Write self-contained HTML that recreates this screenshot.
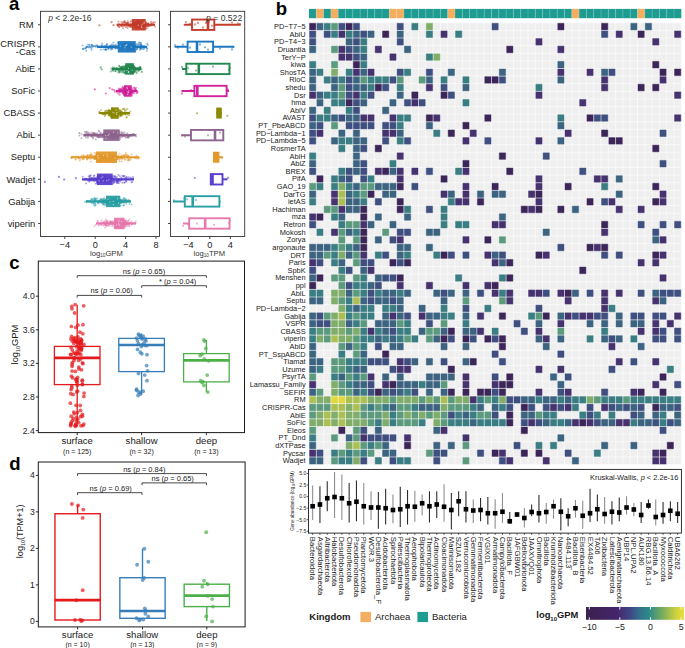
<!DOCTYPE html>
<html><head><meta charset="utf-8"><style>
html,body{margin:0;padding:0;background:#fff;}
svg{display:block;font-family:"Liberation Sans", sans-serif;}
</style></head><body>
<svg width="685" height="648" viewBox="0 0 685 648">
<rect width="685" height="648" fill="#fff"/>
<text x="8.90" y="10.40" font-size="18.6" text-anchor="start" font-weight="bold" fill="#000" >a</text>
<text x="275.80" y="15.30" font-size="18.6" text-anchor="start" font-weight="bold" fill="#000" >b</text>
<text x="9.20" y="268.50" font-size="18.6" text-anchor="start" font-weight="bold" fill="#000" >c</text>
<text x="9.20" y="470.30" font-size="18.6" text-anchor="start" font-weight="bold" fill="#000" >d</text>
<rect x="40.50" y="11.30" width="119.00" height="225.20" fill="none" stroke="#333333" stroke-width="0.9" />
<rect x="170.50" y="11.30" width="74.20" height="225.20" fill="none" stroke="#333333" stroke-width="0.9" />
<line x1="38.00" y1="24.75" x2="40.50" y2="24.75" stroke="#333333" stroke-width="0.9" />
<line x1="116.60" y1="24.75" x2="155.00" y2="24.75" stroke="#c43e2c" stroke-width="2.2" />
<rect x="131.80" y="19.00" width="13.90" height="11.50" fill="#c43e2c" stroke="none" stroke-width="1" fill-opacity="0.95"/>
<g fill="#c43e2c" fill-opacity="0.5"><circle cx="140.7" cy="24.2" r="0.95"/><circle cx="134.9" cy="22.9" r="0.95"/><circle cx="147.3" cy="23.8" r="0.95"/><circle cx="141.9" cy="25.4" r="0.95"/><circle cx="130.8" cy="24.7" r="0.95"/><circle cx="127.3" cy="23.9" r="0.95"/><circle cx="127.8" cy="21.3" r="0.95"/><circle cx="128.0" cy="25.3" r="0.95"/><circle cx="137.2" cy="20.4" r="0.95"/><circle cx="141.0" cy="25.0" r="0.95"/><circle cx="134.7" cy="22.9" r="0.95"/><circle cx="145.5" cy="23.2" r="0.95"/><circle cx="144.4" cy="23.6" r="0.95"/><circle cx="139.5" cy="24.9" r="0.95"/><circle cx="139.2" cy="27.3" r="0.95"/><circle cx="144.3" cy="25.0" r="0.95"/><circle cx="130.6" cy="26.2" r="0.95"/><circle cx="139.2" cy="25.8" r="0.95"/><circle cx="143.1" cy="24.6" r="0.95"/><circle cx="139.5" cy="23.5" r="0.95"/><circle cx="134.8" cy="25.0" r="0.95"/><circle cx="133.8" cy="24.4" r="0.95"/><circle cx="146.1" cy="22.2" r="0.95"/><circle cx="142.9" cy="21.0" r="0.95"/><circle cx="137.9" cy="27.1" r="0.95"/><circle cx="151.7" cy="24.0" r="0.95"/><circle cx="148.5" cy="23.9" r="0.95"/><circle cx="141.0" cy="24.5" r="0.95"/><circle cx="129.3" cy="24.7" r="0.95"/><circle cx="146.2" cy="26.0" r="0.95"/><circle cx="134.7" cy="24.1" r="0.95"/><circle cx="138.7" cy="25.9" r="0.95"/><circle cx="141.0" cy="21.5" r="0.95"/><circle cx="142.1" cy="23.0" r="0.95"/><circle cx="153.1" cy="23.2" r="0.95"/><circle cx="140.1" cy="25.7" r="0.95"/><circle cx="137.0" cy="26.1" r="0.95"/><circle cx="129.9" cy="24.6" r="0.95"/><circle cx="129.8" cy="25.2" r="0.95"/><circle cx="145.0" cy="25.1" r="0.95"/><circle cx="133.7" cy="24.5" r="0.95"/><circle cx="129.1" cy="25.4" r="0.95"/><circle cx="144.2" cy="21.4" r="0.95"/><circle cx="138.8" cy="26.2" r="0.95"/><circle cx="125.7" cy="27.1" r="0.95"/><circle cx="136.6" cy="24.2" r="0.95"/><circle cx="145.4" cy="26.8" r="0.95"/><circle cx="138.3" cy="23.2" r="0.95"/><circle cx="119.3" cy="27.1" r="0.95"/><circle cx="144.9" cy="24.8" r="0.95"/><circle cx="136.0" cy="23.7" r="0.95"/><circle cx="148.1" cy="24.0" r="0.95"/><circle cx="127.0" cy="23.2" r="0.95"/><circle cx="133.0" cy="22.7" r="0.95"/><circle cx="132.3" cy="27.4" r="0.95"/><circle cx="137.0" cy="23.5" r="0.95"/><circle cx="134.7" cy="24.7" r="0.95"/><circle cx="132.3" cy="25.6" r="0.95"/><circle cx="137.5" cy="22.6" r="0.95"/><circle cx="147.3" cy="23.8" r="0.95"/><circle cx="138.5" cy="23.9" r="0.95"/><circle cx="118.4" cy="24.2" r="0.95"/><circle cx="138.9" cy="27.0" r="0.95"/><circle cx="141.2" cy="23.7" r="0.95"/><circle cx="144.8" cy="26.6" r="0.95"/><circle cx="142.2" cy="26.2" r="0.95"/><circle cx="144.7" cy="23.9" r="0.95"/><circle cx="128.1" cy="26.4" r="0.95"/><circle cx="144.3" cy="28.3" r="0.95"/><circle cx="118.6" cy="21.5" r="0.95"/><circle cx="130.1" cy="24.7" r="0.95"/><circle cx="124.7" cy="20.7" r="0.95"/><circle cx="139.0" cy="24.3" r="0.95"/><circle cx="124.3" cy="21.9" r="0.95"/><circle cx="130.5" cy="21.6" r="0.95"/><circle cx="138.2" cy="25.5" r="0.95"/><circle cx="133.1" cy="22.9" r="0.95"/><circle cx="151.2" cy="23.3" r="0.95"/><circle cx="140.9" cy="28.6" r="0.95"/><circle cx="144.4" cy="24.6" r="0.95"/><circle cx="126.4" cy="23.9" r="0.95"/><circle cx="138.0" cy="24.9" r="0.95"/><circle cx="146.1" cy="24.7" r="0.95"/><circle cx="132.9" cy="21.0" r="0.95"/><circle cx="132.9" cy="23.7" r="0.95"/><circle cx="139.1" cy="22.5" r="0.95"/><circle cx="146.0" cy="25.0" r="0.95"/><circle cx="138.3" cy="24.8" r="0.95"/><circle cx="142.3" cy="25.2" r="0.95"/><circle cx="142.0" cy="23.4" r="0.95"/><circle cx="127.9" cy="24.5" r="0.95"/><circle cx="127.5" cy="28.0" r="0.95"/><circle cx="134.8" cy="26.2" r="0.95"/><circle cx="138.2" cy="24.9" r="0.95"/><circle cx="136.5" cy="24.4" r="0.95"/><circle cx="140.9" cy="24.7" r="0.95"/><circle cx="134.0" cy="24.0" r="0.95"/><circle cx="148.8" cy="26.6" r="0.95"/><circle cx="143.0" cy="25.0" r="0.95"/><circle cx="136.6" cy="24.4" r="0.95"/><circle cx="148.4" cy="25.8" r="0.95"/><circle cx="133.8" cy="23.5" r="0.95"/><circle cx="142.0" cy="24.9" r="0.95"/><circle cx="129.3" cy="24.6" r="0.95"/><circle cx="135.4" cy="24.3" r="0.95"/><circle cx="139.5" cy="21.7" r="0.95"/><circle cx="131.5" cy="26.4" r="0.95"/><circle cx="121.4" cy="22.1" r="0.95"/><circle cx="121.1" cy="25.9" r="0.95"/><circle cx="140.0" cy="24.7" r="0.95"/><circle cx="141.7" cy="28.6" r="0.95"/><circle cx="137.0" cy="22.8" r="0.95"/><circle cx="128.1" cy="22.6" r="0.95"/><circle cx="131.0" cy="26.8" r="0.95"/><circle cx="151.1" cy="25.8" r="0.95"/><circle cx="137.1" cy="23.6" r="0.95"/><circle cx="133.2" cy="24.8" r="0.95"/><circle cx="144.9" cy="23.0" r="0.95"/><circle cx="134.5" cy="25.3" r="0.95"/><circle cx="140.1" cy="25.3" r="0.95"/><circle cx="138.4" cy="25.1" r="0.95"/><circle cx="142.0" cy="28.3" r="0.95"/><circle cx="139.1" cy="21.5" r="0.95"/><circle cx="153.1" cy="22.1" r="0.95"/><circle cx="124.7" cy="24.5" r="0.95"/><circle cx="135.6" cy="23.5" r="0.95"/><circle cx="153.2" cy="25.2" r="0.95"/><circle cx="128.8" cy="24.6" r="0.95"/><circle cx="128.9" cy="25.0" r="0.95"/><circle cx="145.9" cy="26.8" r="0.95"/><circle cx="134.7" cy="25.7" r="0.95"/><circle cx="135.4" cy="24.1" r="0.95"/><circle cx="126.4" cy="26.3" r="0.95"/><circle cx="140.1" cy="26.7" r="0.95"/><circle cx="138.9" cy="25.1" r="0.95"/><circle cx="135.5" cy="26.7" r="0.95"/><circle cx="128.4" cy="23.0" r="0.95"/><circle cx="141.7" cy="21.1" r="0.95"/><circle cx="142.6" cy="27.3" r="0.95"/><circle cx="136.2" cy="22.6" r="0.95"/><circle cx="137.3" cy="27.8" r="0.95"/><circle cx="139.8" cy="21.6" r="0.95"/><circle cx="145.0" cy="22.4" r="0.95"/><circle cx="140.9" cy="22.8" r="0.95"/><circle cx="134.8" cy="24.7" r="0.95"/><circle cx="131.7" cy="24.2" r="0.95"/><circle cx="127.8" cy="24.7" r="0.95"/><circle cx="125.7" cy="24.8" r="0.95"/><circle cx="130.4" cy="26.4" r="0.95"/><circle cx="148.3" cy="23.3" r="0.95"/><circle cx="136.8" cy="23.3" r="0.95"/><circle cx="137.4" cy="25.9" r="0.95"/><circle cx="129.5" cy="24.6" r="0.95"/><circle cx="144.9" cy="23.0" r="0.95"/><circle cx="124.1" cy="26.0" r="0.95"/><circle cx="123.4" cy="24.6" r="0.95"/><circle cx="139.1" cy="22.7" r="0.95"/><circle cx="129.1" cy="25.5" r="0.95"/><circle cx="132.6" cy="25.9" r="0.95"/><circle cx="141.5" cy="22.9" r="0.95"/><circle cx="123.1" cy="28.3" r="0.95"/><circle cx="151.1" cy="24.7" r="0.95"/><circle cx="139.1" cy="28.4" r="0.95"/><circle cx="125.5" cy="22.8" r="0.95"/><circle cx="143.5" cy="26.3" r="0.95"/><circle cx="126.9" cy="24.1" r="0.95"/><circle cx="129.6" cy="26.7" r="0.95"/><circle cx="136.3" cy="21.9" r="0.95"/><circle cx="147.6" cy="26.3" r="0.95"/><circle cx="131.3" cy="21.2" r="0.95"/><circle cx="138.5" cy="24.6" r="0.95"/><circle cx="129.2" cy="24.6" r="0.95"/><circle cx="147.0" cy="28.3" r="0.95"/><circle cx="132.2" cy="24.6" r="0.95"/><circle cx="132.4" cy="24.6" r="0.95"/><circle cx="142.6" cy="24.6" r="0.95"/><circle cx="137.2" cy="23.4" r="0.95"/><circle cx="142.1" cy="23.7" r="0.95"/><circle cx="138.7" cy="22.2" r="0.95"/><circle cx="127.3" cy="23.6" r="0.95"/><circle cx="121.1" cy="24.9" r="0.95"/><circle cx="137.4" cy="23.9" r="0.95"/><circle cx="130.4" cy="24.2" r="0.95"/><circle cx="139.3" cy="22.5" r="0.95"/><circle cx="139.7" cy="24.5" r="0.95"/><circle cx="142.3" cy="21.6" r="0.95"/><circle cx="140.3" cy="25.3" r="0.95"/><circle cx="133.2" cy="24.3" r="0.95"/><circle cx="141.5" cy="25.1" r="0.95"/><circle cx="142.2" cy="27.0" r="0.95"/><circle cx="151.0" cy="21.8" r="0.95"/><circle cx="137.5" cy="20.4" r="0.95"/><circle cx="155.0" cy="22.3" r="0.95"/><circle cx="146.9" cy="24.0" r="0.95"/><circle cx="140.2" cy="27.8" r="0.95"/><circle cx="136.7" cy="22.4" r="0.95"/><circle cx="141.5" cy="25.5" r="0.95"/><circle cx="145.1" cy="23.3" r="0.95"/><circle cx="143.4" cy="25.9" r="0.95"/><circle cx="141.3" cy="24.2" r="0.95"/><circle cx="143.0" cy="21.6" r="0.95"/><circle cx="138.3" cy="25.3" r="0.95"/><circle cx="135.6" cy="23.6" r="0.95"/><circle cx="119.5" cy="24.1" r="0.95"/><circle cx="127.0" cy="23.6" r="0.95"/><circle cx="143.6" cy="20.4" r="0.95"/><circle cx="142.2" cy="26.0" r="0.95"/><circle cx="146.0" cy="25.3" r="0.95"/><circle cx="143.8" cy="23.7" r="0.95"/><circle cx="144.6" cy="28.5" r="0.95"/><circle cx="138.3" cy="25.1" r="0.95"/><circle cx="138.5" cy="27.5" r="0.95"/><circle cx="137.2" cy="24.4" r="0.95"/><circle cx="144.3" cy="21.9" r="0.95"/><circle cx="140.9" cy="23.5" r="0.95"/><circle cx="134.0" cy="25.7" r="0.95"/><circle cx="134.7" cy="26.7" r="0.95"/><circle cx="145.8" cy="23.0" r="0.95"/><circle cx="140.1" cy="23.4" r="0.95"/><circle cx="127.2" cy="23.0" r="0.95"/><circle cx="135.8" cy="26.5" r="0.95"/><circle cx="135.0" cy="27.1" r="0.95"/><circle cx="150.2" cy="24.9" r="0.95"/><circle cx="148.6" cy="24.5" r="0.95"/><circle cx="139.5" cy="25.6" r="0.95"/><circle cx="124.7" cy="22.0" r="0.95"/><circle cx="132.3" cy="24.5" r="0.95"/><circle cx="142.7" cy="24.1" r="0.95"/><circle cx="139.1" cy="24.1" r="0.95"/><circle cx="146.0" cy="24.7" r="0.95"/><circle cx="135.7" cy="24.3" r="0.95"/><circle cx="125.2" cy="22.8" r="0.95"/><circle cx="155.0" cy="26.6" r="0.95"/><circle cx="143.3" cy="28.7" r="0.95"/><circle cx="135.6" cy="27.1" r="0.95"/><circle cx="143.0" cy="23.8" r="0.95"/><circle cx="149.7" cy="25.8" r="0.95"/><circle cx="121.5" cy="26.0" r="0.95"/><circle cx="118.3" cy="26.0" r="0.95"/><circle cx="124.3" cy="25.4" r="0.95"/><circle cx="135.9" cy="23.6" r="0.95"/><circle cx="119.1" cy="27.1" r="0.95"/><circle cx="145.9" cy="28.5" r="0.95"/><circle cx="123.4" cy="23.1" r="0.95"/><circle cx="134.5" cy="24.9" r="0.95"/><circle cx="122.9" cy="21.9" r="0.95"/><circle cx="137.8" cy="24.2" r="0.95"/><circle cx="134.2" cy="23.6" r="0.95"/><circle cx="138.5" cy="28.3" r="0.95"/><circle cx="147.2" cy="26.1" r="0.95"/><circle cx="148.0" cy="24.6" r="0.95"/><circle cx="136.3" cy="24.9" r="0.95"/><circle cx="138.0" cy="22.7" r="0.95"/><circle cx="153.4" cy="24.6" r="0.95"/><circle cx="142.2" cy="26.1" r="0.95"/><circle cx="122.3" cy="26.5" r="0.95"/><circle cx="139.5" cy="27.7" r="0.95"/><circle cx="139.3" cy="23.8" r="0.95"/><circle cx="122.1" cy="23.5" r="0.95"/><circle cx="117.9" cy="25.9" r="0.95"/></g>
<g fill="#c43e2c" fill-opacity="0.6"><circle cx="99.4" cy="25.4" r="1.1"/><circle cx="111.6" cy="22.2" r="1.1"/><circle cx="113.5" cy="25.2" r="1.1"/></g>
<rect x="137.80" y="24.70" width="1" height="1.2" fill="#fff" fill-opacity="0.6"/>
<rect x="140.84" y="25.50" width="1" height="1.2" fill="#fff" fill-opacity="0.6"/>
<rect x="143.67" y="21.85" width="1" height="1.2" fill="#fff" fill-opacity="0.6"/>
<rect x="141.66" y="23.63" width="1" height="1.2" fill="#fff" fill-opacity="0.6"/>
<rect x="141.34" y="26.99" width="1" height="1.2" fill="#fff" fill-opacity="0.6"/>
<rect x="143.61" y="22.61" width="1" height="1.2" fill="#fff" fill-opacity="0.6"/>
<line x1="38.00" y1="46.83" x2="40.50" y2="46.83" stroke="#333333" stroke-width="0.9" />
<line x1="97.10" y1="46.83" x2="147.00" y2="46.83" stroke="#1f78bf" stroke-width="2.2" />
<rect x="117.80" y="41.08" width="18.00" height="11.50" fill="#1f78bf" stroke="none" stroke-width="1" fill-opacity="0.95"/>
<g fill="#1f78bf" fill-opacity="0.5"><circle cx="113.9" cy="45.1" r="0.95"/><circle cx="130.4" cy="45.6" r="0.95"/><circle cx="125.9" cy="43.1" r="0.95"/><circle cx="124.9" cy="47.5" r="0.95"/><circle cx="132.0" cy="46.9" r="0.95"/><circle cx="130.3" cy="47.6" r="0.95"/><circle cx="101.9" cy="46.5" r="0.95"/><circle cx="128.5" cy="44.2" r="0.95"/><circle cx="127.7" cy="44.5" r="0.95"/><circle cx="122.0" cy="46.7" r="0.95"/><circle cx="127.6" cy="45.6" r="0.95"/><circle cx="114.4" cy="46.8" r="0.95"/><circle cx="148.0" cy="44.9" r="0.95"/><circle cx="112.5" cy="48.3" r="0.95"/><circle cx="95.7" cy="46.8" r="0.95"/><circle cx="110.5" cy="45.9" r="0.95"/><circle cx="102.1" cy="46.0" r="0.95"/><circle cx="123.6" cy="43.5" r="0.95"/><circle cx="133.4" cy="47.9" r="0.95"/><circle cx="111.6" cy="48.0" r="0.95"/><circle cx="106.8" cy="45.3" r="0.95"/><circle cx="128.6" cy="49.0" r="0.95"/><circle cx="134.5" cy="45.7" r="0.95"/><circle cx="147.3" cy="48.3" r="0.95"/><circle cx="124.2" cy="47.4" r="0.95"/><circle cx="118.4" cy="43.5" r="0.95"/><circle cx="126.9" cy="47.0" r="0.95"/><circle cx="129.4" cy="48.4" r="0.95"/><circle cx="133.9" cy="50.8" r="0.95"/><circle cx="128.9" cy="47.1" r="0.95"/><circle cx="111.0" cy="46.6" r="0.95"/><circle cx="132.9" cy="46.0" r="0.95"/><circle cx="122.1" cy="47.1" r="0.95"/><circle cx="86.8" cy="46.8" r="0.95"/><circle cx="110.3" cy="46.4" r="0.95"/><circle cx="108.5" cy="47.2" r="0.95"/><circle cx="146.7" cy="51.1" r="0.95"/><circle cx="108.9" cy="48.2" r="0.95"/><circle cx="127.6" cy="49.8" r="0.95"/><circle cx="135.5" cy="46.7" r="0.95"/><circle cx="141.4" cy="45.6" r="0.95"/><circle cx="132.9" cy="46.9" r="0.95"/><circle cx="117.9" cy="42.8" r="0.95"/><circle cx="132.6" cy="47.1" r="0.95"/><circle cx="135.3" cy="46.0" r="0.95"/><circle cx="90.6" cy="47.4" r="0.95"/><circle cx="136.6" cy="44.2" r="0.95"/><circle cx="115.9" cy="44.7" r="0.95"/><circle cx="125.1" cy="44.4" r="0.95"/><circle cx="134.5" cy="49.1" r="0.95"/><circle cx="130.1" cy="48.2" r="0.95"/><circle cx="129.7" cy="46.8" r="0.95"/><circle cx="118.4" cy="47.0" r="0.95"/><circle cx="117.1" cy="46.0" r="0.95"/><circle cx="128.6" cy="48.5" r="0.95"/><circle cx="131.6" cy="51.1" r="0.95"/><circle cx="133.5" cy="46.2" r="0.95"/><circle cx="140.8" cy="43.1" r="0.95"/><circle cx="86.0" cy="48.3" r="0.95"/><circle cx="125.6" cy="47.7" r="0.95"/><circle cx="125.5" cy="48.8" r="0.95"/><circle cx="132.0" cy="44.9" r="0.95"/><circle cx="140.9" cy="45.1" r="0.95"/><circle cx="111.2" cy="45.1" r="0.95"/><circle cx="140.2" cy="47.8" r="0.95"/><circle cx="124.4" cy="48.8" r="0.95"/><circle cx="125.2" cy="47.9" r="0.95"/><circle cx="91.7" cy="46.4" r="0.95"/><circle cx="127.5" cy="45.1" r="0.95"/><circle cx="120.0" cy="47.7" r="0.95"/><circle cx="129.8" cy="47.6" r="0.95"/><circle cx="143.4" cy="47.5" r="0.95"/><circle cx="134.7" cy="45.6" r="0.95"/><circle cx="108.3" cy="46.9" r="0.95"/><circle cx="126.7" cy="43.4" r="0.95"/><circle cx="88.9" cy="47.5" r="0.95"/><circle cx="114.6" cy="46.4" r="0.95"/><circle cx="102.3" cy="43.5" r="0.95"/><circle cx="91.9" cy="45.0" r="0.95"/><circle cx="108.8" cy="48.1" r="0.95"/><circle cx="129.3" cy="46.2" r="0.95"/><circle cx="131.5" cy="50.2" r="0.95"/><circle cx="127.8" cy="45.0" r="0.95"/><circle cx="122.6" cy="48.4" r="0.95"/><circle cx="141.1" cy="43.1" r="0.95"/><circle cx="134.1" cy="46.2" r="0.95"/><circle cx="122.3" cy="44.2" r="0.95"/><circle cx="146.9" cy="49.0" r="0.95"/><circle cx="111.9" cy="46.1" r="0.95"/><circle cx="112.8" cy="45.5" r="0.95"/><circle cx="144.8" cy="46.1" r="0.95"/><circle cx="122.2" cy="45.5" r="0.95"/><circle cx="133.0" cy="45.6" r="0.95"/><circle cx="142.2" cy="49.1" r="0.95"/><circle cx="134.0" cy="49.0" r="0.95"/><circle cx="110.5" cy="46.6" r="0.95"/><circle cx="138.9" cy="42.5" r="0.95"/><circle cx="125.3" cy="46.4" r="0.95"/><circle cx="129.0" cy="46.4" r="0.95"/><circle cx="90.3" cy="46.8" r="0.95"/><circle cx="127.9" cy="47.2" r="0.95"/><circle cx="115.9" cy="48.3" r="0.95"/><circle cx="86.3" cy="50.7" r="0.95"/><circle cx="112.7" cy="47.4" r="0.95"/><circle cx="133.3" cy="47.3" r="0.95"/><circle cx="117.6" cy="46.4" r="0.95"/><circle cx="132.9" cy="46.1" r="0.95"/><circle cx="106.3" cy="46.7" r="0.95"/><circle cx="83.2" cy="48.8" r="0.95"/><circle cx="131.0" cy="47.5" r="0.95"/><circle cx="124.6" cy="46.2" r="0.95"/><circle cx="108.3" cy="49.4" r="0.95"/><circle cx="121.8" cy="45.9" r="0.95"/><circle cx="128.1" cy="45.5" r="0.95"/><circle cx="113.5" cy="42.5" r="0.95"/><circle cx="92.5" cy="46.8" r="0.95"/><circle cx="132.1" cy="44.3" r="0.95"/><circle cx="141.4" cy="47.4" r="0.95"/><circle cx="118.1" cy="48.8" r="0.95"/><circle cx="137.5" cy="47.1" r="0.95"/><circle cx="131.9" cy="45.7" r="0.95"/><circle cx="140.1" cy="45.0" r="0.95"/><circle cx="127.6" cy="51.1" r="0.95"/><circle cx="101.6" cy="45.2" r="0.95"/><circle cx="124.0" cy="47.7" r="0.95"/><circle cx="118.4" cy="45.3" r="0.95"/><circle cx="111.0" cy="47.8" r="0.95"/><circle cx="109.5" cy="46.1" r="0.95"/><circle cx="130.9" cy="45.7" r="0.95"/><circle cx="88.0" cy="44.6" r="0.95"/><circle cx="89.4" cy="46.2" r="0.95"/><circle cx="141.2" cy="45.3" r="0.95"/><circle cx="126.7" cy="46.7" r="0.95"/><circle cx="132.7" cy="45.2" r="0.95"/><circle cx="128.7" cy="48.0" r="0.95"/><circle cx="118.3" cy="48.6" r="0.95"/><circle cx="136.2" cy="49.5" r="0.95"/><circle cx="123.8" cy="48.4" r="0.95"/><circle cx="128.5" cy="45.8" r="0.95"/><circle cx="97.1" cy="45.1" r="0.95"/><circle cx="134.1" cy="48.7" r="0.95"/><circle cx="123.6" cy="45.3" r="0.95"/><circle cx="122.6" cy="48.0" r="0.95"/><circle cx="123.3" cy="46.8" r="0.95"/><circle cx="112.1" cy="44.1" r="0.95"/><circle cx="137.5" cy="47.3" r="0.95"/><circle cx="132.2" cy="49.2" r="0.95"/><circle cx="93.7" cy="46.2" r="0.95"/><circle cx="132.1" cy="49.1" r="0.95"/><circle cx="136.6" cy="49.4" r="0.95"/><circle cx="100.7" cy="46.6" r="0.95"/><circle cx="120.3" cy="48.6" r="0.95"/><circle cx="111.0" cy="49.6" r="0.95"/><circle cx="128.6" cy="48.6" r="0.95"/><circle cx="129.6" cy="42.5" r="0.95"/><circle cx="119.0" cy="45.0" r="0.95"/><circle cx="136.6" cy="45.9" r="0.95"/><circle cx="143.5" cy="46.0" r="0.95"/><circle cx="128.8" cy="47.6" r="0.95"/><circle cx="133.3" cy="45.9" r="0.95"/><circle cx="91.5" cy="48.3" r="0.95"/><circle cx="129.5" cy="46.7" r="0.95"/><circle cx="103.9" cy="49.5" r="0.95"/><circle cx="124.6" cy="48.2" r="0.95"/><circle cx="137.2" cy="47.5" r="0.95"/><circle cx="117.6" cy="47.8" r="0.95"/><circle cx="138.3" cy="47.6" r="0.95"/><circle cx="139.3" cy="47.1" r="0.95"/><circle cx="106.7" cy="44.1" r="0.95"/><circle cx="112.3" cy="49.2" r="0.95"/><circle cx="140.9" cy="48.7" r="0.95"/><circle cx="86.2" cy="47.0" r="0.95"/><circle cx="117.7" cy="46.8" r="0.95"/><circle cx="97.7" cy="47.3" r="0.95"/><circle cx="128.3" cy="48.4" r="0.95"/><circle cx="133.2" cy="43.8" r="0.95"/><circle cx="116.5" cy="48.0" r="0.95"/><circle cx="82.6" cy="45.4" r="0.95"/><circle cx="139.6" cy="47.4" r="0.95"/><circle cx="105.7" cy="49.5" r="0.95"/><circle cx="127.0" cy="46.4" r="0.95"/><circle cx="134.1" cy="51.1" r="0.95"/><circle cx="137.2" cy="47.9" r="0.95"/><circle cx="137.8" cy="44.5" r="0.95"/><circle cx="129.1" cy="48.5" r="0.95"/><circle cx="130.0" cy="45.4" r="0.95"/><circle cx="127.3" cy="45.5" r="0.95"/><circle cx="105.2" cy="45.9" r="0.95"/><circle cx="147.2" cy="43.7" r="0.95"/><circle cx="130.2" cy="50.6" r="0.95"/><circle cx="115.2" cy="48.6" r="0.95"/><circle cx="121.2" cy="50.1" r="0.95"/><circle cx="107.1" cy="44.3" r="0.95"/><circle cx="129.3" cy="44.2" r="0.95"/><circle cx="131.2" cy="47.9" r="0.95"/><circle cx="131.9" cy="47.9" r="0.95"/><circle cx="121.5" cy="47.6" r="0.95"/><circle cx="137.7" cy="46.3" r="0.95"/><circle cx="139.8" cy="42.7" r="0.95"/><circle cx="107.6" cy="48.6" r="0.95"/><circle cx="134.9" cy="47.1" r="0.95"/><circle cx="132.0" cy="45.5" r="0.95"/><circle cx="141.8" cy="45.1" r="0.95"/><circle cx="139.9" cy="49.8" r="0.95"/><circle cx="106.3" cy="46.5" r="0.95"/><circle cx="88.1" cy="47.0" r="0.95"/><circle cx="115.9" cy="46.6" r="0.95"/><circle cx="137.5" cy="46.7" r="0.95"/><circle cx="113.5" cy="46.2" r="0.95"/><circle cx="104.5" cy="46.3" r="0.95"/><circle cx="91.5" cy="49.9" r="0.95"/><circle cx="125.0" cy="45.1" r="0.95"/><circle cx="105.7" cy="49.6" r="0.95"/><circle cx="130.8" cy="45.5" r="0.95"/><circle cx="140.2" cy="48.2" r="0.95"/><circle cx="133.4" cy="47.4" r="0.95"/><circle cx="131.8" cy="45.7" r="0.95"/><circle cx="97.4" cy="46.0" r="0.95"/><circle cx="124.3" cy="45.0" r="0.95"/><circle cx="130.5" cy="44.1" r="0.95"/><circle cx="110.7" cy="48.2" r="0.95"/><circle cx="134.9" cy="46.2" r="0.95"/><circle cx="100.9" cy="49.7" r="0.95"/><circle cx="131.4" cy="44.9" r="0.95"/><circle cx="123.1" cy="47.0" r="0.95"/><circle cx="115.2" cy="47.7" r="0.95"/><circle cx="136.7" cy="47.0" r="0.95"/><circle cx="114.6" cy="47.3" r="0.95"/><circle cx="105.4" cy="49.4" r="0.95"/><circle cx="131.2" cy="46.7" r="0.95"/><circle cx="127.3" cy="45.9" r="0.95"/><circle cx="133.0" cy="48.1" r="0.95"/><circle cx="111.3" cy="47.4" r="0.95"/><circle cx="135.3" cy="51.1" r="0.95"/><circle cx="126.2" cy="46.5" r="0.95"/><circle cx="123.5" cy="49.7" r="0.95"/><circle cx="109.7" cy="46.1" r="0.95"/><circle cx="132.9" cy="46.1" r="0.95"/><circle cx="106.0" cy="50.0" r="0.95"/><circle cx="141.5" cy="48.3" r="0.95"/><circle cx="122.6" cy="48.2" r="0.95"/><circle cx="105.9" cy="49.1" r="0.95"/><circle cx="130.3" cy="48.3" r="0.95"/><circle cx="115.4" cy="47.6" r="0.95"/><circle cx="115.0" cy="45.6" r="0.95"/><circle cx="128.0" cy="47.7" r="0.95"/><circle cx="143.5" cy="49.1" r="0.95"/><circle cx="120.5" cy="46.7" r="0.95"/><circle cx="130.3" cy="43.6" r="0.95"/><circle cx="135.2" cy="47.5" r="0.95"/><circle cx="138.4" cy="44.5" r="0.95"/><circle cx="139.2" cy="46.4" r="0.95"/><circle cx="127.8" cy="46.0" r="0.95"/><circle cx="144.4" cy="48.5" r="0.95"/><circle cx="132.5" cy="46.6" r="0.95"/><circle cx="126.7" cy="44.7" r="0.95"/><circle cx="139.8" cy="44.6" r="0.95"/><circle cx="139.0" cy="47.1" r="0.95"/><circle cx="129.5" cy="45.1" r="0.95"/><circle cx="137.2" cy="48.7" r="0.95"/></g>
<g fill="#1f78bf" fill-opacity="0.6"><circle cx="83.0" cy="49.1" r="1.1"/><circle cx="85.0" cy="48.4" r="1.1"/><circle cx="87.0" cy="46.9" r="1.1"/><circle cx="89.5" cy="44.8" r="1.1"/><circle cx="92.0" cy="45.1" r="1.1"/><circle cx="94.0" cy="46.1" r="1.1"/><circle cx="96.0" cy="45.8" r="1.1"/></g>
<rect x="119.72" y="45.67" width="1" height="1.2" fill="#fff" fill-opacity="0.6"/>
<rect x="125.53" y="44.84" width="1" height="1.2" fill="#fff" fill-opacity="0.6"/>
<rect x="124.56" y="45.16" width="1" height="1.2" fill="#fff" fill-opacity="0.6"/>
<rect x="124.45" y="47.16" width="1" height="1.2" fill="#fff" fill-opacity="0.6"/>
<rect x="126.26" y="44.21" width="1" height="1.2" fill="#fff" fill-opacity="0.6"/>
<rect x="130.73" y="46.42" width="1" height="1.2" fill="#fff" fill-opacity="0.6"/>
<line x1="38.00" y1="68.91" x2="40.50" y2="68.91" stroke="#333333" stroke-width="0.9" />
<line x1="112.00" y1="68.91" x2="141.00" y2="68.91" stroke="#23884f" stroke-width="2.2" />
<rect x="125.20" y="63.16" width="8.70" height="11.50" fill="#23884f" stroke="none" stroke-width="1" fill-opacity="0.95"/>
<g fill="#23884f" fill-opacity="0.5"><circle cx="132.7" cy="69.0" r="0.95"/><circle cx="132.8" cy="68.2" r="0.95"/><circle cx="131.6" cy="67.2" r="0.95"/><circle cx="128.3" cy="65.1" r="0.95"/><circle cx="127.4" cy="68.1" r="0.95"/><circle cx="126.9" cy="68.8" r="0.95"/><circle cx="121.0" cy="70.1" r="0.95"/><circle cx="127.9" cy="71.5" r="0.95"/><circle cx="125.7" cy="71.0" r="0.95"/><circle cx="127.3" cy="69.3" r="0.95"/><circle cx="112.9" cy="67.3" r="0.95"/><circle cx="121.3" cy="67.2" r="0.95"/><circle cx="131.0" cy="67.2" r="0.95"/><circle cx="131.5" cy="67.5" r="0.95"/><circle cx="137.6" cy="69.5" r="0.95"/><circle cx="129.1" cy="67.1" r="0.95"/><circle cx="133.8" cy="67.3" r="0.95"/><circle cx="135.0" cy="67.9" r="0.95"/><circle cx="140.0" cy="67.3" r="0.95"/><circle cx="140.0" cy="68.1" r="0.95"/><circle cx="125.4" cy="68.6" r="0.95"/><circle cx="130.5" cy="72.8" r="0.95"/><circle cx="136.5" cy="69.4" r="0.95"/><circle cx="118.9" cy="68.7" r="0.95"/><circle cx="127.8" cy="64.8" r="0.95"/><circle cx="126.7" cy="68.1" r="0.95"/><circle cx="127.9" cy="69.7" r="0.95"/><circle cx="122.7" cy="69.5" r="0.95"/><circle cx="116.8" cy="67.8" r="0.95"/><circle cx="129.1" cy="71.2" r="0.95"/><circle cx="136.8" cy="70.5" r="0.95"/><circle cx="133.3" cy="66.1" r="0.95"/><circle cx="120.1" cy="68.1" r="0.95"/><circle cx="125.8" cy="69.1" r="0.95"/><circle cx="131.9" cy="66.2" r="0.95"/><circle cx="126.5" cy="66.7" r="0.95"/><circle cx="122.1" cy="68.9" r="0.95"/><circle cx="132.3" cy="67.0" r="0.95"/><circle cx="122.8" cy="69.8" r="0.95"/><circle cx="135.5" cy="68.0" r="0.95"/><circle cx="131.2" cy="70.9" r="0.95"/><circle cx="134.6" cy="69.2" r="0.95"/><circle cx="135.5" cy="68.7" r="0.95"/><circle cx="130.3" cy="69.1" r="0.95"/><circle cx="139.0" cy="70.4" r="0.95"/><circle cx="132.7" cy="69.6" r="0.95"/><circle cx="113.3" cy="68.7" r="0.95"/><circle cx="123.9" cy="69.1" r="0.95"/><circle cx="132.8" cy="67.7" r="0.95"/><circle cx="116.0" cy="70.2" r="0.95"/><circle cx="133.4" cy="67.2" r="0.95"/><circle cx="130.0" cy="67.3" r="0.95"/><circle cx="140.2" cy="67.0" r="0.95"/><circle cx="137.8" cy="67.6" r="0.95"/><circle cx="135.2" cy="71.0" r="0.95"/><circle cx="121.2" cy="67.3" r="0.95"/><circle cx="119.4" cy="66.2" r="0.95"/><circle cx="124.6" cy="73.2" r="0.95"/><circle cx="124.8" cy="70.4" r="0.95"/><circle cx="131.9" cy="66.6" r="0.95"/><circle cx="136.1" cy="68.0" r="0.95"/><circle cx="134.4" cy="69.2" r="0.95"/><circle cx="126.8" cy="67.5" r="0.95"/><circle cx="138.4" cy="71.1" r="0.95"/><circle cx="118.0" cy="69.7" r="0.95"/><circle cx="131.7" cy="70.9" r="0.95"/><circle cx="122.5" cy="70.7" r="0.95"/><circle cx="113.6" cy="70.9" r="0.95"/><circle cx="127.3" cy="66.3" r="0.95"/><circle cx="121.0" cy="68.2" r="0.95"/><circle cx="112.6" cy="70.3" r="0.95"/><circle cx="121.7" cy="70.2" r="0.95"/><circle cx="118.2" cy="72.4" r="0.95"/><circle cx="130.7" cy="69.3" r="0.95"/><circle cx="126.2" cy="70.8" r="0.95"/><circle cx="134.9" cy="67.5" r="0.95"/><circle cx="138.6" cy="69.5" r="0.95"/><circle cx="140.3" cy="69.6" r="0.95"/><circle cx="133.1" cy="66.7" r="0.95"/><circle cx="140.9" cy="67.8" r="0.95"/><circle cx="127.2" cy="68.9" r="0.95"/><circle cx="132.3" cy="65.0" r="0.95"/><circle cx="126.6" cy="68.4" r="0.95"/><circle cx="120.5" cy="70.0" r="0.95"/><circle cx="124.8" cy="66.3" r="0.95"/><circle cx="131.3" cy="67.1" r="0.95"/><circle cx="134.6" cy="70.9" r="0.95"/><circle cx="127.4" cy="66.8" r="0.95"/><circle cx="131.0" cy="71.0" r="0.95"/><circle cx="135.3" cy="70.5" r="0.95"/><circle cx="132.0" cy="69.7" r="0.95"/><circle cx="130.6" cy="70.8" r="0.95"/><circle cx="137.9" cy="68.7" r="0.95"/><circle cx="128.9" cy="68.4" r="0.95"/><circle cx="127.3" cy="66.5" r="0.95"/><circle cx="130.7" cy="73.0" r="0.95"/><circle cx="134.0" cy="67.0" r="0.95"/><circle cx="136.5" cy="72.3" r="0.95"/><circle cx="112.5" cy="69.5" r="0.95"/><circle cx="129.4" cy="68.4" r="0.95"/><circle cx="132.4" cy="69.9" r="0.95"/><circle cx="119.7" cy="71.7" r="0.95"/><circle cx="134.4" cy="71.6" r="0.95"/><circle cx="133.4" cy="68.5" r="0.95"/><circle cx="138.2" cy="68.9" r="0.95"/><circle cx="130.1" cy="68.6" r="0.95"/><circle cx="131.2" cy="67.2" r="0.95"/><circle cx="114.4" cy="67.8" r="0.95"/><circle cx="125.1" cy="72.7" r="0.95"/><circle cx="131.7" cy="68.8" r="0.95"/><circle cx="131.1" cy="68.7" r="0.95"/><circle cx="131.0" cy="71.6" r="0.95"/><circle cx="139.6" cy="67.2" r="0.95"/><circle cx="122.2" cy="72.4" r="0.95"/><circle cx="129.1" cy="70.7" r="0.95"/><circle cx="121.4" cy="68.3" r="0.95"/><circle cx="138.4" cy="68.7" r="0.95"/><circle cx="124.4" cy="68.2" r="0.95"/><circle cx="132.1" cy="71.8" r="0.95"/><circle cx="128.7" cy="68.1" r="0.95"/><circle cx="122.5" cy="68.6" r="0.95"/><circle cx="132.9" cy="69.1" r="0.95"/><circle cx="111.2" cy="68.4" r="0.95"/><circle cx="132.4" cy="69.5" r="0.95"/><circle cx="134.3" cy="71.2" r="0.95"/><circle cx="123.8" cy="71.8" r="0.95"/><circle cx="124.1" cy="66.7" r="0.95"/><circle cx="125.9" cy="65.9" r="0.95"/><circle cx="120.1" cy="66.6" r="0.95"/><circle cx="124.5" cy="68.8" r="0.95"/><circle cx="133.4" cy="68.3" r="0.95"/><circle cx="123.5" cy="72.2" r="0.95"/><circle cx="121.4" cy="68.9" r="0.95"/><circle cx="131.8" cy="72.4" r="0.95"/><circle cx="125.6" cy="68.7" r="0.95"/><circle cx="130.7" cy="69.2" r="0.95"/><circle cx="130.0" cy="64.9" r="0.95"/><circle cx="130.1" cy="66.5" r="0.95"/><circle cx="126.9" cy="69.6" r="0.95"/><circle cx="123.0" cy="70.4" r="0.95"/><circle cx="125.9" cy="66.3" r="0.95"/><circle cx="132.7" cy="65.8" r="0.95"/><circle cx="133.0" cy="68.2" r="0.95"/><circle cx="121.3" cy="71.4" r="0.95"/><circle cx="130.7" cy="65.6" r="0.95"/><circle cx="134.2" cy="72.2" r="0.95"/><circle cx="135.5" cy="67.8" r="0.95"/><circle cx="129.6" cy="69.7" r="0.95"/><circle cx="134.1" cy="71.4" r="0.95"/><circle cx="119.6" cy="69.6" r="0.95"/><circle cx="112.1" cy="70.4" r="0.95"/><circle cx="126.0" cy="72.9" r="0.95"/><circle cx="124.0" cy="69.1" r="0.95"/><circle cx="123.9" cy="69.6" r="0.95"/><circle cx="141.7" cy="72.1" r="0.95"/><circle cx="133.4" cy="69.9" r="0.95"/><circle cx="136.5" cy="68.9" r="0.95"/><circle cx="122.5" cy="68.4" r="0.95"/><circle cx="127.0" cy="69.9" r="0.95"/><circle cx="124.7" cy="68.9" r="0.95"/><circle cx="124.1" cy="66.7" r="0.95"/><circle cx="116.8" cy="69.1" r="0.95"/><circle cx="124.7" cy="67.0" r="0.95"/><circle cx="133.9" cy="66.4" r="0.95"/><circle cx="132.4" cy="68.2" r="0.95"/><circle cx="134.5" cy="72.2" r="0.95"/><circle cx="127.3" cy="70.9" r="0.95"/><circle cx="139.1" cy="67.8" r="0.95"/><circle cx="133.1" cy="72.9" r="0.95"/><circle cx="113.3" cy="68.7" r="0.95"/><circle cx="138.7" cy="68.3" r="0.95"/><circle cx="132.4" cy="71.9" r="0.95"/><circle cx="134.5" cy="69.9" r="0.95"/><circle cx="129.9" cy="69.0" r="0.95"/><circle cx="121.8" cy="67.2" r="0.95"/><circle cx="119.3" cy="71.1" r="0.95"/><circle cx="128.9" cy="67.5" r="0.95"/><circle cx="131.2" cy="70.3" r="0.95"/><circle cx="134.3" cy="67.9" r="0.95"/><circle cx="118.0" cy="70.4" r="0.95"/><circle cx="126.5" cy="71.1" r="0.95"/><circle cx="118.8" cy="70.9" r="0.95"/><circle cx="125.7" cy="69.1" r="0.95"/><circle cx="131.2" cy="70.1" r="0.95"/><circle cx="119.8" cy="71.9" r="0.95"/><circle cx="115.3" cy="71.1" r="0.95"/><circle cx="122.6" cy="67.6" r="0.95"/><circle cx="129.2" cy="71.1" r="0.95"/><circle cx="138.9" cy="70.1" r="0.95"/><circle cx="131.8" cy="71.8" r="0.95"/><circle cx="133.7" cy="70.0" r="0.95"/><circle cx="115.6" cy="71.3" r="0.95"/><circle cx="127.5" cy="67.1" r="0.95"/><circle cx="126.7" cy="67.6" r="0.95"/><circle cx="141.8" cy="71.6" r="0.95"/><circle cx="127.7" cy="67.6" r="0.95"/><circle cx="121.2" cy="67.9" r="0.95"/><circle cx="122.8" cy="66.2" r="0.95"/><circle cx="141.6" cy="69.2" r="0.95"/><circle cx="132.5" cy="68.3" r="0.95"/><circle cx="119.1" cy="65.7" r="0.95"/><circle cx="123.9" cy="69.0" r="0.95"/><circle cx="110.7" cy="71.6" r="0.95"/><circle cx="127.0" cy="67.4" r="0.95"/><circle cx="122.0" cy="66.8" r="0.95"/><circle cx="119.2" cy="69.8" r="0.95"/><circle cx="128.5" cy="70.7" r="0.95"/><circle cx="121.4" cy="68.4" r="0.95"/><circle cx="119.5" cy="72.6" r="0.95"/><circle cx="131.4" cy="69.5" r="0.95"/><circle cx="130.3" cy="70.6" r="0.95"/><circle cx="131.5" cy="70.2" r="0.95"/><circle cx="136.6" cy="73.2" r="0.95"/><circle cx="134.4" cy="66.2" r="0.95"/><circle cx="123.6" cy="67.8" r="0.95"/><circle cx="123.6" cy="68.7" r="0.95"/><circle cx="128.4" cy="69.1" r="0.95"/><circle cx="124.2" cy="72.5" r="0.95"/><circle cx="121.8" cy="67.4" r="0.95"/><circle cx="139.6" cy="69.5" r="0.95"/></g>
<g fill="#23884f" fill-opacity="0.6"><circle cx="101.7" cy="69.3" r="1.1"/><circle cx="100.7" cy="67.3" r="1.1"/></g>
<rect x="131.69" y="69.68" width="1" height="1.2" fill="#fff" fill-opacity="0.6"/>
<rect x="128.12" y="70.90" width="1" height="1.2" fill="#fff" fill-opacity="0.6"/>
<rect x="128.37" y="71.51" width="1" height="1.2" fill="#fff" fill-opacity="0.6"/>
<rect x="127.89" y="71.80" width="1" height="1.2" fill="#fff" fill-opacity="0.6"/>
<rect x="126.56" y="70.05" width="1" height="1.2" fill="#fff" fill-opacity="0.6"/>
<rect x="127.86" y="67.88" width="1" height="1.2" fill="#fff" fill-opacity="0.6"/>
<line x1="38.00" y1="90.99" x2="40.50" y2="90.99" stroke="#333333" stroke-width="0.9" />
<line x1="116.00" y1="90.99" x2="137.00" y2="90.99" stroke="#d2249a" stroke-width="2.2" />
<rect x="124.00" y="85.24" width="7.80" height="11.50" fill="#d2249a" stroke="none" stroke-width="1" fill-opacity="0.95"/>
<g fill="#d2249a" fill-opacity="0.5"><circle cx="126.9" cy="89.1" r="0.95"/><circle cx="123.6" cy="93.7" r="0.95"/><circle cx="130.4" cy="93.2" r="0.95"/><circle cx="127.0" cy="91.5" r="0.95"/><circle cx="123.4" cy="91.2" r="0.95"/><circle cx="123.0" cy="91.7" r="0.95"/><circle cx="131.7" cy="91.0" r="0.95"/><circle cx="128.4" cy="90.7" r="0.95"/><circle cx="126.1" cy="92.4" r="0.95"/><circle cx="136.1" cy="87.8" r="0.95"/><circle cx="126.0" cy="91.3" r="0.95"/><circle cx="125.6" cy="92.5" r="0.95"/><circle cx="122.6" cy="93.5" r="0.95"/><circle cx="125.3" cy="92.6" r="0.95"/><circle cx="132.1" cy="90.6" r="0.95"/><circle cx="135.5" cy="89.5" r="0.95"/><circle cx="128.6" cy="91.1" r="0.95"/><circle cx="119.2" cy="91.5" r="0.95"/><circle cx="132.5" cy="90.3" r="0.95"/><circle cx="127.3" cy="89.9" r="0.95"/><circle cx="123.7" cy="93.2" r="0.95"/><circle cx="131.5" cy="90.5" r="0.95"/><circle cx="127.1" cy="91.9" r="0.95"/><circle cx="135.3" cy="89.7" r="0.95"/><circle cx="134.2" cy="90.5" r="0.95"/><circle cx="137.4" cy="93.1" r="0.95"/><circle cx="126.1" cy="95.3" r="0.95"/><circle cx="130.0" cy="90.7" r="0.95"/><circle cx="121.8" cy="91.8" r="0.95"/><circle cx="126.8" cy="88.8" r="0.95"/><circle cx="126.4" cy="88.2" r="0.95"/><circle cx="132.2" cy="95.3" r="0.95"/><circle cx="125.2" cy="89.3" r="0.95"/><circle cx="135.5" cy="89.9" r="0.95"/><circle cx="131.5" cy="92.2" r="0.95"/><circle cx="124.5" cy="92.2" r="0.95"/><circle cx="123.0" cy="90.1" r="0.95"/><circle cx="134.0" cy="93.5" r="0.95"/><circle cx="122.4" cy="91.3" r="0.95"/><circle cx="128.2" cy="90.6" r="0.95"/><circle cx="126.1" cy="92.6" r="0.95"/><circle cx="126.6" cy="90.8" r="0.95"/><circle cx="131.0" cy="90.5" r="0.95"/><circle cx="133.0" cy="88.2" r="0.95"/><circle cx="123.1" cy="92.3" r="0.95"/><circle cx="120.3" cy="89.2" r="0.95"/><circle cx="124.1" cy="88.7" r="0.95"/><circle cx="126.8" cy="91.7" r="0.95"/><circle cx="124.8" cy="89.6" r="0.95"/><circle cx="133.5" cy="91.1" r="0.95"/><circle cx="122.9" cy="91.3" r="0.95"/><circle cx="119.5" cy="89.5" r="0.95"/><circle cx="126.4" cy="90.4" r="0.95"/><circle cx="129.3" cy="86.7" r="0.95"/><circle cx="124.7" cy="93.6" r="0.95"/><circle cx="124.3" cy="90.6" r="0.95"/><circle cx="127.9" cy="89.9" r="0.95"/><circle cx="136.3" cy="90.6" r="0.95"/><circle cx="131.3" cy="92.3" r="0.95"/><circle cx="132.4" cy="92.9" r="0.95"/><circle cx="132.0" cy="90.8" r="0.95"/><circle cx="128.6" cy="91.6" r="0.95"/><circle cx="124.3" cy="87.0" r="0.95"/><circle cx="118.6" cy="91.1" r="0.95"/><circle cx="120.2" cy="92.3" r="0.95"/><circle cx="128.3" cy="94.2" r="0.95"/><circle cx="129.2" cy="93.0" r="0.95"/><circle cx="129.5" cy="92.8" r="0.95"/><circle cx="125.2" cy="89.4" r="0.95"/><circle cx="127.4" cy="88.2" r="0.95"/><circle cx="130.1" cy="90.9" r="0.95"/><circle cx="119.3" cy="89.5" r="0.95"/><circle cx="129.6" cy="89.9" r="0.95"/><circle cx="127.6" cy="91.0" r="0.95"/><circle cx="130.6" cy="90.1" r="0.95"/><circle cx="129.6" cy="93.1" r="0.95"/><circle cx="128.5" cy="91.1" r="0.95"/><circle cx="131.7" cy="92.8" r="0.95"/><circle cx="131.2" cy="91.2" r="0.95"/><circle cx="127.8" cy="87.0" r="0.95"/><circle cx="135.2" cy="88.8" r="0.95"/><circle cx="123.9" cy="95.0" r="0.95"/><circle cx="128.5" cy="88.0" r="0.95"/><circle cx="126.1" cy="94.6" r="0.95"/><circle cx="129.4" cy="91.1" r="0.95"/><circle cx="126.0" cy="86.9" r="0.95"/><circle cx="134.2" cy="87.4" r="0.95"/><circle cx="125.3" cy="95.3" r="0.95"/><circle cx="127.0" cy="93.1" r="0.95"/><circle cx="125.2" cy="92.3" r="0.95"/><circle cx="119.7" cy="94.9" r="0.95"/><circle cx="125.1" cy="91.6" r="0.95"/><circle cx="121.7" cy="90.0" r="0.95"/><circle cx="128.2" cy="93.1" r="0.95"/><circle cx="129.8" cy="92.1" r="0.95"/><circle cx="128.8" cy="89.2" r="0.95"/><circle cx="129.6" cy="91.0" r="0.95"/><circle cx="128.3" cy="89.5" r="0.95"/><circle cx="127.4" cy="89.4" r="0.95"/><circle cx="130.6" cy="89.9" r="0.95"/><circle cx="126.5" cy="90.4" r="0.95"/><circle cx="124.5" cy="90.2" r="0.95"/><circle cx="124.6" cy="93.9" r="0.95"/><circle cx="126.7" cy="94.0" r="0.95"/><circle cx="117.1" cy="92.7" r="0.95"/><circle cx="137.0" cy="91.5" r="0.95"/><circle cx="132.8" cy="90.2" r="0.95"/><circle cx="123.2" cy="92.5" r="0.95"/><circle cx="134.3" cy="90.9" r="0.95"/><circle cx="124.5" cy="90.3" r="0.95"/><circle cx="129.4" cy="88.5" r="0.95"/><circle cx="127.1" cy="89.4" r="0.95"/><circle cx="126.0" cy="88.0" r="0.95"/><circle cx="134.6" cy="88.1" r="0.95"/><circle cx="130.2" cy="92.2" r="0.95"/><circle cx="126.4" cy="91.3" r="0.95"/><circle cx="124.9" cy="88.8" r="0.95"/><circle cx="132.1" cy="91.7" r="0.95"/><circle cx="129.4" cy="91.2" r="0.95"/><circle cx="126.0" cy="91.2" r="0.95"/><circle cx="137.4" cy="91.4" r="0.95"/><circle cx="126.0" cy="91.7" r="0.95"/><circle cx="127.7" cy="91.8" r="0.95"/><circle cx="123.4" cy="88.7" r="0.95"/><circle cx="128.8" cy="91.9" r="0.95"/><circle cx="130.2" cy="89.3" r="0.95"/><circle cx="124.0" cy="88.2" r="0.95"/><circle cx="129.1" cy="92.3" r="0.95"/><circle cx="134.7" cy="91.5" r="0.95"/><circle cx="123.2" cy="88.3" r="0.95"/><circle cx="133.5" cy="92.0" r="0.95"/><circle cx="128.5" cy="89.7" r="0.95"/><circle cx="130.4" cy="92.0" r="0.95"/><circle cx="131.8" cy="91.9" r="0.95"/><circle cx="122.5" cy="92.0" r="0.95"/><circle cx="130.4" cy="90.7" r="0.95"/><circle cx="131.5" cy="92.2" r="0.95"/><circle cx="129.8" cy="88.7" r="0.95"/><circle cx="130.0" cy="90.4" r="0.95"/><circle cx="124.1" cy="89.8" r="0.95"/><circle cx="124.9" cy="89.3" r="0.95"/><circle cx="123.0" cy="90.0" r="0.95"/><circle cx="124.9" cy="90.6" r="0.95"/><circle cx="121.4" cy="88.4" r="0.95"/><circle cx="128.1" cy="92.9" r="0.95"/><circle cx="126.3" cy="92.3" r="0.95"/><circle cx="136.5" cy="93.3" r="0.95"/><circle cx="122.6" cy="91.7" r="0.95"/><circle cx="124.3" cy="92.4" r="0.95"/><circle cx="125.7" cy="92.8" r="0.95"/><circle cx="129.0" cy="90.0" r="0.95"/><circle cx="129.6" cy="89.1" r="0.95"/><circle cx="125.2" cy="94.8" r="0.95"/><circle cx="130.2" cy="88.7" r="0.95"/><circle cx="124.6" cy="92.3" r="0.95"/><circle cx="128.6" cy="89.5" r="0.95"/><circle cx="129.3" cy="92.1" r="0.95"/><circle cx="126.5" cy="92.1" r="0.95"/><circle cx="123.2" cy="87.8" r="0.95"/><circle cx="130.0" cy="90.3" r="0.95"/><circle cx="125.5" cy="94.0" r="0.95"/><circle cx="125.2" cy="93.6" r="0.95"/><circle cx="128.1" cy="89.8" r="0.95"/><circle cx="122.5" cy="90.1" r="0.95"/><circle cx="129.2" cy="92.0" r="0.95"/><circle cx="128.7" cy="89.1" r="0.95"/><circle cx="125.5" cy="89.2" r="0.95"/><circle cx="126.6" cy="88.6" r="0.95"/><circle cx="127.4" cy="91.2" r="0.95"/><circle cx="129.8" cy="90.6" r="0.95"/><circle cx="128.1" cy="94.6" r="0.95"/><circle cx="132.3" cy="93.6" r="0.95"/><circle cx="124.1" cy="94.8" r="0.95"/><circle cx="126.7" cy="90.6" r="0.95"/><circle cx="128.1" cy="90.7" r="0.95"/><circle cx="124.6" cy="89.0" r="0.95"/><circle cx="130.6" cy="93.1" r="0.95"/><circle cx="137.3" cy="91.9" r="0.95"/><circle cx="122.2" cy="91.4" r="0.95"/><circle cx="120.6" cy="89.6" r="0.95"/><circle cx="125.8" cy="89.6" r="0.95"/><circle cx="131.6" cy="92.9" r="0.95"/><circle cx="127.6" cy="92.9" r="0.95"/><circle cx="124.5" cy="92.6" r="0.95"/><circle cx="122.6" cy="86.7" r="0.95"/><circle cx="123.3" cy="90.7" r="0.95"/><circle cx="127.2" cy="89.7" r="0.95"/><circle cx="123.5" cy="90.9" r="0.95"/><circle cx="124.1" cy="89.1" r="0.95"/><circle cx="120.4" cy="89.6" r="0.95"/><circle cx="131.2" cy="90.2" r="0.95"/><circle cx="121.8" cy="88.8" r="0.95"/><circle cx="126.9" cy="93.1" r="0.95"/><circle cx="131.9" cy="91.5" r="0.95"/><circle cx="118.7" cy="88.5" r="0.95"/><circle cx="133.2" cy="91.4" r="0.95"/><circle cx="126.0" cy="90.3" r="0.95"/><circle cx="131.6" cy="91.6" r="0.95"/><circle cx="126.4" cy="92.0" r="0.95"/><circle cx="124.1" cy="94.3" r="0.95"/><circle cx="127.9" cy="93.8" r="0.95"/><circle cx="127.5" cy="92.0" r="0.95"/><circle cx="125.0" cy="86.7" r="0.95"/><circle cx="119.2" cy="92.3" r="0.95"/><circle cx="123.4" cy="90.6" r="0.95"/><circle cx="130.2" cy="94.4" r="0.95"/><circle cx="131.2" cy="89.9" r="0.95"/><circle cx="128.5" cy="90.1" r="0.95"/><circle cx="127.6" cy="91.4" r="0.95"/><circle cx="125.6" cy="89.6" r="0.95"/><circle cx="120.1" cy="89.8" r="0.95"/><circle cx="130.5" cy="87.9" r="0.95"/><circle cx="118.6" cy="93.7" r="0.95"/><circle cx="131.4" cy="90.6" r="0.95"/><circle cx="123.8" cy="92.5" r="0.95"/><circle cx="126.6" cy="92.9" r="0.95"/><circle cx="135.4" cy="91.3" r="0.95"/><circle cx="132.3" cy="91.6" r="0.95"/><circle cx="127.7" cy="89.5" r="0.95"/><circle cx="128.2" cy="89.6" r="0.95"/></g>
<g fill="#d2249a" fill-opacity="0.6"><circle cx="94.9" cy="89.3" r="1.1"/><circle cx="105.8" cy="93.5" r="1.1"/><circle cx="109.7" cy="88.2" r="1.1"/><circle cx="112.2" cy="89.5" r="1.1"/><circle cx="114.0" cy="90.0" r="1.1"/><circle cx="115.0" cy="91.5" r="1.1"/></g>
<rect x="126.77" y="87.77" width="1" height="1.2" fill="#fff" fill-opacity="0.6"/>
<rect x="127.74" y="92.06" width="1" height="1.2" fill="#fff" fill-opacity="0.6"/>
<rect x="128.38" y="90.42" width="1" height="1.2" fill="#fff" fill-opacity="0.6"/>
<rect x="126.47" y="87.06" width="1" height="1.2" fill="#fff" fill-opacity="0.6"/>
<rect x="127.56" y="91.39" width="1" height="1.2" fill="#fff" fill-opacity="0.6"/>
<rect x="127.12" y="93.70" width="1" height="1.2" fill="#fff" fill-opacity="0.6"/>
<line x1="38.00" y1="113.07" x2="40.50" y2="113.07" stroke="#333333" stroke-width="0.9" />
<line x1="100.00" y1="113.07" x2="130.00" y2="113.07" stroke="#8b8a00" stroke-width="2.2" />
<rect x="111.00" y="107.32" width="7.70" height="11.50" fill="#8b8a00" stroke="none" stroke-width="1" fill-opacity="0.95"/>
<g fill="#8b8a00" fill-opacity="0.5"><circle cx="110.7" cy="115.7" r="0.95"/><circle cx="129.1" cy="115.3" r="0.95"/><circle cx="112.2" cy="112.2" r="0.95"/><circle cx="118.4" cy="110.8" r="0.95"/><circle cx="110.4" cy="114.5" r="0.95"/><circle cx="114.9" cy="109.9" r="0.95"/><circle cx="106.0" cy="113.7" r="0.95"/><circle cx="114.7" cy="117.0" r="0.95"/><circle cx="113.0" cy="113.3" r="0.95"/><circle cx="121.0" cy="115.2" r="0.95"/><circle cx="121.6" cy="114.0" r="0.95"/><circle cx="117.8" cy="110.7" r="0.95"/><circle cx="126.5" cy="113.5" r="0.95"/><circle cx="117.1" cy="112.4" r="0.95"/><circle cx="101.1" cy="110.0" r="0.95"/><circle cx="114.6" cy="112.6" r="0.95"/><circle cx="118.7" cy="109.1" r="0.95"/><circle cx="109.9" cy="110.7" r="0.95"/><circle cx="114.1" cy="112.6" r="0.95"/><circle cx="111.9" cy="116.9" r="0.95"/><circle cx="104.7" cy="113.6" r="0.95"/><circle cx="117.8" cy="110.9" r="0.95"/><circle cx="110.1" cy="110.9" r="0.95"/><circle cx="103.6" cy="114.4" r="0.95"/><circle cx="114.7" cy="114.8" r="0.95"/><circle cx="120.6" cy="110.4" r="0.95"/><circle cx="119.8" cy="110.4" r="0.95"/><circle cx="114.3" cy="112.1" r="0.95"/><circle cx="123.8" cy="108.8" r="0.95"/><circle cx="129.5" cy="113.1" r="0.95"/><circle cx="119.5" cy="116.5" r="0.95"/><circle cx="115.4" cy="112.7" r="0.95"/><circle cx="115.9" cy="114.3" r="0.95"/><circle cx="99.4" cy="111.8" r="0.95"/><circle cx="114.0" cy="112.8" r="0.95"/><circle cx="124.9" cy="112.8" r="0.95"/><circle cx="121.9" cy="111.6" r="0.95"/><circle cx="114.7" cy="113.5" r="0.95"/><circle cx="111.4" cy="113.1" r="0.95"/><circle cx="101.4" cy="113.2" r="0.95"/><circle cx="108.5" cy="110.5" r="0.95"/><circle cx="112.6" cy="117.0" r="0.95"/><circle cx="115.3" cy="114.0" r="0.95"/><circle cx="122.4" cy="113.9" r="0.95"/><circle cx="116.0" cy="115.6" r="0.95"/><circle cx="108.8" cy="111.9" r="0.95"/><circle cx="111.1" cy="112.4" r="0.95"/><circle cx="113.3" cy="113.9" r="0.95"/><circle cx="114.9" cy="117.0" r="0.95"/><circle cx="118.9" cy="115.0" r="0.95"/><circle cx="111.8" cy="108.8" r="0.95"/><circle cx="116.0" cy="116.7" r="0.95"/><circle cx="127.1" cy="112.6" r="0.95"/><circle cx="99.6" cy="113.3" r="0.95"/><circle cx="119.2" cy="113.2" r="0.95"/><circle cx="120.9" cy="114.4" r="0.95"/><circle cx="121.3" cy="115.2" r="0.95"/><circle cx="106.7" cy="110.4" r="0.95"/><circle cx="119.4" cy="113.3" r="0.95"/><circle cx="115.1" cy="113.1" r="0.95"/><circle cx="110.6" cy="117.2" r="0.95"/><circle cx="111.2" cy="110.6" r="0.95"/><circle cx="113.2" cy="111.7" r="0.95"/><circle cx="124.9" cy="112.7" r="0.95"/><circle cx="113.0" cy="111.0" r="0.95"/><circle cx="117.2" cy="117.4" r="0.95"/><circle cx="120.3" cy="114.7" r="0.95"/><circle cx="106.5" cy="111.3" r="0.95"/><circle cx="125.0" cy="112.9" r="0.95"/><circle cx="121.2" cy="113.7" r="0.95"/><circle cx="112.3" cy="112.6" r="0.95"/><circle cx="120.7" cy="113.2" r="0.95"/><circle cx="112.9" cy="110.4" r="0.95"/><circle cx="119.8" cy="113.9" r="0.95"/><circle cx="115.2" cy="114.7" r="0.95"/><circle cx="121.2" cy="111.9" r="0.95"/><circle cx="115.7" cy="111.2" r="0.95"/><circle cx="121.4" cy="112.2" r="0.95"/><circle cx="114.0" cy="112.7" r="0.95"/><circle cx="110.6" cy="113.9" r="0.95"/><circle cx="125.5" cy="114.2" r="0.95"/><circle cx="113.5" cy="110.4" r="0.95"/><circle cx="109.7" cy="114.9" r="0.95"/><circle cx="125.5" cy="114.5" r="0.95"/><circle cx="116.3" cy="113.5" r="0.95"/><circle cx="120.8" cy="111.7" r="0.95"/><circle cx="113.3" cy="111.8" r="0.95"/><circle cx="127.0" cy="113.2" r="0.95"/><circle cx="126.7" cy="117.4" r="0.95"/><circle cx="121.6" cy="114.3" r="0.95"/><circle cx="100.2" cy="113.0" r="0.95"/><circle cx="118.8" cy="113.7" r="0.95"/><circle cx="120.6" cy="113.9" r="0.95"/><circle cx="110.4" cy="114.0" r="0.95"/><circle cx="109.7" cy="112.4" r="0.95"/><circle cx="115.6" cy="113.6" r="0.95"/><circle cx="115.0" cy="114.3" r="0.95"/><circle cx="109.1" cy="115.5" r="0.95"/><circle cx="107.5" cy="111.0" r="0.95"/><circle cx="116.6" cy="114.9" r="0.95"/><circle cx="109.6" cy="110.8" r="0.95"/><circle cx="113.0" cy="112.7" r="0.95"/><circle cx="115.6" cy="114.3" r="0.95"/><circle cx="117.0" cy="111.3" r="0.95"/><circle cx="111.0" cy="115.3" r="0.95"/><circle cx="112.1" cy="115.4" r="0.95"/><circle cx="124.5" cy="114.0" r="0.95"/><circle cx="119.9" cy="111.6" r="0.95"/><circle cx="106.1" cy="113.6" r="0.95"/><circle cx="114.4" cy="112.3" r="0.95"/><circle cx="112.3" cy="111.7" r="0.95"/><circle cx="124.0" cy="113.7" r="0.95"/><circle cx="111.2" cy="114.2" r="0.95"/><circle cx="124.8" cy="110.5" r="0.95"/><circle cx="111.1" cy="115.6" r="0.95"/><circle cx="121.5" cy="111.8" r="0.95"/><circle cx="108.2" cy="111.9" r="0.95"/><circle cx="122.5" cy="115.6" r="0.95"/><circle cx="108.6" cy="112.8" r="0.95"/><circle cx="113.3" cy="113.7" r="0.95"/><circle cx="112.4" cy="109.2" r="0.95"/><circle cx="123.3" cy="113.8" r="0.95"/><circle cx="110.0" cy="112.3" r="0.95"/><circle cx="109.1" cy="111.3" r="0.95"/><circle cx="125.0" cy="112.3" r="0.95"/><circle cx="125.9" cy="109.7" r="0.95"/><circle cx="115.1" cy="112.9" r="0.95"/><circle cx="112.8" cy="115.0" r="0.95"/><circle cx="114.1" cy="113.1" r="0.95"/><circle cx="113.8" cy="115.0" r="0.95"/><circle cx="116.0" cy="113.0" r="0.95"/><circle cx="105.1" cy="111.1" r="0.95"/><circle cx="110.6" cy="111.1" r="0.95"/><circle cx="118.2" cy="109.7" r="0.95"/><circle cx="99.3" cy="112.9" r="0.95"/><circle cx="115.3" cy="111.9" r="0.95"/><circle cx="108.4" cy="112.9" r="0.95"/><circle cx="108.4" cy="112.9" r="0.95"/><circle cx="130.2" cy="111.4" r="0.95"/><circle cx="119.1" cy="113.2" r="0.95"/><circle cx="124.0" cy="113.3" r="0.95"/><circle cx="116.6" cy="113.9" r="0.95"/><circle cx="121.3" cy="113.8" r="0.95"/><circle cx="108.2" cy="112.8" r="0.95"/><circle cx="112.4" cy="113.3" r="0.95"/><circle cx="126.5" cy="117.2" r="0.95"/><circle cx="117.4" cy="112.6" r="0.95"/><circle cx="108.0" cy="113.2" r="0.95"/><circle cx="115.7" cy="111.2" r="0.95"/><circle cx="110.6" cy="114.1" r="0.95"/><circle cx="121.9" cy="113.0" r="0.95"/><circle cx="109.3" cy="114.2" r="0.95"/><circle cx="123.9" cy="113.2" r="0.95"/><circle cx="102.7" cy="113.7" r="0.95"/><circle cx="122.6" cy="109.3" r="0.95"/><circle cx="104.8" cy="116.2" r="0.95"/><circle cx="115.6" cy="112.1" r="0.95"/><circle cx="112.8" cy="114.3" r="0.95"/><circle cx="120.9" cy="112.4" r="0.95"/><circle cx="112.5" cy="113.7" r="0.95"/><circle cx="117.2" cy="113.4" r="0.95"/><circle cx="110.3" cy="115.9" r="0.95"/><circle cx="109.4" cy="112.9" r="0.95"/><circle cx="127.4" cy="108.8" r="0.95"/><circle cx="119.4" cy="110.9" r="0.95"/><circle cx="112.5" cy="116.2" r="0.95"/><circle cx="105.3" cy="114.9" r="0.95"/><circle cx="112.8" cy="108.9" r="0.95"/><circle cx="113.7" cy="115.2" r="0.95"/><circle cx="112.6" cy="112.2" r="0.95"/><circle cx="124.0" cy="109.0" r="0.95"/><circle cx="126.2" cy="112.4" r="0.95"/><circle cx="123.4" cy="112.9" r="0.95"/><circle cx="112.0" cy="112.5" r="0.95"/><circle cx="117.0" cy="111.5" r="0.95"/><circle cx="114.0" cy="115.6" r="0.95"/><circle cx="110.0" cy="113.8" r="0.95"/><circle cx="118.3" cy="113.8" r="0.95"/><circle cx="118.1" cy="116.5" r="0.95"/><circle cx="114.6" cy="112.3" r="0.95"/><circle cx="118.2" cy="112.9" r="0.95"/><circle cx="103.8" cy="113.7" r="0.95"/><circle cx="120.0" cy="110.6" r="0.95"/><circle cx="111.6" cy="113.8" r="0.95"/><circle cx="110.0" cy="111.9" r="0.95"/><circle cx="109.3" cy="109.6" r="0.95"/><circle cx="127.7" cy="114.8" r="0.95"/><circle cx="111.0" cy="113.7" r="0.95"/><circle cx="121.4" cy="113.7" r="0.95"/><circle cx="114.9" cy="113.2" r="0.95"/><circle cx="120.6" cy="116.3" r="0.95"/><circle cx="112.7" cy="108.8" r="0.95"/><circle cx="112.2" cy="109.0" r="0.95"/><circle cx="118.6" cy="111.7" r="0.95"/><circle cx="109.0" cy="114.5" r="0.95"/><circle cx="113.0" cy="116.8" r="0.95"/><circle cx="117.8" cy="112.8" r="0.95"/><circle cx="114.7" cy="113.8" r="0.95"/><circle cx="117.0" cy="115.4" r="0.95"/><circle cx="105.3" cy="111.2" r="0.95"/><circle cx="105.1" cy="114.2" r="0.95"/><circle cx="109.6" cy="110.9" r="0.95"/><circle cx="115.5" cy="111.4" r="0.95"/><circle cx="119.0" cy="113.5" r="0.95"/><circle cx="102.1" cy="112.6" r="0.95"/><circle cx="113.3" cy="112.3" r="0.95"/><circle cx="119.4" cy="113.0" r="0.95"/><circle cx="109.0" cy="111.9" r="0.95"/><circle cx="108.8" cy="110.7" r="0.95"/><circle cx="122.5" cy="113.4" r="0.95"/><circle cx="114.1" cy="112.5" r="0.95"/><circle cx="110.9" cy="115.8" r="0.95"/><circle cx="119.5" cy="114.4" r="0.95"/><circle cx="108.0" cy="112.7" r="0.95"/><circle cx="119.1" cy="113.9" r="0.95"/><circle cx="115.8" cy="111.6" r="0.95"/><circle cx="109.2" cy="115.0" r="0.95"/><circle cx="113.5" cy="117.4" r="0.95"/><circle cx="108.0" cy="113.0" r="0.95"/><circle cx="113.9" cy="114.2" r="0.95"/><circle cx="112.6" cy="117.4" r="0.95"/><circle cx="111.6" cy="112.1" r="0.95"/><circle cx="117.5" cy="114.5" r="0.95"/><circle cx="102.6" cy="114.1" r="0.95"/><circle cx="113.1" cy="110.3" r="0.95"/><circle cx="110.5" cy="113.0" r="0.95"/><circle cx="115.2" cy="113.3" r="0.95"/><circle cx="111.1" cy="111.4" r="0.95"/><circle cx="99.6" cy="112.4" r="0.95"/><circle cx="112.3" cy="114.7" r="0.95"/><circle cx="115.7" cy="111.5" r="0.95"/><circle cx="120.7" cy="115.2" r="0.95"/><circle cx="108.2" cy="115.1" r="0.95"/><circle cx="113.3" cy="113.7" r="0.95"/><circle cx="119.8" cy="113.1" r="0.95"/><circle cx="110.8" cy="114.0" r="0.95"/><circle cx="121.0" cy="115.2" r="0.95"/><circle cx="118.2" cy="114.3" r="0.95"/><circle cx="113.1" cy="112.5" r="0.95"/><circle cx="113.1" cy="110.4" r="0.95"/></g>
<g fill="#8b8a00" fill-opacity="0.6"></g>
<rect x="116.29" y="111.95" width="1" height="1.2" fill="#fff" fill-opacity="0.6"/>
<rect x="115.98" y="113.93" width="1" height="1.2" fill="#fff" fill-opacity="0.6"/>
<rect x="112.41" y="111.60" width="1" height="1.2" fill="#fff" fill-opacity="0.6"/>
<rect x="113.56" y="112.24" width="1" height="1.2" fill="#fff" fill-opacity="0.6"/>
<rect x="115.54" y="109.66" width="1" height="1.2" fill="#fff" fill-opacity="0.6"/>
<rect x="116.35" y="112.41" width="1" height="1.2" fill="#fff" fill-opacity="0.6"/>
<line x1="38.00" y1="135.15" x2="40.50" y2="135.15" stroke="#333333" stroke-width="0.9" />
<line x1="83.70" y1="135.15" x2="135.80" y2="135.15" stroke="#8f6590" stroke-width="2.2" />
<rect x="103.30" y="129.40" width="16.40" height="11.50" fill="#8f6590" stroke="none" stroke-width="1" fill-opacity="0.95"/>
<g fill="#8f6590" fill-opacity="0.5"><circle cx="126.4" cy="134.6" r="0.95"/><circle cx="106.7" cy="132.2" r="0.95"/><circle cx="120.4" cy="139.1" r="0.95"/><circle cx="118.2" cy="134.7" r="0.95"/><circle cx="87.9" cy="133.6" r="0.95"/><circle cx="79.4" cy="135.5" r="0.95"/><circle cx="136.1" cy="136.6" r="0.95"/><circle cx="116.9" cy="132.8" r="0.95"/><circle cx="87.9" cy="137.9" r="0.95"/><circle cx="96.7" cy="135.0" r="0.95"/><circle cx="116.2" cy="135.9" r="0.95"/><circle cx="103.5" cy="135.3" r="0.95"/><circle cx="101.0" cy="133.0" r="0.95"/><circle cx="99.8" cy="137.2" r="0.95"/><circle cx="117.2" cy="138.5" r="0.95"/><circle cx="118.9" cy="133.4" r="0.95"/><circle cx="117.7" cy="138.1" r="0.95"/><circle cx="133.7" cy="135.7" r="0.95"/><circle cx="121.1" cy="135.2" r="0.95"/><circle cx="98.3" cy="137.0" r="0.95"/><circle cx="116.4" cy="132.5" r="0.95"/><circle cx="98.5" cy="136.8" r="0.95"/><circle cx="106.0" cy="137.4" r="0.95"/><circle cx="112.1" cy="134.2" r="0.95"/><circle cx="114.5" cy="136.0" r="0.95"/><circle cx="117.0" cy="133.6" r="0.95"/><circle cx="111.6" cy="133.9" r="0.95"/><circle cx="91.9" cy="136.6" r="0.95"/><circle cx="86.5" cy="131.9" r="0.95"/><circle cx="105.4" cy="135.9" r="0.95"/><circle cx="106.8" cy="133.1" r="0.95"/><circle cx="113.5" cy="133.4" r="0.95"/><circle cx="113.7" cy="132.5" r="0.95"/><circle cx="121.9" cy="136.8" r="0.95"/><circle cx="87.2" cy="134.1" r="0.95"/><circle cx="97.3" cy="136.0" r="0.95"/><circle cx="115.0" cy="134.2" r="0.95"/><circle cx="113.3" cy="130.8" r="0.95"/><circle cx="110.8" cy="137.0" r="0.95"/><circle cx="108.3" cy="133.9" r="0.95"/><circle cx="105.9" cy="134.0" r="0.95"/><circle cx="116.8" cy="134.1" r="0.95"/><circle cx="112.4" cy="133.8" r="0.95"/><circle cx="115.1" cy="137.4" r="0.95"/><circle cx="104.2" cy="134.8" r="0.95"/><circle cx="84.1" cy="136.0" r="0.95"/><circle cx="107.5" cy="131.3" r="0.95"/><circle cx="112.4" cy="135.4" r="0.95"/><circle cx="117.7" cy="136.2" r="0.95"/><circle cx="121.9" cy="134.1" r="0.95"/><circle cx="128.0" cy="136.9" r="0.95"/><circle cx="88.1" cy="135.5" r="0.95"/><circle cx="110.5" cy="132.8" r="0.95"/><circle cx="95.7" cy="135.6" r="0.95"/><circle cx="121.3" cy="133.8" r="0.95"/><circle cx="81.6" cy="134.2" r="0.95"/><circle cx="131.8" cy="135.5" r="0.95"/><circle cx="106.0" cy="135.2" r="0.95"/><circle cx="93.3" cy="137.4" r="0.95"/><circle cx="123.0" cy="136.5" r="0.95"/><circle cx="103.9" cy="134.8" r="0.95"/><circle cx="101.6" cy="136.9" r="0.95"/><circle cx="89.1" cy="133.2" r="0.95"/><circle cx="114.2" cy="137.3" r="0.95"/><circle cx="113.6" cy="137.4" r="0.95"/><circle cx="105.1" cy="137.7" r="0.95"/><circle cx="107.6" cy="136.0" r="0.95"/><circle cx="101.6" cy="134.9" r="0.95"/><circle cx="83.6" cy="134.9" r="0.95"/><circle cx="125.0" cy="136.6" r="0.95"/><circle cx="94.7" cy="134.6" r="0.95"/><circle cx="94.3" cy="134.2" r="0.95"/><circle cx="109.0" cy="133.3" r="0.95"/><circle cx="129.1" cy="135.3" r="0.95"/><circle cx="106.0" cy="134.2" r="0.95"/><circle cx="109.7" cy="138.6" r="0.95"/><circle cx="127.2" cy="133.2" r="0.95"/><circle cx="100.1" cy="136.3" r="0.95"/><circle cx="90.7" cy="135.8" r="0.95"/><circle cx="136.1" cy="134.7" r="0.95"/><circle cx="133.8" cy="134.2" r="0.95"/><circle cx="120.9" cy="134.7" r="0.95"/><circle cx="102.9" cy="134.2" r="0.95"/><circle cx="99.2" cy="131.7" r="0.95"/><circle cx="97.1" cy="134.3" r="0.95"/><circle cx="97.9" cy="136.8" r="0.95"/><circle cx="125.8" cy="137.7" r="0.95"/><circle cx="108.8" cy="133.6" r="0.95"/><circle cx="122.5" cy="132.4" r="0.95"/><circle cx="94.8" cy="133.5" r="0.95"/><circle cx="131.7" cy="135.3" r="0.95"/><circle cx="103.0" cy="137.2" r="0.95"/><circle cx="111.8" cy="139.3" r="0.95"/><circle cx="111.7" cy="136.4" r="0.95"/><circle cx="111.7" cy="137.0" r="0.95"/><circle cx="115.1" cy="134.5" r="0.95"/><circle cx="112.0" cy="137.9" r="0.95"/><circle cx="108.4" cy="130.8" r="0.95"/><circle cx="112.4" cy="133.4" r="0.95"/><circle cx="97.1" cy="136.9" r="0.95"/><circle cx="105.7" cy="135.6" r="0.95"/><circle cx="111.3" cy="135.0" r="0.95"/><circle cx="127.1" cy="137.2" r="0.95"/><circle cx="93.9" cy="133.6" r="0.95"/><circle cx="102.4" cy="136.8" r="0.95"/><circle cx="114.3" cy="136.4" r="0.95"/><circle cx="132.6" cy="134.5" r="0.95"/><circle cx="92.3" cy="134.2" r="0.95"/><circle cx="109.5" cy="133.6" r="0.95"/><circle cx="116.6" cy="137.1" r="0.95"/><circle cx="112.0" cy="137.1" r="0.95"/><circle cx="113.1" cy="133.9" r="0.95"/><circle cx="109.9" cy="136.6" r="0.95"/><circle cx="99.0" cy="137.6" r="0.95"/><circle cx="98.6" cy="134.8" r="0.95"/><circle cx="104.0" cy="135.2" r="0.95"/><circle cx="109.0" cy="136.2" r="0.95"/><circle cx="111.5" cy="132.4" r="0.95"/><circle cx="100.8" cy="134.3" r="0.95"/><circle cx="113.3" cy="132.0" r="0.95"/><circle cx="107.7" cy="136.1" r="0.95"/><circle cx="120.1" cy="137.6" r="0.95"/><circle cx="111.2" cy="133.2" r="0.95"/><circle cx="88.8" cy="135.7" r="0.95"/><circle cx="111.5" cy="134.9" r="0.95"/><circle cx="113.5" cy="135.7" r="0.95"/><circle cx="104.6" cy="133.2" r="0.95"/><circle cx="115.5" cy="134.7" r="0.95"/><circle cx="133.3" cy="133.7" r="0.95"/><circle cx="114.0" cy="133.0" r="0.95"/><circle cx="128.7" cy="136.9" r="0.95"/><circle cx="117.2" cy="135.4" r="0.95"/><circle cx="109.5" cy="134.3" r="0.95"/><circle cx="120.2" cy="135.8" r="0.95"/><circle cx="86.0" cy="137.4" r="0.95"/><circle cx="124.3" cy="134.5" r="0.95"/><circle cx="114.2" cy="133.3" r="0.95"/><circle cx="104.9" cy="137.0" r="0.95"/><circle cx="85.9" cy="135.7" r="0.95"/><circle cx="93.7" cy="134.0" r="0.95"/><circle cx="121.4" cy="132.3" r="0.95"/><circle cx="130.8" cy="136.3" r="0.95"/><circle cx="111.3" cy="132.9" r="0.95"/><circle cx="115.2" cy="136.5" r="0.95"/><circle cx="118.5" cy="136.0" r="0.95"/><circle cx="94.5" cy="133.0" r="0.95"/><circle cx="103.2" cy="136.5" r="0.95"/><circle cx="128.2" cy="138.0" r="0.95"/><circle cx="106.6" cy="136.3" r="0.95"/><circle cx="98.0" cy="135.8" r="0.95"/><circle cx="113.6" cy="138.1" r="0.95"/><circle cx="101.1" cy="135.4" r="0.95"/><circle cx="117.1" cy="133.5" r="0.95"/><circle cx="115.2" cy="137.0" r="0.95"/><circle cx="93.1" cy="138.5" r="0.95"/><circle cx="124.7" cy="136.0" r="0.95"/><circle cx="129.0" cy="135.8" r="0.95"/><circle cx="127.2" cy="136.8" r="0.95"/><circle cx="109.8" cy="135.2" r="0.95"/><circle cx="84.9" cy="131.6" r="0.95"/><circle cx="102.5" cy="137.4" r="0.95"/><circle cx="129.2" cy="136.6" r="0.95"/><circle cx="95.3" cy="134.4" r="0.95"/><circle cx="121.2" cy="134.4" r="0.95"/><circle cx="93.6" cy="135.7" r="0.95"/><circle cx="104.5" cy="137.3" r="0.95"/><circle cx="88.1" cy="132.5" r="0.95"/><circle cx="111.7" cy="135.0" r="0.95"/><circle cx="118.4" cy="134.3" r="0.95"/><circle cx="95.8" cy="139.2" r="0.95"/><circle cx="109.3" cy="137.9" r="0.95"/><circle cx="101.0" cy="135.2" r="0.95"/><circle cx="123.1" cy="133.4" r="0.95"/><circle cx="113.9" cy="137.2" r="0.95"/><circle cx="107.2" cy="132.4" r="0.95"/><circle cx="128.5" cy="136.5" r="0.95"/><circle cx="93.0" cy="133.2" r="0.95"/><circle cx="104.3" cy="135.2" r="0.95"/><circle cx="100.2" cy="133.4" r="0.95"/><circle cx="91.4" cy="136.1" r="0.95"/><circle cx="115.5" cy="133.1" r="0.95"/><circle cx="121.4" cy="134.8" r="0.95"/><circle cx="116.6" cy="134.5" r="0.95"/><circle cx="120.9" cy="135.5" r="0.95"/><circle cx="119.5" cy="132.0" r="0.95"/><circle cx="100.4" cy="137.1" r="0.95"/><circle cx="111.1" cy="135.4" r="0.95"/><circle cx="94.9" cy="135.9" r="0.95"/><circle cx="90.7" cy="134.4" r="0.95"/><circle cx="106.5" cy="134.9" r="0.95"/><circle cx="105.4" cy="137.3" r="0.95"/><circle cx="98.6" cy="130.8" r="0.95"/><circle cx="86.7" cy="131.7" r="0.95"/><circle cx="118.3" cy="131.5" r="0.95"/><circle cx="115.9" cy="133.7" r="0.95"/><circle cx="91.0" cy="132.9" r="0.95"/><circle cx="91.8" cy="136.8" r="0.95"/><circle cx="97.0" cy="133.3" r="0.95"/><circle cx="107.2" cy="136.8" r="0.95"/><circle cx="95.2" cy="134.2" r="0.95"/><circle cx="99.7" cy="135.7" r="0.95"/><circle cx="124.0" cy="135.2" r="0.95"/><circle cx="103.2" cy="133.5" r="0.95"/><circle cx="115.2" cy="136.1" r="0.95"/><circle cx="111.8" cy="137.5" r="0.95"/><circle cx="93.6" cy="135.1" r="0.95"/><circle cx="118.2" cy="134.7" r="0.95"/><circle cx="105.4" cy="131.7" r="0.95"/><circle cx="87.5" cy="136.0" r="0.95"/><circle cx="105.6" cy="133.2" r="0.95"/><circle cx="117.9" cy="134.2" r="0.95"/><circle cx="96.9" cy="135.3" r="0.95"/><circle cx="105.0" cy="134.1" r="0.95"/><circle cx="112.8" cy="134.7" r="0.95"/><circle cx="100.8" cy="136.1" r="0.95"/><circle cx="110.1" cy="134.5" r="0.95"/><circle cx="105.7" cy="135.8" r="0.95"/><circle cx="119.2" cy="134.3" r="0.95"/><circle cx="110.2" cy="134.8" r="0.95"/><circle cx="106.3" cy="137.2" r="0.95"/><circle cx="108.3" cy="136.5" r="0.95"/><circle cx="81.4" cy="138.3" r="0.95"/><circle cx="117.1" cy="135.6" r="0.95"/><circle cx="116.4" cy="135.2" r="0.95"/><circle cx="104.4" cy="135.0" r="0.95"/><circle cx="114.1" cy="137.8" r="0.95"/><circle cx="85.4" cy="133.2" r="0.95"/><circle cx="100.9" cy="136.1" r="0.95"/><circle cx="103.4" cy="135.6" r="0.95"/><circle cx="93.0" cy="132.4" r="0.95"/><circle cx="124.6" cy="132.5" r="0.95"/><circle cx="123.7" cy="134.7" r="0.95"/><circle cx="103.2" cy="135.0" r="0.95"/><circle cx="111.0" cy="136.9" r="0.95"/><circle cx="96.4" cy="135.7" r="0.95"/><circle cx="114.3" cy="132.9" r="0.95"/><circle cx="113.0" cy="133.4" r="0.95"/><circle cx="104.5" cy="133.4" r="0.95"/><circle cx="86.5" cy="133.6" r="0.95"/><circle cx="98.7" cy="134.8" r="0.95"/><circle cx="121.5" cy="136.6" r="0.95"/><circle cx="116.6" cy="134.2" r="0.95"/><circle cx="104.7" cy="133.9" r="0.95"/><circle cx="118.5" cy="135.5" r="0.95"/><circle cx="119.4" cy="132.5" r="0.95"/><circle cx="96.0" cy="135.3" r="0.95"/><circle cx="124.0" cy="136.0" r="0.95"/><circle cx="115.1" cy="132.7" r="0.95"/><circle cx="116.2" cy="135.5" r="0.95"/><circle cx="106.6" cy="136.0" r="0.95"/></g>
<g fill="#8f6590" fill-opacity="0.6"><circle cx="79.5" cy="133.0" r="1.1"/></g>
<rect x="108.52" y="133.62" width="1" height="1.2" fill="#fff" fill-opacity="0.6"/>
<rect x="105.38" y="137.62" width="1" height="1.2" fill="#fff" fill-opacity="0.6"/>
<rect x="107.76" y="134.93" width="1" height="1.2" fill="#fff" fill-opacity="0.6"/>
<rect x="105.19" y="135.01" width="1" height="1.2" fill="#fff" fill-opacity="0.6"/>
<rect x="112.96" y="131.71" width="1" height="1.2" fill="#fff" fill-opacity="0.6"/>
<rect x="117.37" y="132.29" width="1" height="1.2" fill="#fff" fill-opacity="0.6"/>
<line x1="38.00" y1="157.23" x2="40.50" y2="157.23" stroke="#333333" stroke-width="0.9" />
<line x1="71.00" y1="157.23" x2="139.00" y2="157.23" stroke="#e4992d" stroke-width="2.2" />
<rect x="96.00" y="151.48" width="21.00" height="11.50" fill="#e4992d" stroke="none" stroke-width="1" fill-opacity="0.95"/>
<g fill="#e4992d" fill-opacity="0.5"><circle cx="83.4" cy="155.5" r="0.95"/><circle cx="87.1" cy="159.1" r="0.95"/><circle cx="81.1" cy="156.9" r="0.95"/><circle cx="110.8" cy="157.9" r="0.95"/><circle cx="128.3" cy="159.9" r="0.95"/><circle cx="95.3" cy="155.3" r="0.95"/><circle cx="98.1" cy="159.4" r="0.95"/><circle cx="92.7" cy="157.7" r="0.95"/><circle cx="90.8" cy="157.7" r="0.95"/><circle cx="113.3" cy="157.1" r="0.95"/><circle cx="101.9" cy="156.4" r="0.95"/><circle cx="94.4" cy="156.2" r="0.95"/><circle cx="91.1" cy="153.1" r="0.95"/><circle cx="94.8" cy="156.1" r="0.95"/><circle cx="92.1" cy="155.1" r="0.95"/><circle cx="136.5" cy="158.5" r="0.95"/><circle cx="84.9" cy="157.1" r="0.95"/><circle cx="115.6" cy="156.7" r="0.95"/><circle cx="104.5" cy="156.0" r="0.95"/><circle cx="113.2" cy="154.5" r="0.95"/><circle cx="101.6" cy="155.8" r="0.95"/><circle cx="118.7" cy="157.6" r="0.95"/><circle cx="106.0" cy="158.7" r="0.95"/><circle cx="97.7" cy="155.3" r="0.95"/><circle cx="105.8" cy="156.4" r="0.95"/><circle cx="96.0" cy="152.9" r="0.95"/><circle cx="130.8" cy="158.8" r="0.95"/><circle cx="131.5" cy="154.4" r="0.95"/><circle cx="114.9" cy="158.9" r="0.95"/><circle cx="102.0" cy="157.6" r="0.95"/><circle cx="100.9" cy="160.2" r="0.95"/><circle cx="104.2" cy="160.6" r="0.95"/><circle cx="94.5" cy="152.9" r="0.95"/><circle cx="90.9" cy="161.5" r="0.95"/><circle cx="108.2" cy="153.7" r="0.95"/><circle cx="100.7" cy="156.8" r="0.95"/><circle cx="117.6" cy="159.0" r="0.95"/><circle cx="107.0" cy="157.9" r="0.95"/><circle cx="107.1" cy="160.4" r="0.95"/><circle cx="97.3" cy="156.2" r="0.95"/><circle cx="94.6" cy="159.0" r="0.95"/><circle cx="94.4" cy="157.8" r="0.95"/><circle cx="101.8" cy="158.1" r="0.95"/><circle cx="95.0" cy="158.9" r="0.95"/><circle cx="99.9" cy="158.5" r="0.95"/><circle cx="78.7" cy="158.3" r="0.95"/><circle cx="108.4" cy="156.0" r="0.95"/><circle cx="116.2" cy="160.4" r="0.95"/><circle cx="83.0" cy="159.6" r="0.95"/><circle cx="114.6" cy="157.5" r="0.95"/><circle cx="106.8" cy="158.1" r="0.95"/><circle cx="97.8" cy="155.8" r="0.95"/><circle cx="110.3" cy="155.7" r="0.95"/><circle cx="91.1" cy="156.3" r="0.95"/><circle cx="88.5" cy="158.2" r="0.95"/><circle cx="101.8" cy="160.8" r="0.95"/><circle cx="88.9" cy="155.3" r="0.95"/><circle cx="97.1" cy="156.5" r="0.95"/><circle cx="115.7" cy="152.9" r="0.95"/><circle cx="86.9" cy="159.7" r="0.95"/><circle cx="98.7" cy="155.0" r="0.95"/><circle cx="100.1" cy="157.6" r="0.95"/><circle cx="120.9" cy="157.9" r="0.95"/><circle cx="121.7" cy="156.8" r="0.95"/><circle cx="115.1" cy="157.9" r="0.95"/><circle cx="106.4" cy="156.2" r="0.95"/><circle cx="117.8" cy="157.1" r="0.95"/><circle cx="84.6" cy="156.7" r="0.95"/><circle cx="98.5" cy="154.1" r="0.95"/><circle cx="112.9" cy="154.9" r="0.95"/><circle cx="91.7" cy="154.6" r="0.95"/><circle cx="99.2" cy="155.0" r="0.95"/><circle cx="91.9" cy="157.3" r="0.95"/><circle cx="115.5" cy="156.3" r="0.95"/><circle cx="87.6" cy="156.7" r="0.95"/><circle cx="116.8" cy="155.9" r="0.95"/><circle cx="89.8" cy="159.1" r="0.95"/><circle cx="82.7" cy="158.3" r="0.95"/><circle cx="110.1" cy="155.1" r="0.95"/><circle cx="119.8" cy="161.5" r="0.95"/><circle cx="107.0" cy="155.2" r="0.95"/><circle cx="101.7" cy="155.6" r="0.95"/><circle cx="130.3" cy="160.1" r="0.95"/><circle cx="98.0" cy="156.1" r="0.95"/><circle cx="86.5" cy="158.0" r="0.95"/><circle cx="110.4" cy="157.6" r="0.95"/><circle cx="115.2" cy="154.3" r="0.95"/><circle cx="124.8" cy="159.7" r="0.95"/><circle cx="101.2" cy="159.8" r="0.95"/><circle cx="85.1" cy="156.3" r="0.95"/><circle cx="121.6" cy="155.5" r="0.95"/><circle cx="101.7" cy="161.5" r="0.95"/><circle cx="104.0" cy="156.5" r="0.95"/><circle cx="114.7" cy="155.1" r="0.95"/><circle cx="87.3" cy="155.7" r="0.95"/><circle cx="87.5" cy="155.8" r="0.95"/><circle cx="112.7" cy="158.7" r="0.95"/><circle cx="138.5" cy="158.7" r="0.95"/><circle cx="79.1" cy="158.5" r="0.95"/><circle cx="118.5" cy="156.7" r="0.95"/><circle cx="101.1" cy="158.2" r="0.95"/><circle cx="96.1" cy="154.5" r="0.95"/><circle cx="116.8" cy="158.0" r="0.95"/><circle cx="90.9" cy="156.1" r="0.95"/><circle cx="89.7" cy="156.8" r="0.95"/><circle cx="88.4" cy="157.9" r="0.95"/><circle cx="103.8" cy="155.7" r="0.95"/><circle cx="100.5" cy="156.1" r="0.95"/><circle cx="108.5" cy="159.3" r="0.95"/><circle cx="97.9" cy="156.9" r="0.95"/><circle cx="87.1" cy="155.3" r="0.95"/><circle cx="83.9" cy="159.0" r="0.95"/><circle cx="104.0" cy="158.2" r="0.95"/><circle cx="121.5" cy="156.4" r="0.95"/><circle cx="102.5" cy="160.7" r="0.95"/><circle cx="93.1" cy="156.5" r="0.95"/><circle cx="70.8" cy="157.6" r="0.95"/><circle cx="80.6" cy="159.1" r="0.95"/><circle cx="96.2" cy="156.9" r="0.95"/><circle cx="106.6" cy="159.1" r="0.95"/><circle cx="122.9" cy="156.4" r="0.95"/><circle cx="111.3" cy="159.5" r="0.95"/><circle cx="120.0" cy="157.3" r="0.95"/><circle cx="114.7" cy="158.5" r="0.95"/><circle cx="78.3" cy="156.8" r="0.95"/><circle cx="88.7" cy="156.7" r="0.95"/><circle cx="124.3" cy="155.5" r="0.95"/><circle cx="94.2" cy="158.6" r="0.95"/><circle cx="111.0" cy="157.9" r="0.95"/><circle cx="94.0" cy="156.2" r="0.95"/><circle cx="79.8" cy="160.7" r="0.95"/><circle cx="72.9" cy="156.5" r="0.95"/><circle cx="111.0" cy="157.3" r="0.95"/><circle cx="125.3" cy="155.9" r="0.95"/><circle cx="102.1" cy="154.9" r="0.95"/><circle cx="128.5" cy="155.6" r="0.95"/><circle cx="101.2" cy="158.6" r="0.95"/><circle cx="99.9" cy="161.3" r="0.95"/><circle cx="90.5" cy="155.1" r="0.95"/><circle cx="114.5" cy="158.3" r="0.95"/><circle cx="96.5" cy="158.5" r="0.95"/><circle cx="101.5" cy="156.7" r="0.95"/><circle cx="108.2" cy="155.9" r="0.95"/><circle cx="87.4" cy="158.6" r="0.95"/><circle cx="107.0" cy="159.0" r="0.95"/><circle cx="121.9" cy="161.5" r="0.95"/><circle cx="109.7" cy="157.1" r="0.95"/><circle cx="87.1" cy="157.2" r="0.95"/><circle cx="75.6" cy="159.4" r="0.95"/><circle cx="100.7" cy="159.9" r="0.95"/><circle cx="83.4" cy="155.4" r="0.95"/><circle cx="104.2" cy="156.5" r="0.95"/><circle cx="99.0" cy="159.3" r="0.95"/><circle cx="122.1" cy="158.3" r="0.95"/><circle cx="104.3" cy="158.9" r="0.95"/><circle cx="98.4" cy="159.4" r="0.95"/><circle cx="106.1" cy="156.8" r="0.95"/><circle cx="117.2" cy="158.7" r="0.95"/><circle cx="112.0" cy="158.8" r="0.95"/><circle cx="95.8" cy="156.8" r="0.95"/><circle cx="118.3" cy="158.4" r="0.95"/><circle cx="106.8" cy="160.6" r="0.95"/><circle cx="110.4" cy="160.2" r="0.95"/><circle cx="127.8" cy="157.9" r="0.95"/><circle cx="104.9" cy="159.2" r="0.95"/><circle cx="102.9" cy="158.9" r="0.95"/><circle cx="107.8" cy="157.8" r="0.95"/><circle cx="101.8" cy="156.4" r="0.95"/><circle cx="126.0" cy="154.8" r="0.95"/><circle cx="103.2" cy="157.2" r="0.95"/><circle cx="106.8" cy="157.3" r="0.95"/><circle cx="95.4" cy="159.0" r="0.95"/><circle cx="119.8" cy="153.6" r="0.95"/><circle cx="75.1" cy="156.9" r="0.95"/><circle cx="89.9" cy="155.2" r="0.95"/><circle cx="75.9" cy="156.4" r="0.95"/><circle cx="113.4" cy="158.9" r="0.95"/><circle cx="127.1" cy="156.1" r="0.95"/><circle cx="113.1" cy="160.2" r="0.95"/><circle cx="97.6" cy="155.8" r="0.95"/><circle cx="111.8" cy="157.1" r="0.95"/><circle cx="106.9" cy="152.9" r="0.95"/><circle cx="101.4" cy="156.8" r="0.95"/><circle cx="75.8" cy="159.4" r="0.95"/><circle cx="96.1" cy="158.2" r="0.95"/><circle cx="122.2" cy="159.1" r="0.95"/><circle cx="114.3" cy="158.3" r="0.95"/><circle cx="118.0" cy="156.8" r="0.95"/><circle cx="93.4" cy="157.4" r="0.95"/><circle cx="95.6" cy="156.4" r="0.95"/><circle cx="82.8" cy="158.6" r="0.95"/><circle cx="112.2" cy="160.1" r="0.95"/><circle cx="84.3" cy="157.5" r="0.95"/><circle cx="102.6" cy="159.3" r="0.95"/><circle cx="112.0" cy="156.7" r="0.95"/><circle cx="103.1" cy="157.4" r="0.95"/><circle cx="112.0" cy="156.7" r="0.95"/><circle cx="111.6" cy="154.2" r="0.95"/><circle cx="95.6" cy="156.9" r="0.95"/><circle cx="103.1" cy="155.6" r="0.95"/><circle cx="110.2" cy="154.1" r="0.95"/><circle cx="128.1" cy="160.5" r="0.95"/><circle cx="101.3" cy="157.4" r="0.95"/><circle cx="105.9" cy="160.2" r="0.95"/><circle cx="117.4" cy="159.4" r="0.95"/><circle cx="128.4" cy="158.6" r="0.95"/><circle cx="94.8" cy="158.8" r="0.95"/><circle cx="99.3" cy="161.5" r="0.95"/><circle cx="103.4" cy="157.6" r="0.95"/><circle cx="121.2" cy="158.4" r="0.95"/><circle cx="125.6" cy="154.9" r="0.95"/><circle cx="137.5" cy="157.5" r="0.95"/><circle cx="115.1" cy="155.3" r="0.95"/><circle cx="119.9" cy="156.3" r="0.95"/><circle cx="110.7" cy="153.8" r="0.95"/><circle cx="111.1" cy="158.3" r="0.95"/><circle cx="96.2" cy="156.1" r="0.95"/><circle cx="107.7" cy="157.5" r="0.95"/><circle cx="123.5" cy="155.9" r="0.95"/><circle cx="128.7" cy="156.7" r="0.95"/><circle cx="127.2" cy="156.2" r="0.95"/><circle cx="107.8" cy="155.6" r="0.95"/><circle cx="101.2" cy="158.9" r="0.95"/><circle cx="103.9" cy="156.4" r="0.95"/><circle cx="125.8" cy="152.9" r="0.95"/><circle cx="127.4" cy="154.6" r="0.95"/><circle cx="122.8" cy="155.6" r="0.95"/><circle cx="91.4" cy="158.2" r="0.95"/><circle cx="109.5" cy="159.9" r="0.95"/><circle cx="124.0" cy="158.5" r="0.95"/><circle cx="71.7" cy="158.2" r="0.95"/><circle cx="123.8" cy="157.4" r="0.95"/><circle cx="94.4" cy="157.4" r="0.95"/><circle cx="102.3" cy="157.4" r="0.95"/><circle cx="124.2" cy="155.1" r="0.95"/><circle cx="136.5" cy="155.7" r="0.95"/><circle cx="94.1" cy="157.8" r="0.95"/><circle cx="135.0" cy="158.3" r="0.95"/><circle cx="95.3" cy="158.5" r="0.95"/><circle cx="114.1" cy="158.6" r="0.95"/><circle cx="91.0" cy="155.0" r="0.95"/><circle cx="104.4" cy="155.4" r="0.95"/><circle cx="108.0" cy="158.3" r="0.95"/><circle cx="99.0" cy="157.3" r="0.95"/><circle cx="119.8" cy="158.8" r="0.95"/><circle cx="115.4" cy="156.9" r="0.95"/><circle cx="128.9" cy="156.5" r="0.95"/><circle cx="120.4" cy="157.0" r="0.95"/><circle cx="95.6" cy="158.0" r="0.95"/><circle cx="96.9" cy="156.8" r="0.95"/><circle cx="99.1" cy="153.5" r="0.95"/><circle cx="125.9" cy="159.6" r="0.95"/><circle cx="119.4" cy="159.7" r="0.95"/><circle cx="118.4" cy="155.5" r="0.95"/><circle cx="99.2" cy="155.0" r="0.95"/><circle cx="112.1" cy="159.2" r="0.95"/><circle cx="128.9" cy="160.0" r="0.95"/><circle cx="100.2" cy="157.1" r="0.95"/><circle cx="101.3" cy="155.1" r="0.95"/><circle cx="78.0" cy="157.5" r="0.95"/><circle cx="110.4" cy="158.7" r="0.95"/><circle cx="127.7" cy="157.5" r="0.95"/><circle cx="103.4" cy="157.1" r="0.95"/><circle cx="94.1" cy="158.0" r="0.95"/><circle cx="96.4" cy="156.9" r="0.95"/><circle cx="110.8" cy="157.1" r="0.95"/><circle cx="117.1" cy="157.8" r="0.95"/><circle cx="107.8" cy="160.4" r="0.95"/><circle cx="129.1" cy="159.6" r="0.95"/><circle cx="117.8" cy="157.0" r="0.95"/><circle cx="102.8" cy="155.5" r="0.95"/><circle cx="106.7" cy="158.3" r="0.95"/><circle cx="139.6" cy="157.5" r="0.95"/><circle cx="107.8" cy="159.8" r="0.95"/><circle cx="108.9" cy="157.1" r="0.95"/><circle cx="114.8" cy="157.3" r="0.95"/><circle cx="96.5" cy="161.5" r="0.95"/><circle cx="81.6" cy="155.5" r="0.95"/><circle cx="116.9" cy="157.1" r="0.95"/><circle cx="113.4" cy="156.3" r="0.95"/></g>
<g fill="#e4992d" fill-opacity="0.6"></g>
<rect x="102.98" y="154.83" width="1" height="1.2" fill="#fff" fill-opacity="0.6"/>
<rect x="106.70" y="153.69" width="1" height="1.2" fill="#fff" fill-opacity="0.6"/>
<rect x="106.78" y="156.11" width="1" height="1.2" fill="#fff" fill-opacity="0.6"/>
<rect x="97.12" y="155.16" width="1" height="1.2" fill="#fff" fill-opacity="0.6"/>
<rect x="114.48" y="157.29" width="1" height="1.2" fill="#fff" fill-opacity="0.6"/>
<rect x="98.17" y="157.27" width="1" height="1.2" fill="#fff" fill-opacity="0.6"/>
<line x1="38.00" y1="179.31" x2="40.50" y2="179.31" stroke="#333333" stroke-width="0.9" />
<line x1="82.00" y1="179.31" x2="134.00" y2="179.31" stroke="#5a3fce" stroke-width="2.2" />
<rect x="96.90" y="173.56" width="15.80" height="11.50" fill="#5a3fce" stroke="none" stroke-width="1" fill-opacity="0.95"/>
<g fill="#5a3fce" fill-opacity="0.5"><circle cx="107.0" cy="179.6" r="0.95"/><circle cx="111.3" cy="181.3" r="0.95"/><circle cx="103.1" cy="179.7" r="0.95"/><circle cx="94.8" cy="179.7" r="0.95"/><circle cx="106.5" cy="180.6" r="0.95"/><circle cx="113.4" cy="181.7" r="0.95"/><circle cx="107.1" cy="179.2" r="0.95"/><circle cx="128.2" cy="177.2" r="0.95"/><circle cx="124.3" cy="182.5" r="0.95"/><circle cx="131.4" cy="182.2" r="0.95"/><circle cx="104.3" cy="182.8" r="0.95"/><circle cx="114.4" cy="179.8" r="0.95"/><circle cx="96.8" cy="180.1" r="0.95"/><circle cx="116.8" cy="181.6" r="0.95"/><circle cx="100.2" cy="178.7" r="0.95"/><circle cx="94.7" cy="179.5" r="0.95"/><circle cx="89.8" cy="178.3" r="0.95"/><circle cx="93.9" cy="177.6" r="0.95"/><circle cx="119.9" cy="176.2" r="0.95"/><circle cx="109.1" cy="177.0" r="0.95"/><circle cx="100.7" cy="180.4" r="0.95"/><circle cx="126.5" cy="177.0" r="0.95"/><circle cx="88.7" cy="176.1" r="0.95"/><circle cx="112.9" cy="178.8" r="0.95"/><circle cx="109.8" cy="181.6" r="0.95"/><circle cx="110.9" cy="179.2" r="0.95"/><circle cx="96.5" cy="179.8" r="0.95"/><circle cx="102.6" cy="181.1" r="0.95"/><circle cx="114.8" cy="176.3" r="0.95"/><circle cx="99.4" cy="177.8" r="0.95"/><circle cx="118.7" cy="180.9" r="0.95"/><circle cx="94.5" cy="179.3" r="0.95"/><circle cx="123.8" cy="176.5" r="0.95"/><circle cx="102.5" cy="179.3" r="0.95"/><circle cx="113.4" cy="183.2" r="0.95"/><circle cx="99.9" cy="176.0" r="0.95"/><circle cx="114.6" cy="178.8" r="0.95"/><circle cx="105.1" cy="182.2" r="0.95"/><circle cx="95.2" cy="178.1" r="0.95"/><circle cx="89.0" cy="179.8" r="0.95"/><circle cx="127.2" cy="179.2" r="0.95"/><circle cx="94.7" cy="181.2" r="0.95"/><circle cx="99.4" cy="180.6" r="0.95"/><circle cx="87.8" cy="180.7" r="0.95"/><circle cx="101.2" cy="178.5" r="0.95"/><circle cx="122.4" cy="182.8" r="0.95"/><circle cx="98.9" cy="181.0" r="0.95"/><circle cx="124.7" cy="175.9" r="0.95"/><circle cx="117.0" cy="180.2" r="0.95"/><circle cx="101.0" cy="178.6" r="0.95"/><circle cx="98.3" cy="181.6" r="0.95"/><circle cx="96.9" cy="181.8" r="0.95"/><circle cx="111.2" cy="178.5" r="0.95"/><circle cx="111.1" cy="176.8" r="0.95"/><circle cx="90.7" cy="175.8" r="0.95"/><circle cx="109.7" cy="179.5" r="0.95"/><circle cx="115.0" cy="176.5" r="0.95"/><circle cx="97.6" cy="178.6" r="0.95"/><circle cx="92.3" cy="180.4" r="0.95"/><circle cx="89.3" cy="177.1" r="0.95"/><circle cx="99.4" cy="179.9" r="0.95"/><circle cx="113.1" cy="180.7" r="0.95"/><circle cx="92.2" cy="179.3" r="0.95"/><circle cx="111.3" cy="179.1" r="0.95"/><circle cx="100.9" cy="182.1" r="0.95"/><circle cx="92.8" cy="180.2" r="0.95"/><circle cx="132.9" cy="177.0" r="0.95"/><circle cx="96.5" cy="178.5" r="0.95"/><circle cx="115.6" cy="178.6" r="0.95"/><circle cx="104.9" cy="177.5" r="0.95"/><circle cx="114.2" cy="181.6" r="0.95"/><circle cx="105.6" cy="181.3" r="0.95"/><circle cx="104.8" cy="179.8" r="0.95"/><circle cx="99.6" cy="182.7" r="0.95"/><circle cx="99.9" cy="179.9" r="0.95"/><circle cx="123.5" cy="176.0" r="0.95"/><circle cx="114.7" cy="176.8" r="0.95"/><circle cx="126.4" cy="181.8" r="0.95"/><circle cx="94.4" cy="179.1" r="0.95"/><circle cx="102.0" cy="179.2" r="0.95"/><circle cx="102.9" cy="177.5" r="0.95"/><circle cx="101.9" cy="178.7" r="0.95"/><circle cx="113.7" cy="179.8" r="0.95"/><circle cx="103.6" cy="180.2" r="0.95"/><circle cx="118.0" cy="180.8" r="0.95"/><circle cx="108.5" cy="183.1" r="0.95"/><circle cx="104.3" cy="181.0" r="0.95"/><circle cx="91.7" cy="180.4" r="0.95"/><circle cx="110.7" cy="179.3" r="0.95"/><circle cx="100.1" cy="180.2" r="0.95"/><circle cx="108.2" cy="180.9" r="0.95"/><circle cx="132.4" cy="182.1" r="0.95"/><circle cx="107.7" cy="179.1" r="0.95"/><circle cx="109.0" cy="180.8" r="0.95"/><circle cx="117.0" cy="180.2" r="0.95"/><circle cx="94.6" cy="180.3" r="0.95"/><circle cx="121.9" cy="179.6" r="0.95"/><circle cx="120.2" cy="181.5" r="0.95"/><circle cx="130.1" cy="177.4" r="0.95"/><circle cx="118.4" cy="175.0" r="0.95"/><circle cx="104.2" cy="179.3" r="0.95"/><circle cx="96.8" cy="177.2" r="0.95"/><circle cx="117.0" cy="177.0" r="0.95"/><circle cx="92.7" cy="177.9" r="0.95"/><circle cx="104.8" cy="180.8" r="0.95"/><circle cx="102.1" cy="178.6" r="0.95"/><circle cx="114.2" cy="180.6" r="0.95"/><circle cx="86.1" cy="183.4" r="0.95"/><circle cx="89.2" cy="180.0" r="0.95"/><circle cx="125.9" cy="178.7" r="0.95"/><circle cx="99.1" cy="176.5" r="0.95"/><circle cx="111.4" cy="178.4" r="0.95"/><circle cx="86.0" cy="178.9" r="0.95"/><circle cx="93.7" cy="176.0" r="0.95"/><circle cx="97.5" cy="180.2" r="0.95"/><circle cx="133.4" cy="178.7" r="0.95"/><circle cx="104.0" cy="178.7" r="0.95"/><circle cx="100.7" cy="178.6" r="0.95"/><circle cx="118.2" cy="180.8" r="0.95"/><circle cx="110.0" cy="180.8" r="0.95"/><circle cx="109.4" cy="179.4" r="0.95"/><circle cx="99.4" cy="179.3" r="0.95"/><circle cx="96.3" cy="179.2" r="0.95"/><circle cx="94.5" cy="175.5" r="0.95"/><circle cx="90.2" cy="179.8" r="0.95"/><circle cx="118.0" cy="182.5" r="0.95"/><circle cx="99.8" cy="177.1" r="0.95"/><circle cx="105.3" cy="175.4" r="0.95"/><circle cx="104.7" cy="180.5" r="0.95"/><circle cx="95.3" cy="177.9" r="0.95"/><circle cx="88.7" cy="179.5" r="0.95"/><circle cx="106.7" cy="180.0" r="0.95"/><circle cx="121.2" cy="177.9" r="0.95"/><circle cx="106.0" cy="177.5" r="0.95"/><circle cx="105.0" cy="179.6" r="0.95"/><circle cx="104.6" cy="178.6" r="0.95"/><circle cx="101.1" cy="179.4" r="0.95"/><circle cx="91.3" cy="178.0" r="0.95"/><circle cx="105.0" cy="181.6" r="0.95"/><circle cx="106.3" cy="175.1" r="0.95"/><circle cx="100.2" cy="175.0" r="0.95"/><circle cx="102.7" cy="179.5" r="0.95"/><circle cx="97.5" cy="183.4" r="0.95"/><circle cx="97.0" cy="182.5" r="0.95"/><circle cx="101.4" cy="181.6" r="0.95"/><circle cx="112.2" cy="179.8" r="0.95"/><circle cx="115.9" cy="179.6" r="0.95"/><circle cx="97.9" cy="181.1" r="0.95"/><circle cx="105.3" cy="180.6" r="0.95"/><circle cx="90.9" cy="180.5" r="0.95"/><circle cx="114.7" cy="182.4" r="0.95"/><circle cx="113.7" cy="182.3" r="0.95"/><circle cx="124.7" cy="182.6" r="0.95"/><circle cx="109.2" cy="182.8" r="0.95"/><circle cx="96.8" cy="181.5" r="0.95"/><circle cx="109.5" cy="179.6" r="0.95"/><circle cx="111.1" cy="178.0" r="0.95"/><circle cx="113.2" cy="177.9" r="0.95"/><circle cx="101.3" cy="178.2" r="0.95"/><circle cx="97.8" cy="182.9" r="0.95"/><circle cx="116.5" cy="181.5" r="0.95"/><circle cx="101.4" cy="180.6" r="0.95"/><circle cx="103.6" cy="178.4" r="0.95"/><circle cx="102.4" cy="177.0" r="0.95"/><circle cx="104.6" cy="179.5" r="0.95"/><circle cx="124.8" cy="178.2" r="0.95"/><circle cx="90.2" cy="175.1" r="0.95"/><circle cx="122.4" cy="175.8" r="0.95"/><circle cx="121.7" cy="178.4" r="0.95"/><circle cx="126.0" cy="181.1" r="0.95"/><circle cx="111.9" cy="177.9" r="0.95"/><circle cx="82.8" cy="176.8" r="0.95"/><circle cx="131.3" cy="178.3" r="0.95"/><circle cx="98.8" cy="179.6" r="0.95"/><circle cx="101.2" cy="177.0" r="0.95"/><circle cx="98.1" cy="179.9" r="0.95"/><circle cx="117.0" cy="182.8" r="0.95"/><circle cx="104.1" cy="176.8" r="0.95"/><circle cx="85.5" cy="178.8" r="0.95"/><circle cx="108.8" cy="181.5" r="0.95"/><circle cx="92.5" cy="178.4" r="0.95"/><circle cx="118.9" cy="183.1" r="0.95"/><circle cx="101.7" cy="179.1" r="0.95"/><circle cx="93.7" cy="179.5" r="0.95"/><circle cx="109.5" cy="177.1" r="0.95"/><circle cx="89.2" cy="181.1" r="0.95"/><circle cx="102.5" cy="178.5" r="0.95"/><circle cx="113.2" cy="176.0" r="0.95"/><circle cx="108.1" cy="179.9" r="0.95"/><circle cx="104.2" cy="180.4" r="0.95"/><circle cx="118.8" cy="180.3" r="0.95"/><circle cx="102.8" cy="179.9" r="0.95"/><circle cx="86.2" cy="179.1" r="0.95"/><circle cx="102.4" cy="175.6" r="0.95"/><circle cx="97.4" cy="178.9" r="0.95"/><circle cx="89.9" cy="178.5" r="0.95"/><circle cx="96.5" cy="178.8" r="0.95"/><circle cx="105.8" cy="179.1" r="0.95"/><circle cx="110.2" cy="177.1" r="0.95"/><circle cx="99.1" cy="179.0" r="0.95"/><circle cx="97.3" cy="182.5" r="0.95"/><circle cx="102.0" cy="178.9" r="0.95"/><circle cx="121.1" cy="180.3" r="0.95"/><circle cx="117.3" cy="183.1" r="0.95"/><circle cx="89.9" cy="176.1" r="0.95"/><circle cx="99.7" cy="176.0" r="0.95"/><circle cx="117.3" cy="181.7" r="0.95"/><circle cx="95.6" cy="183.6" r="0.95"/><circle cx="104.4" cy="176.6" r="0.95"/><circle cx="110.3" cy="181.1" r="0.95"/><circle cx="104.5" cy="179.7" r="0.95"/><circle cx="116.6" cy="181.1" r="0.95"/><circle cx="108.0" cy="180.0" r="0.95"/><circle cx="110.2" cy="179.5" r="0.95"/><circle cx="91.5" cy="178.3" r="0.95"/><circle cx="116.3" cy="179.5" r="0.95"/><circle cx="110.3" cy="179.9" r="0.95"/><circle cx="102.3" cy="179.3" r="0.95"/><circle cx="89.5" cy="181.8" r="0.95"/><circle cx="131.8" cy="179.4" r="0.95"/><circle cx="105.7" cy="177.6" r="0.95"/><circle cx="107.5" cy="179.6" r="0.95"/><circle cx="116.8" cy="181.0" r="0.95"/><circle cx="91.2" cy="178.6" r="0.95"/><circle cx="126.0" cy="180.1" r="0.95"/><circle cx="119.1" cy="179.2" r="0.95"/><circle cx="107.2" cy="176.6" r="0.95"/><circle cx="110.3" cy="178.9" r="0.95"/><circle cx="107.9" cy="182.1" r="0.95"/><circle cx="95.7" cy="180.2" r="0.95"/><circle cx="85.1" cy="178.6" r="0.95"/><circle cx="102.8" cy="178.4" r="0.95"/><circle cx="103.3" cy="178.3" r="0.95"/><circle cx="121.9" cy="178.5" r="0.95"/><circle cx="116.4" cy="181.1" r="0.95"/><circle cx="102.5" cy="179.8" r="0.95"/><circle cx="85.4" cy="180.0" r="0.95"/><circle cx="107.4" cy="178.8" r="0.95"/><circle cx="111.3" cy="178.6" r="0.95"/><circle cx="99.6" cy="179.2" r="0.95"/><circle cx="126.2" cy="177.4" r="0.95"/><circle cx="115.8" cy="177.6" r="0.95"/><circle cx="119.1" cy="179.1" r="0.95"/><circle cx="106.8" cy="183.2" r="0.95"/><circle cx="111.9" cy="179.5" r="0.95"/><circle cx="101.9" cy="178.8" r="0.95"/><circle cx="112.4" cy="177.5" r="0.95"/><circle cx="93.6" cy="180.7" r="0.95"/><circle cx="119.3" cy="180.1" r="0.95"/><circle cx="105.3" cy="181.3" r="0.95"/></g>
<g fill="#5a3fce" fill-opacity="0.6"><circle cx="44.9" cy="181.8" r="1.1"/><circle cx="58.9" cy="176.9" r="1.1"/><circle cx="64.2" cy="179.6" r="1.1"/><circle cx="75.9" cy="178.2" r="1.1"/></g>
<rect x="100.61" y="177.23" width="1" height="1.2" fill="#fff" fill-opacity="0.6"/>
<rect x="98.59" y="180.13" width="1" height="1.2" fill="#fff" fill-opacity="0.6"/>
<rect x="102.59" y="180.21" width="1" height="1.2" fill="#fff" fill-opacity="0.6"/>
<rect x="108.34" y="179.32" width="1" height="1.2" fill="#fff" fill-opacity="0.6"/>
<rect x="102.30" y="176.29" width="1" height="1.2" fill="#fff" fill-opacity="0.6"/>
<rect x="106.24" y="180.03" width="1" height="1.2" fill="#fff" fill-opacity="0.6"/>
<line x1="38.00" y1="201.39" x2="40.50" y2="201.39" stroke="#333333" stroke-width="0.9" />
<line x1="86.00" y1="201.39" x2="131.00" y2="201.39" stroke="#2aa0a6" stroke-width="2.2" />
<rect x="106.00" y="195.64" width="14.30" height="11.50" fill="#2aa0a6" stroke="none" stroke-width="1" fill-opacity="0.95"/>
<g fill="#2aa0a6" fill-opacity="0.5"><circle cx="110.9" cy="200.8" r="0.95"/><circle cx="113.6" cy="203.7" r="0.95"/><circle cx="116.4" cy="201.2" r="0.95"/><circle cx="118.4" cy="203.1" r="0.95"/><circle cx="129.5" cy="204.0" r="0.95"/><circle cx="121.5" cy="202.1" r="0.95"/><circle cx="108.8" cy="200.8" r="0.95"/><circle cx="104.6" cy="200.7" r="0.95"/><circle cx="113.4" cy="201.7" r="0.95"/><circle cx="119.6" cy="201.8" r="0.95"/><circle cx="114.5" cy="201.8" r="0.95"/><circle cx="87.0" cy="201.2" r="0.95"/><circle cx="122.0" cy="199.5" r="0.95"/><circle cx="120.1" cy="200.7" r="0.95"/><circle cx="115.9" cy="199.3" r="0.95"/><circle cx="104.7" cy="204.9" r="0.95"/><circle cx="105.2" cy="200.6" r="0.95"/><circle cx="116.6" cy="204.4" r="0.95"/><circle cx="120.5" cy="199.7" r="0.95"/><circle cx="101.2" cy="198.9" r="0.95"/><circle cx="123.8" cy="198.0" r="0.95"/><circle cx="103.4" cy="203.4" r="0.95"/><circle cx="112.2" cy="202.9" r="0.95"/><circle cx="115.4" cy="200.9" r="0.95"/><circle cx="105.5" cy="204.7" r="0.95"/><circle cx="105.3" cy="202.8" r="0.95"/><circle cx="101.9" cy="202.0" r="0.95"/><circle cx="94.7" cy="203.0" r="0.95"/><circle cx="128.0" cy="200.8" r="0.95"/><circle cx="112.9" cy="199.3" r="0.95"/><circle cx="104.1" cy="201.8" r="0.95"/><circle cx="120.8" cy="201.8" r="0.95"/><circle cx="116.0" cy="201.3" r="0.95"/><circle cx="119.4" cy="203.0" r="0.95"/><circle cx="94.7" cy="200.0" r="0.95"/><circle cx="86.8" cy="200.6" r="0.95"/><circle cx="107.7" cy="199.4" r="0.95"/><circle cx="123.8" cy="201.0" r="0.95"/><circle cx="123.2" cy="199.4" r="0.95"/><circle cx="103.6" cy="201.0" r="0.95"/><circle cx="114.2" cy="199.0" r="0.95"/><circle cx="121.5" cy="201.9" r="0.95"/><circle cx="124.9" cy="199.8" r="0.95"/><circle cx="110.5" cy="201.9" r="0.95"/><circle cx="114.5" cy="201.4" r="0.95"/><circle cx="107.5" cy="202.3" r="0.95"/><circle cx="101.0" cy="200.1" r="0.95"/><circle cx="85.0" cy="201.8" r="0.95"/><circle cx="106.5" cy="201.5" r="0.95"/><circle cx="112.9" cy="199.7" r="0.95"/><circle cx="94.5" cy="199.2" r="0.95"/><circle cx="92.5" cy="199.1" r="0.95"/><circle cx="116.8" cy="202.2" r="0.95"/><circle cx="126.8" cy="202.0" r="0.95"/><circle cx="112.1" cy="201.6" r="0.95"/><circle cx="123.9" cy="205.2" r="0.95"/><circle cx="115.2" cy="202.3" r="0.95"/><circle cx="102.9" cy="201.1" r="0.95"/><circle cx="101.6" cy="201.3" r="0.95"/><circle cx="107.2" cy="202.7" r="0.95"/><circle cx="99.1" cy="200.2" r="0.95"/><circle cx="91.1" cy="201.9" r="0.95"/><circle cx="104.7" cy="199.8" r="0.95"/><circle cx="118.6" cy="203.4" r="0.95"/><circle cx="113.7" cy="198.3" r="0.95"/><circle cx="103.7" cy="200.1" r="0.95"/><circle cx="93.8" cy="202.4" r="0.95"/><circle cx="94.8" cy="205.7" r="0.95"/><circle cx="109.6" cy="202.6" r="0.95"/><circle cx="124.7" cy="198.4" r="0.95"/><circle cx="111.5" cy="199.9" r="0.95"/><circle cx="95.5" cy="200.0" r="0.95"/><circle cx="117.1" cy="203.2" r="0.95"/><circle cx="129.1" cy="200.4" r="0.95"/><circle cx="119.2" cy="200.7" r="0.95"/><circle cx="107.8" cy="200.1" r="0.95"/><circle cx="106.8" cy="198.4" r="0.95"/><circle cx="95.5" cy="205.2" r="0.95"/><circle cx="121.0" cy="200.9" r="0.95"/><circle cx="121.8" cy="201.7" r="0.95"/><circle cx="104.9" cy="203.3" r="0.95"/><circle cx="113.6" cy="198.0" r="0.95"/><circle cx="116.5" cy="200.4" r="0.95"/><circle cx="118.6" cy="201.2" r="0.95"/><circle cx="86.5" cy="202.4" r="0.95"/><circle cx="95.9" cy="198.8" r="0.95"/><circle cx="101.0" cy="200.1" r="0.95"/><circle cx="102.3" cy="199.5" r="0.95"/><circle cx="103.2" cy="201.9" r="0.95"/><circle cx="115.1" cy="197.1" r="0.95"/><circle cx="102.7" cy="199.6" r="0.95"/><circle cx="93.7" cy="204.8" r="0.95"/><circle cx="118.0" cy="201.2" r="0.95"/><circle cx="113.5" cy="201.9" r="0.95"/><circle cx="120.5" cy="199.6" r="0.95"/><circle cx="118.2" cy="200.8" r="0.95"/><circle cx="102.2" cy="202.7" r="0.95"/><circle cx="103.6" cy="198.8" r="0.95"/><circle cx="120.2" cy="201.6" r="0.95"/><circle cx="93.6" cy="201.5" r="0.95"/><circle cx="123.3" cy="205.6" r="0.95"/><circle cx="120.3" cy="203.3" r="0.95"/><circle cx="103.2" cy="204.3" r="0.95"/><circle cx="103.1" cy="200.7" r="0.95"/><circle cx="106.0" cy="202.7" r="0.95"/><circle cx="108.5" cy="198.7" r="0.95"/><circle cx="96.5" cy="200.1" r="0.95"/><circle cx="129.8" cy="202.0" r="0.95"/><circle cx="118.5" cy="197.1" r="0.95"/><circle cx="123.9" cy="202.7" r="0.95"/><circle cx="94.6" cy="202.9" r="0.95"/><circle cx="106.1" cy="202.1" r="0.95"/><circle cx="91.8" cy="202.8" r="0.95"/><circle cx="95.3" cy="198.8" r="0.95"/><circle cx="103.8" cy="202.5" r="0.95"/><circle cx="120.7" cy="200.6" r="0.95"/><circle cx="91.2" cy="199.2" r="0.95"/><circle cx="101.3" cy="201.9" r="0.95"/><circle cx="105.2" cy="201.4" r="0.95"/><circle cx="109.3" cy="203.0" r="0.95"/><circle cx="127.6" cy="200.8" r="0.95"/><circle cx="120.9" cy="202.2" r="0.95"/><circle cx="115.4" cy="203.1" r="0.95"/><circle cx="98.1" cy="202.2" r="0.95"/><circle cx="128.6" cy="201.5" r="0.95"/><circle cx="93.5" cy="199.3" r="0.95"/><circle cx="106.5" cy="200.4" r="0.95"/><circle cx="88.7" cy="201.2" r="0.95"/><circle cx="123.7" cy="201.8" r="0.95"/><circle cx="118.7" cy="201.4" r="0.95"/><circle cx="124.0" cy="202.6" r="0.95"/><circle cx="121.3" cy="202.8" r="0.95"/><circle cx="100.9" cy="202.6" r="0.95"/><circle cx="117.8" cy="201.3" r="0.95"/><circle cx="101.8" cy="202.6" r="0.95"/><circle cx="109.6" cy="202.2" r="0.95"/><circle cx="103.7" cy="200.7" r="0.95"/><circle cx="125.2" cy="201.8" r="0.95"/><circle cx="94.8" cy="201.0" r="0.95"/><circle cx="109.5" cy="200.5" r="0.95"/><circle cx="99.4" cy="201.4" r="0.95"/><circle cx="111.8" cy="199.7" r="0.95"/><circle cx="111.6" cy="200.9" r="0.95"/><circle cx="114.5" cy="199.6" r="0.95"/><circle cx="116.2" cy="203.4" r="0.95"/><circle cx="113.0" cy="203.4" r="0.95"/><circle cx="112.4" cy="202.2" r="0.95"/><circle cx="126.0" cy="199.3" r="0.95"/><circle cx="111.3" cy="200.9" r="0.95"/><circle cx="117.1" cy="199.4" r="0.95"/><circle cx="114.6" cy="198.7" r="0.95"/><circle cx="112.0" cy="201.6" r="0.95"/><circle cx="126.1" cy="201.4" r="0.95"/><circle cx="125.6" cy="200.4" r="0.95"/><circle cx="97.9" cy="203.4" r="0.95"/><circle cx="116.4" cy="201.6" r="0.95"/><circle cx="105.7" cy="199.9" r="0.95"/><circle cx="103.1" cy="204.4" r="0.95"/><circle cx="107.6" cy="199.4" r="0.95"/><circle cx="99.6" cy="202.8" r="0.95"/><circle cx="111.3" cy="202.7" r="0.95"/><circle cx="104.1" cy="198.2" r="0.95"/><circle cx="104.2" cy="201.4" r="0.95"/><circle cx="107.3" cy="202.0" r="0.95"/><circle cx="107.4" cy="198.6" r="0.95"/><circle cx="128.4" cy="200.0" r="0.95"/><circle cx="107.0" cy="202.9" r="0.95"/><circle cx="110.4" cy="198.0" r="0.95"/><circle cx="121.7" cy="200.9" r="0.95"/><circle cx="94.5" cy="197.8" r="0.95"/><circle cx="115.3" cy="200.3" r="0.95"/><circle cx="115.1" cy="200.2" r="0.95"/><circle cx="110.7" cy="197.1" r="0.95"/><circle cx="124.2" cy="199.8" r="0.95"/><circle cx="107.6" cy="202.4" r="0.95"/><circle cx="97.3" cy="198.4" r="0.95"/><circle cx="119.6" cy="200.9" r="0.95"/><circle cx="111.9" cy="202.3" r="0.95"/><circle cx="98.2" cy="202.6" r="0.95"/><circle cx="110.0" cy="200.9" r="0.95"/><circle cx="90.4" cy="200.9" r="0.95"/><circle cx="95.5" cy="204.3" r="0.95"/><circle cx="118.9" cy="200.4" r="0.95"/><circle cx="110.8" cy="202.5" r="0.95"/><circle cx="106.6" cy="202.2" r="0.95"/><circle cx="120.6" cy="205.6" r="0.95"/><circle cx="100.5" cy="198.9" r="0.95"/><circle cx="102.7" cy="201.1" r="0.95"/><circle cx="112.2" cy="203.2" r="0.95"/><circle cx="114.9" cy="201.4" r="0.95"/><circle cx="120.9" cy="202.4" r="0.95"/><circle cx="116.7" cy="198.9" r="0.95"/><circle cx="125.8" cy="201.7" r="0.95"/><circle cx="122.9" cy="200.7" r="0.95"/><circle cx="103.4" cy="202.5" r="0.95"/><circle cx="122.1" cy="202.5" r="0.95"/><circle cx="91.8" cy="199.3" r="0.95"/><circle cx="118.0" cy="199.4" r="0.95"/><circle cx="116.5" cy="197.8" r="0.95"/><circle cx="110.5" cy="201.8" r="0.95"/><circle cx="88.4" cy="201.4" r="0.95"/><circle cx="117.8" cy="201.2" r="0.95"/><circle cx="117.7" cy="200.4" r="0.95"/><circle cx="122.1" cy="202.1" r="0.95"/><circle cx="93.7" cy="203.1" r="0.95"/><circle cx="102.4" cy="201.2" r="0.95"/><circle cx="107.1" cy="201.5" r="0.95"/><circle cx="109.6" cy="201.6" r="0.95"/><circle cx="103.3" cy="203.5" r="0.95"/><circle cx="116.5" cy="200.4" r="0.95"/><circle cx="112.0" cy="198.9" r="0.95"/><circle cx="119.9" cy="199.6" r="0.95"/><circle cx="97.7" cy="202.2" r="0.95"/><circle cx="115.8" cy="199.4" r="0.95"/><circle cx="111.3" cy="200.5" r="0.95"/><circle cx="124.1" cy="200.3" r="0.95"/><circle cx="113.7" cy="201.3" r="0.95"/><circle cx="126.1" cy="200.1" r="0.95"/><circle cx="109.7" cy="200.9" r="0.95"/><circle cx="101.6" cy="199.5" r="0.95"/><circle cx="126.2" cy="203.8" r="0.95"/><circle cx="116.6" cy="204.5" r="0.95"/><circle cx="114.6" cy="202.3" r="0.95"/><circle cx="90.3" cy="202.0" r="0.95"/><circle cx="103.1" cy="200.8" r="0.95"/><circle cx="92.0" cy="202.7" r="0.95"/><circle cx="114.3" cy="198.7" r="0.95"/><circle cx="115.4" cy="198.4" r="0.95"/><circle cx="105.9" cy="199.8" r="0.95"/><circle cx="105.7" cy="199.7" r="0.95"/><circle cx="113.5" cy="205.7" r="0.95"/><circle cx="112.8" cy="200.9" r="0.95"/><circle cx="115.8" cy="197.1" r="0.95"/><circle cx="101.2" cy="201.2" r="0.95"/><circle cx="112.9" cy="199.3" r="0.95"/><circle cx="119.3" cy="202.9" r="0.95"/><circle cx="116.7" cy="200.6" r="0.95"/><circle cx="114.1" cy="202.5" r="0.95"/><circle cx="111.5" cy="201.8" r="0.95"/><circle cx="131.7" cy="204.6" r="0.95"/></g>
<g fill="#2aa0a6" fill-opacity="0.6"></g>
<rect x="107.55" y="198.66" width="1" height="1.2" fill="#fff" fill-opacity="0.6"/>
<rect x="112.77" y="203.93" width="1" height="1.2" fill="#fff" fill-opacity="0.6"/>
<rect x="118.10" y="202.55" width="1" height="1.2" fill="#fff" fill-opacity="0.6"/>
<rect x="117.06" y="198.07" width="1" height="1.2" fill="#fff" fill-opacity="0.6"/>
<rect x="112.73" y="200.74" width="1" height="1.2" fill="#fff" fill-opacity="0.6"/>
<rect x="109.45" y="201.34" width="1" height="1.2" fill="#fff" fill-opacity="0.6"/>
<line x1="38.00" y1="223.47" x2="40.50" y2="223.47" stroke="#333333" stroke-width="0.9" />
<line x1="96.00" y1="223.47" x2="136.00" y2="223.47" stroke="#e879ad" stroke-width="2.2" />
<rect x="114.10" y="217.72" width="10.50" height="11.50" fill="#e879ad" stroke="none" stroke-width="1" fill-opacity="0.95"/>
<g fill="#e879ad" fill-opacity="0.5"><circle cx="128.2" cy="220.8" r="0.95"/><circle cx="116.2" cy="227.5" r="0.95"/><circle cx="128.0" cy="222.1" r="0.95"/><circle cx="125.9" cy="224.6" r="0.95"/><circle cx="123.5" cy="224.6" r="0.95"/><circle cx="120.6" cy="223.9" r="0.95"/><circle cx="113.4" cy="222.1" r="0.95"/><circle cx="106.3" cy="223.3" r="0.95"/><circle cx="119.6" cy="223.2" r="0.95"/><circle cx="124.9" cy="227.1" r="0.95"/><circle cx="105.9" cy="225.8" r="0.95"/><circle cx="118.5" cy="222.3" r="0.95"/><circle cx="128.5" cy="224.4" r="0.95"/><circle cx="109.9" cy="222.6" r="0.95"/><circle cx="115.0" cy="224.5" r="0.95"/><circle cx="108.9" cy="223.4" r="0.95"/><circle cx="124.5" cy="224.2" r="0.95"/><circle cx="105.4" cy="221.5" r="0.95"/><circle cx="121.3" cy="224.4" r="0.95"/><circle cx="115.4" cy="224.3" r="0.95"/><circle cx="108.4" cy="223.4" r="0.95"/><circle cx="109.1" cy="225.4" r="0.95"/><circle cx="110.7" cy="223.4" r="0.95"/><circle cx="95.9" cy="224.7" r="0.95"/><circle cx="106.1" cy="225.3" r="0.95"/><circle cx="121.9" cy="224.0" r="0.95"/><circle cx="107.5" cy="225.5" r="0.95"/><circle cx="124.0" cy="225.9" r="0.95"/><circle cx="121.8" cy="222.9" r="0.95"/><circle cx="119.4" cy="221.4" r="0.95"/><circle cx="123.5" cy="225.0" r="0.95"/><circle cx="105.1" cy="227.8" r="0.95"/><circle cx="121.5" cy="221.5" r="0.95"/><circle cx="111.5" cy="221.6" r="0.95"/><circle cx="120.0" cy="224.1" r="0.95"/><circle cx="110.4" cy="221.9" r="0.95"/><circle cx="116.5" cy="222.9" r="0.95"/><circle cx="120.6" cy="226.2" r="0.95"/><circle cx="109.4" cy="223.4" r="0.95"/><circle cx="113.7" cy="223.5" r="0.95"/><circle cx="121.8" cy="223.9" r="0.95"/><circle cx="116.8" cy="225.2" r="0.95"/><circle cx="125.3" cy="225.0" r="0.95"/><circle cx="115.6" cy="225.1" r="0.95"/><circle cx="118.5" cy="219.9" r="0.95"/><circle cx="112.3" cy="221.2" r="0.95"/><circle cx="112.0" cy="222.7" r="0.95"/><circle cx="112.0" cy="226.1" r="0.95"/><circle cx="125.0" cy="222.5" r="0.95"/><circle cx="106.6" cy="222.5" r="0.95"/><circle cx="116.1" cy="222.3" r="0.95"/><circle cx="129.5" cy="223.2" r="0.95"/><circle cx="115.3" cy="227.8" r="0.95"/><circle cx="122.8" cy="224.7" r="0.95"/><circle cx="126.9" cy="223.8" r="0.95"/><circle cx="110.9" cy="222.0" r="0.95"/><circle cx="106.0" cy="219.5" r="0.95"/><circle cx="127.6" cy="222.2" r="0.95"/><circle cx="105.2" cy="225.0" r="0.95"/><circle cx="125.0" cy="222.8" r="0.95"/><circle cx="117.3" cy="221.1" r="0.95"/><circle cx="119.2" cy="226.5" r="0.95"/><circle cx="103.9" cy="222.8" r="0.95"/><circle cx="121.5" cy="225.4" r="0.95"/><circle cx="111.2" cy="223.2" r="0.95"/><circle cx="122.3" cy="222.6" r="0.95"/><circle cx="125.0" cy="225.2" r="0.95"/><circle cx="117.4" cy="226.4" r="0.95"/><circle cx="113.9" cy="222.2" r="0.95"/><circle cx="120.9" cy="225.5" r="0.95"/><circle cx="118.5" cy="222.6" r="0.95"/><circle cx="118.3" cy="223.4" r="0.95"/><circle cx="121.2" cy="223.7" r="0.95"/><circle cx="119.6" cy="224.5" r="0.95"/><circle cx="126.8" cy="226.3" r="0.95"/><circle cx="114.4" cy="220.4" r="0.95"/><circle cx="120.2" cy="225.0" r="0.95"/><circle cx="116.2" cy="226.2" r="0.95"/><circle cx="126.2" cy="225.1" r="0.95"/><circle cx="121.0" cy="222.4" r="0.95"/><circle cx="101.5" cy="220.5" r="0.95"/><circle cx="115.4" cy="223.9" r="0.95"/><circle cx="124.0" cy="222.9" r="0.95"/><circle cx="98.8" cy="224.2" r="0.95"/><circle cx="135.6" cy="223.2" r="0.95"/><circle cx="131.3" cy="221.8" r="0.95"/><circle cx="133.2" cy="223.5" r="0.95"/><circle cx="94.6" cy="226.1" r="0.95"/><circle cx="101.3" cy="224.9" r="0.95"/><circle cx="103.2" cy="225.6" r="0.95"/><circle cx="112.0" cy="222.6" r="0.95"/><circle cx="121.9" cy="222.5" r="0.95"/><circle cx="125.0" cy="224.0" r="0.95"/><circle cx="104.7" cy="221.3" r="0.95"/><circle cx="106.6" cy="221.2" r="0.95"/><circle cx="97.7" cy="221.5" r="0.95"/><circle cx="124.5" cy="222.8" r="0.95"/><circle cx="125.3" cy="224.3" r="0.95"/><circle cx="125.5" cy="221.5" r="0.95"/><circle cx="113.0" cy="225.3" r="0.95"/><circle cx="109.1" cy="225.9" r="0.95"/><circle cx="127.0" cy="223.8" r="0.95"/><circle cx="108.4" cy="222.8" r="0.95"/><circle cx="112.3" cy="224.5" r="0.95"/><circle cx="126.5" cy="223.4" r="0.95"/><circle cx="121.2" cy="221.1" r="0.95"/><circle cx="125.7" cy="222.3" r="0.95"/><circle cx="104.6" cy="225.1" r="0.95"/><circle cx="129.0" cy="226.1" r="0.95"/><circle cx="128.0" cy="224.1" r="0.95"/><circle cx="123.5" cy="225.2" r="0.95"/><circle cx="116.7" cy="220.5" r="0.95"/><circle cx="121.5" cy="221.0" r="0.95"/><circle cx="124.0" cy="223.2" r="0.95"/><circle cx="97.6" cy="220.6" r="0.95"/><circle cx="100.4" cy="225.1" r="0.95"/><circle cx="100.8" cy="223.3" r="0.95"/><circle cx="114.2" cy="226.6" r="0.95"/><circle cx="115.5" cy="221.4" r="0.95"/><circle cx="106.4" cy="225.6" r="0.95"/><circle cx="122.4" cy="219.3" r="0.95"/><circle cx="124.2" cy="220.8" r="0.95"/><circle cx="118.1" cy="225.1" r="0.95"/><circle cx="121.0" cy="222.6" r="0.95"/><circle cx="127.2" cy="224.8" r="0.95"/><circle cx="126.1" cy="220.2" r="0.95"/><circle cx="117.4" cy="225.5" r="0.95"/><circle cx="124.9" cy="226.2" r="0.95"/><circle cx="119.7" cy="223.1" r="0.95"/><circle cx="103.6" cy="223.1" r="0.95"/><circle cx="111.5" cy="223.0" r="0.95"/><circle cx="128.5" cy="224.2" r="0.95"/><circle cx="110.7" cy="221.2" r="0.95"/><circle cx="103.1" cy="223.8" r="0.95"/><circle cx="115.8" cy="223.9" r="0.95"/><circle cx="131.6" cy="224.6" r="0.95"/><circle cx="125.7" cy="220.9" r="0.95"/><circle cx="107.1" cy="221.8" r="0.95"/><circle cx="113.7" cy="222.2" r="0.95"/><circle cx="116.0" cy="226.1" r="0.95"/><circle cx="107.2" cy="224.5" r="0.95"/><circle cx="115.5" cy="225.5" r="0.95"/><circle cx="123.8" cy="222.1" r="0.95"/><circle cx="113.3" cy="223.6" r="0.95"/><circle cx="125.5" cy="222.3" r="0.95"/><circle cx="123.7" cy="220.0" r="0.95"/><circle cx="115.8" cy="221.3" r="0.95"/><circle cx="121.4" cy="220.3" r="0.95"/><circle cx="112.7" cy="223.5" r="0.95"/><circle cx="126.3" cy="222.8" r="0.95"/><circle cx="115.4" cy="222.1" r="0.95"/><circle cx="126.6" cy="223.7" r="0.95"/><circle cx="125.6" cy="222.0" r="0.95"/><circle cx="119.0" cy="221.7" r="0.95"/><circle cx="104.5" cy="224.6" r="0.95"/><circle cx="121.6" cy="225.9" r="0.95"/><circle cx="112.9" cy="223.3" r="0.95"/><circle cx="107.5" cy="221.3" r="0.95"/><circle cx="122.4" cy="220.0" r="0.95"/><circle cx="122.2" cy="223.5" r="0.95"/><circle cx="125.7" cy="221.0" r="0.95"/><circle cx="129.5" cy="219.5" r="0.95"/><circle cx="120.9" cy="223.7" r="0.95"/><circle cx="115.6" cy="220.7" r="0.95"/><circle cx="122.3" cy="222.1" r="0.95"/><circle cx="114.0" cy="223.3" r="0.95"/><circle cx="117.5" cy="223.4" r="0.95"/><circle cx="128.2" cy="220.6" r="0.95"/><circle cx="120.7" cy="225.1" r="0.95"/><circle cx="127.2" cy="223.2" r="0.95"/><circle cx="121.4" cy="222.5" r="0.95"/><circle cx="122.8" cy="225.1" r="0.95"/><circle cx="125.6" cy="221.3" r="0.95"/><circle cx="135.9" cy="221.4" r="0.95"/><circle cx="114.1" cy="223.6" r="0.95"/><circle cx="129.0" cy="224.4" r="0.95"/><circle cx="121.4" cy="223.9" r="0.95"/><circle cx="120.1" cy="220.5" r="0.95"/><circle cx="127.2" cy="224.3" r="0.95"/><circle cx="122.7" cy="223.5" r="0.95"/><circle cx="103.4" cy="221.6" r="0.95"/><circle cx="116.3" cy="223.9" r="0.95"/><circle cx="122.7" cy="223.7" r="0.95"/><circle cx="112.5" cy="223.1" r="0.95"/><circle cx="98.5" cy="225.8" r="0.95"/><circle cx="109.0" cy="223.5" r="0.95"/><circle cx="114.7" cy="224.5" r="0.95"/><circle cx="107.0" cy="225.5" r="0.95"/><circle cx="120.0" cy="227.8" r="0.95"/><circle cx="129.7" cy="222.6" r="0.95"/><circle cx="118.9" cy="224.1" r="0.95"/><circle cx="109.7" cy="223.9" r="0.95"/><circle cx="110.4" cy="224.5" r="0.95"/><circle cx="110.0" cy="221.2" r="0.95"/><circle cx="105.3" cy="222.6" r="0.95"/><circle cx="116.6" cy="226.7" r="0.95"/><circle cx="99.9" cy="223.5" r="0.95"/><circle cx="119.7" cy="220.3" r="0.95"/><circle cx="118.1" cy="223.2" r="0.95"/><circle cx="121.8" cy="223.2" r="0.95"/><circle cx="107.7" cy="221.0" r="0.95"/><circle cx="131.6" cy="224.1" r="0.95"/><circle cx="117.2" cy="222.9" r="0.95"/><circle cx="121.4" cy="223.2" r="0.95"/><circle cx="110.8" cy="223.2" r="0.95"/><circle cx="119.7" cy="222.8" r="0.95"/><circle cx="117.8" cy="225.8" r="0.95"/><circle cx="120.5" cy="224.1" r="0.95"/><circle cx="105.9" cy="224.8" r="0.95"/><circle cx="122.4" cy="224.1" r="0.95"/><circle cx="118.1" cy="223.8" r="0.95"/><circle cx="120.8" cy="221.5" r="0.95"/><circle cx="122.4" cy="222.7" r="0.95"/><circle cx="119.5" cy="219.2" r="0.95"/><circle cx="123.4" cy="224.5" r="0.95"/><circle cx="107.9" cy="222.9" r="0.95"/><circle cx="111.3" cy="223.6" r="0.95"/><circle cx="122.6" cy="221.4" r="0.95"/><circle cx="118.5" cy="222.1" r="0.95"/><circle cx="129.4" cy="226.3" r="0.95"/></g>
<g fill="#e879ad" fill-opacity="0.6"></g>
<rect x="118.09" y="223.40" width="1" height="1.2" fill="#fff" fill-opacity="0.6"/>
<rect x="118.69" y="219.59" width="1" height="1.2" fill="#fff" fill-opacity="0.6"/>
<rect x="116.21" y="224.24" width="1" height="1.2" fill="#fff" fill-opacity="0.6"/>
<rect x="119.19" y="224.67" width="1" height="1.2" fill="#fff" fill-opacity="0.6"/>
<rect x="118.21" y="221.27" width="1" height="1.2" fill="#fff" fill-opacity="0.6"/>
<rect x="121.09" y="221.00" width="1" height="1.2" fill="#fff" fill-opacity="0.6"/>
<text x="33.60" y="27.95" font-size="9.4" text-anchor="end" font-weight="normal" fill="#1a1a1a" >RM</text>
<text x="35.60" y="46.73" font-size="9.4" text-anchor="end" font-weight="normal" fill="#1a1a1a" >CRISPR</text>
<text x="35.60" y="54.73" font-size="9.4" text-anchor="end" font-weight="normal" fill="#1a1a1a" >-Cas</text>
<text x="35.30" y="72.11" font-size="9.4" text-anchor="end" font-weight="normal" fill="#1a1a1a" >AbiE</text>
<text x="35.30" y="94.19" font-size="9.4" text-anchor="end" font-weight="normal" fill="#1a1a1a" >SoFic</text>
<text x="35.30" y="116.27" font-size="9.4" text-anchor="end" font-weight="normal" fill="#1a1a1a" >CBASS</text>
<text x="35.30" y="138.35" font-size="9.4" text-anchor="end" font-weight="normal" fill="#1a1a1a" >AbiL</text>
<text x="35.30" y="160.43" font-size="9.4" text-anchor="end" font-weight="normal" fill="#1a1a1a" >Septu</text>
<text x="35.30" y="182.51" font-size="9.4" text-anchor="end" font-weight="normal" fill="#1a1a1a" >Wadjet</text>
<text x="35.30" y="204.59" font-size="9.4" text-anchor="end" font-weight="normal" fill="#1a1a1a" >Gabija</text>
<text x="35.30" y="226.67" font-size="9.4" text-anchor="end" font-weight="normal" fill="#1a1a1a" >viperin</text>
<line x1="64.80" y1="236.50" x2="64.80" y2="239.00" stroke="#333333" stroke-width="0.9" />
<text x="64.80" y="248.00" font-size="9.2" text-anchor="middle" font-weight="normal" fill="#1a1a1a" >&#8722;4</text>
<line x1="95.20" y1="236.50" x2="95.20" y2="239.00" stroke="#333333" stroke-width="0.9" />
<text x="95.20" y="248.00" font-size="9.2" text-anchor="middle" font-weight="normal" fill="#1a1a1a" >0</text>
<line x1="125.60" y1="236.50" x2="125.60" y2="239.00" stroke="#333333" stroke-width="0.9" />
<text x="125.60" y="248.00" font-size="9.2" text-anchor="middle" font-weight="normal" fill="#1a1a1a" >4</text>
<line x1="156.00" y1="236.50" x2="156.00" y2="239.00" stroke="#333333" stroke-width="0.9" />
<text x="156.00" y="248.00" font-size="9.2" text-anchor="middle" font-weight="normal" fill="#1a1a1a" >8</text>
<text x="106.40" y="255.60" font-size="7.6" text-anchor="middle" font-weight="normal" fill="#333" >log<tspan font-size="4.7" dy="1.7">10</tspan><tspan dy="-1.7">GPM</tspan></text>
<text x="48.20" y="21.30" font-size="8.5" text-anchor="start" font-weight="normal" fill="#333" ><tspan font-style="italic">p</tspan> &lt; 2.2e-16</text>
<line x1="168.00" y1="24.75" x2="170.50" y2="24.75" stroke="#333333" stroke-width="0.9" />
<line x1="183.80" y1="24.75" x2="240.70" y2="24.75" stroke="#c43e2c" stroke-width="2.0" />
<rect x="192.00" y="19.55" width="22.30" height="10.40" fill="#fff" stroke="#c43e2c" stroke-width="1.9" />
<line x1="208.00" y1="19.55" x2="208.00" y2="29.95" stroke="#c43e2c" stroke-width="2.6" />
<g fill="#c43e2c" fill-opacity="0.55"><circle cx="186.0" cy="22.1" r="1.15"/><circle cx="190.0" cy="24.0" r="1.15"/><circle cx="195.0" cy="24.5" r="1.15"/><circle cx="198.0" cy="23.0" r="1.15"/><circle cx="203.0" cy="27.5" r="1.15"/><circle cx="206.0" cy="23.1" r="1.15"/><circle cx="209.0" cy="22.5" r="1.15"/><circle cx="212.0" cy="25.7" r="1.15"/><circle cx="232.0" cy="22.6" r="1.15"/><circle cx="238.0" cy="23.4" r="1.15"/><circle cx="240.0" cy="24.2" r="1.15"/></g>
<line x1="168.00" y1="46.83" x2="170.50" y2="46.83" stroke="#333333" stroke-width="0.9" />
<line x1="174.70" y1="46.83" x2="234.40" y2="46.83" stroke="#1f78bf" stroke-width="2.0" />
<rect x="187.60" y="41.63" width="25.50" height="10.40" fill="#fff" stroke="#1f78bf" stroke-width="1.9" />
<line x1="197.00" y1="41.63" x2="197.00" y2="52.03" stroke="#1f78bf" stroke-width="2.6" />
<g fill="#1f78bf" fill-opacity="0.55"><circle cx="175.0" cy="45.5" r="1.15"/><circle cx="178.0" cy="47.8" r="1.15"/><circle cx="183.0" cy="44.7" r="1.15"/><circle cx="190.0" cy="47.7" r="1.15"/><circle cx="200.0" cy="44.5" r="1.15"/><circle cx="205.0" cy="47.3" r="1.15"/><circle cx="208.0" cy="49.7" r="1.15"/><circle cx="220.0" cy="48.6" r="1.15"/><circle cx="232.0" cy="49.5" r="1.15"/><circle cx="233.0" cy="47.1" r="1.15"/></g>
<line x1="168.00" y1="68.91" x2="170.50" y2="68.91" stroke="#333333" stroke-width="0.9" />
<line x1="181.90" y1="68.91" x2="229.50" y2="68.91" stroke="#23884f" stroke-width="2.0" />
<rect x="186.30" y="63.71" width="43.20" height="10.40" fill="#fff" stroke="#23884f" stroke-width="1.9" />
<line x1="198.80" y1="63.71" x2="198.80" y2="74.11" stroke="#23884f" stroke-width="2.6" />
<g fill="#23884f" fill-opacity="0.55"><circle cx="182.0" cy="66.9" r="1.15"/><circle cx="188.0" cy="68.1" r="1.15"/><circle cx="196.0" cy="70.6" r="1.15"/><circle cx="213.0" cy="66.7" r="1.15"/><circle cx="229.0" cy="69.9" r="1.15"/><circle cx="230.0" cy="67.8" r="1.15"/></g>
<line x1="168.00" y1="90.99" x2="170.50" y2="90.99" stroke="#333333" stroke-width="0.9" />
<line x1="181.50" y1="90.99" x2="229.00" y2="90.99" stroke="#d2249a" stroke-width="2.0" />
<rect x="194.40" y="85.79" width="32.20" height="10.40" fill="#fff" stroke="#d2249a" stroke-width="1.9" />
<line x1="197.30" y1="85.79" x2="197.30" y2="96.19" stroke="#d2249a" stroke-width="2.6" />
<g fill="#d2249a" fill-opacity="0.55"><circle cx="182.0" cy="93.5" r="1.15"/><circle cx="191.0" cy="90.1" r="1.15"/><circle cx="227.0" cy="89.9" r="1.15"/><circle cx="228.0" cy="89.6" r="1.15"/></g>
<line x1="168.00" y1="113.07" x2="170.50" y2="113.07" stroke="#333333" stroke-width="0.9" />
<line x1="216.20" y1="113.07" x2="221.80" y2="113.07" stroke="#8b8a00" stroke-width="2.0" />
<rect x="216.20" y="107.57" width="5.60" height="11.00" fill="#8b8a00" stroke="none" stroke-width="1" />
<g fill="#8b8a00" fill-opacity="0.55"><circle cx="197.0" cy="113.3" r="1.15"/><circle cx="227.2" cy="115.8" r="1.15"/></g>
<line x1="168.00" y1="135.15" x2="170.50" y2="135.15" stroke="#333333" stroke-width="0.9" />
<line x1="181.30" y1="135.15" x2="223.30" y2="135.15" stroke="#8f6590" stroke-width="2.0" />
<rect x="191.00" y="129.95" width="32.30" height="10.40" fill="#fff" stroke="#8f6590" stroke-width="1.9" />
<line x1="215.00" y1="129.95" x2="215.00" y2="140.35" stroke="#8f6590" stroke-width="2.6" />
<g fill="#8f6590" fill-opacity="0.55"><circle cx="182.0" cy="135.4" r="1.15"/><circle cx="185.0" cy="136.6" r="1.15"/><circle cx="208.0" cy="135.3" r="1.15"/><circle cx="220.0" cy="132.6" r="1.15"/></g>
<line x1="168.00" y1="157.23" x2="170.50" y2="157.23" stroke="#333333" stroke-width="0.9" />
<line x1="213.00" y1="157.23" x2="223.00" y2="157.23" stroke="#e4992d" stroke-width="2.0" />
<rect x="213.00" y="151.73" width="6.40" height="11.00" fill="#e4992d" stroke="none" stroke-width="1" />
<g fill="#e4992d" fill-opacity="0.55"><circle cx="214.0" cy="157.7" r="1.15"/><circle cx="218.0" cy="157.8" r="1.15"/><circle cx="222.0" cy="157.8" r="1.15"/></g>
<line x1="168.00" y1="179.31" x2="170.50" y2="179.31" stroke="#333333" stroke-width="0.9" />
<line x1="210.80" y1="179.31" x2="227.50" y2="179.31" stroke="#5a3fce" stroke-width="2.0" />
<rect x="210.80" y="174.11" width="11.70" height="10.40" fill="#fff" stroke="#5a3fce" stroke-width="1.9" />
<line x1="212.50" y1="174.11" x2="212.50" y2="184.51" stroke="#5a3fce" stroke-width="2.6" />
<g fill="#5a3fce" fill-opacity="0.55"><circle cx="194.8" cy="178.1" r="1.15"/><circle cx="228.0" cy="177.9" r="1.15"/></g>
<line x1="168.00" y1="201.39" x2="170.50" y2="201.39" stroke="#333333" stroke-width="0.9" />
<line x1="173.00" y1="201.39" x2="219.40" y2="201.39" stroke="#2aa0a6" stroke-width="2.0" />
<rect x="184.80" y="196.19" width="34.60" height="10.40" fill="#fff" stroke="#2aa0a6" stroke-width="1.9" />
<line x1="192.70" y1="196.19" x2="192.70" y2="206.59" stroke="#2aa0a6" stroke-width="2.6" />
<g fill="#2aa0a6" fill-opacity="0.55"><circle cx="174.0" cy="200.4" r="1.15"/><circle cx="184.0" cy="198.6" r="1.15"/><circle cx="187.0" cy="199.4" r="1.15"/><circle cx="196.0" cy="200.1" r="1.15"/><circle cx="220.0" cy="201.5" r="1.15"/></g>
<line x1="168.00" y1="223.47" x2="170.50" y2="223.47" stroke="#333333" stroke-width="0.9" />
<line x1="183.00" y1="223.47" x2="229.60" y2="223.47" stroke="#e879ad" stroke-width="2.0" />
<rect x="189.20" y="218.27" width="40.40" height="10.40" fill="#fff" stroke="#e879ad" stroke-width="1.9" />
<line x1="205.20" y1="218.27" x2="205.20" y2="228.67" stroke="#e879ad" stroke-width="2.6" />
<g fill="#e879ad" fill-opacity="0.55"><circle cx="183.0" cy="225.9" r="1.15"/><circle cx="188.0" cy="224.7" r="1.15"/><circle cx="197.0" cy="223.6" r="1.15"/><circle cx="214.0" cy="224.8" r="1.15"/><circle cx="229.0" cy="223.1" r="1.15"/><circle cx="230.0" cy="220.8" r="1.15"/></g>
<line x1="188.50" y1="236.50" x2="188.50" y2="239.00" stroke="#333333" stroke-width="0.9" />
<text x="188.50" y="248.00" font-size="9.2" text-anchor="middle" font-weight="normal" fill="#1a1a1a" >&#8722;4</text>
<line x1="209.80" y1="236.50" x2="209.80" y2="239.00" stroke="#333333" stroke-width="0.9" />
<text x="209.80" y="248.00" font-size="9.2" text-anchor="middle" font-weight="normal" fill="#1a1a1a" >0</text>
<line x1="230.40" y1="236.50" x2="230.40" y2="239.00" stroke="#333333" stroke-width="0.9" />
<text x="230.40" y="248.00" font-size="9.2" text-anchor="middle" font-weight="normal" fill="#1a1a1a" >4</text>
<text x="209.30" y="255.60" font-size="7.6" text-anchor="middle" font-weight="normal" fill="#333" >log<tspan font-size="4.7" dy="1.7">10</tspan><tspan dy="-1.7">TPM</tspan></text>
<text x="242.20" y="21.00" font-size="8.6" text-anchor="end" font-weight="normal" fill="#333" ><tspan font-style="italic">p</tspan> = 0.522</text>
<rect x="38.30" y="261.10" width="206.20" height="171.50" fill="none" stroke="#1a1a1a" stroke-width="1.0" />
<line x1="35.80" y1="296.20" x2="38.30" y2="296.20" stroke="#1a1a1a" stroke-width="0.9" />
<text x="34.80" y="299.20" font-size="8.6" text-anchor="end" font-weight="normal" fill="#1a1a1a" >4.0</text>
<line x1="35.80" y1="329.80" x2="38.30" y2="329.80" stroke="#1a1a1a" stroke-width="0.9" />
<text x="34.80" y="332.80" font-size="8.6" text-anchor="end" font-weight="normal" fill="#1a1a1a" >3.6</text>
<line x1="35.80" y1="363.40" x2="38.30" y2="363.40" stroke="#1a1a1a" stroke-width="0.9" />
<text x="34.80" y="366.40" font-size="8.6" text-anchor="end" font-weight="normal" fill="#1a1a1a" >3.2</text>
<line x1="35.80" y1="397.00" x2="38.30" y2="397.00" stroke="#1a1a1a" stroke-width="0.9" />
<text x="34.80" y="400.00" font-size="8.6" text-anchor="end" font-weight="normal" fill="#1a1a1a" >2.8</text>
<line x1="35.80" y1="430.60" x2="38.30" y2="430.60" stroke="#1a1a1a" stroke-width="0.9" />
<text x="34.80" y="433.60" font-size="8.6" text-anchor="end" font-weight="normal" fill="#1a1a1a" >2.4</text>
<text transform="translate(18.2,344.5) rotate(-90)" font-size="9.4" text-anchor="middle" fill="#1a1a1a">log<tspan font-size="5.4" dy="2">10</tspan><tspan dy="-2">GPM</tspan></text>
<line x1="77.20" y1="304.70" x2="77.20" y2="346.40" stroke="#e41a1c" stroke-width="1.3" />
<line x1="77.20" y1="384.60" x2="77.20" y2="426.70" stroke="#e41a1c" stroke-width="1.3" />
<rect x="54.40" y="346.40" width="45.60" height="38.20" fill="none" stroke="#e41a1c" stroke-width="1.3" />
<line x1="54.40" y1="357.90" x2="100.00" y2="357.90" stroke="#e41a1c" stroke-width="2.6" />
<line x1="77.20" y1="432.60" x2="77.20" y2="435.10" stroke="#1a1a1a" stroke-width="0.9" />
<line x1="141.60" y1="333.50" x2="141.60" y2="338.40" stroke="#377eb8" stroke-width="1.3" />
<line x1="141.60" y1="371.60" x2="141.60" y2="395.00" stroke="#377eb8" stroke-width="1.3" />
<rect x="118.80" y="338.40" width="45.60" height="33.20" fill="none" stroke="#377eb8" stroke-width="1.3" />
<line x1="118.80" y1="345.00" x2="164.40" y2="345.00" stroke="#377eb8" stroke-width="2.6" />
<line x1="141.60" y1="432.60" x2="141.60" y2="435.10" stroke="#1a1a1a" stroke-width="0.9" />
<line x1="206.40" y1="340.00" x2="206.40" y2="353.60" stroke="#4daf4a" stroke-width="1.3" />
<line x1="206.40" y1="381.90" x2="206.40" y2="392.00" stroke="#4daf4a" stroke-width="1.3" />
<rect x="183.60" y="353.60" width="45.60" height="28.30" fill="none" stroke="#4daf4a" stroke-width="1.3" />
<line x1="183.60" y1="360.40" x2="229.20" y2="360.40" stroke="#4daf4a" stroke-width="2.6" />
<line x1="206.40" y1="432.60" x2="206.40" y2="435.10" stroke="#1a1a1a" stroke-width="0.9" />
<circle cx="75.13" cy="304.60" r="1.9" fill="#e41a1c" fill-opacity="0.7"/>
<circle cx="72.03" cy="308.80" r="1.9" fill="#e41a1c" fill-opacity="0.7"/>
<circle cx="74.61" cy="313.00" r="1.9" fill="#e41a1c" fill-opacity="0.7"/>
<circle cx="75.73" cy="327.45" r="1.9" fill="#e41a1c" fill-opacity="0.7"/>
<circle cx="82.98" cy="324.64" r="1.9" fill="#e41a1c" fill-opacity="0.7"/>
<circle cx="71.82" cy="306.29" r="1.9" fill="#e41a1c" fill-opacity="0.7"/>
<circle cx="71.41" cy="326.46" r="1.9" fill="#e41a1c" fill-opacity="0.7"/>
<circle cx="78.06" cy="325.07" r="1.9" fill="#e41a1c" fill-opacity="0.7"/>
<circle cx="83.69" cy="305.82" r="1.9" fill="#e41a1c" fill-opacity="0.7"/>
<circle cx="82.90" cy="363.67" r="1.9" fill="#e41a1c" fill-opacity="0.7"/>
<circle cx="80.00" cy="332.13" r="1.9" fill="#e41a1c" fill-opacity="0.7"/>
<circle cx="71.13" cy="347.49" r="1.9" fill="#e41a1c" fill-opacity="0.7"/>
<circle cx="81.49" cy="340.31" r="1.9" fill="#e41a1c" fill-opacity="0.7"/>
<circle cx="79.77" cy="347.86" r="1.9" fill="#e41a1c" fill-opacity="0.7"/>
<circle cx="72.22" cy="350.10" r="1.9" fill="#e41a1c" fill-opacity="0.7"/>
<circle cx="76.71" cy="342.32" r="1.9" fill="#e41a1c" fill-opacity="0.7"/>
<circle cx="70.89" cy="338.98" r="1.9" fill="#e41a1c" fill-opacity="0.7"/>
<circle cx="81.43" cy="348.47" r="1.9" fill="#e41a1c" fill-opacity="0.7"/>
<circle cx="80.26" cy="348.01" r="1.9" fill="#e41a1c" fill-opacity="0.7"/>
<circle cx="81.46" cy="340.26" r="1.9" fill="#e41a1c" fill-opacity="0.7"/>
<circle cx="80.85" cy="354.64" r="1.9" fill="#e41a1c" fill-opacity="0.7"/>
<circle cx="73.94" cy="360.59" r="1.9" fill="#e41a1c" fill-opacity="0.7"/>
<circle cx="81.26" cy="342.95" r="1.9" fill="#e41a1c" fill-opacity="0.7"/>
<circle cx="73.69" cy="352.80" r="1.9" fill="#e41a1c" fill-opacity="0.7"/>
<circle cx="72.13" cy="364.34" r="1.9" fill="#e41a1c" fill-opacity="0.7"/>
<circle cx="75.67" cy="354.12" r="1.9" fill="#e41a1c" fill-opacity="0.7"/>
<circle cx="77.17" cy="350.92" r="1.9" fill="#e41a1c" fill-opacity="0.7"/>
<circle cx="74.20" cy="357.63" r="1.9" fill="#e41a1c" fill-opacity="0.7"/>
<circle cx="78.68" cy="360.39" r="1.9" fill="#e41a1c" fill-opacity="0.7"/>
<circle cx="78.64" cy="346.26" r="1.9" fill="#e41a1c" fill-opacity="0.7"/>
<circle cx="73.56" cy="338.31" r="1.9" fill="#e41a1c" fill-opacity="0.7"/>
<circle cx="78.92" cy="348.75" r="1.9" fill="#e41a1c" fill-opacity="0.7"/>
<circle cx="75.20" cy="353.47" r="1.9" fill="#e41a1c" fill-opacity="0.7"/>
<circle cx="80.49" cy="343.04" r="1.9" fill="#e41a1c" fill-opacity="0.7"/>
<circle cx="74.27" cy="339.97" r="1.9" fill="#e41a1c" fill-opacity="0.7"/>
<circle cx="81.38" cy="349.37" r="1.9" fill="#e41a1c" fill-opacity="0.7"/>
<circle cx="76.01" cy="341.57" r="1.9" fill="#e41a1c" fill-opacity="0.7"/>
<circle cx="77.95" cy="336.96" r="1.9" fill="#e41a1c" fill-opacity="0.7"/>
<circle cx="79.63" cy="348.51" r="1.9" fill="#e41a1c" fill-opacity="0.7"/>
<circle cx="77.46" cy="354.12" r="1.9" fill="#e41a1c" fill-opacity="0.7"/>
<circle cx="73.81" cy="343.39" r="1.9" fill="#e41a1c" fill-opacity="0.7"/>
<circle cx="83.91" cy="344.31" r="1.9" fill="#e41a1c" fill-opacity="0.7"/>
<circle cx="71.54" cy="336.45" r="1.9" fill="#e41a1c" fill-opacity="0.7"/>
<circle cx="74.75" cy="358.47" r="1.9" fill="#e41a1c" fill-opacity="0.7"/>
<circle cx="77.89" cy="352.71" r="1.9" fill="#e41a1c" fill-opacity="0.7"/>
<circle cx="70.60" cy="354.34" r="1.9" fill="#e41a1c" fill-opacity="0.7"/>
<circle cx="72.37" cy="362.62" r="1.9" fill="#e41a1c" fill-opacity="0.7"/>
<circle cx="81.39" cy="345.43" r="1.9" fill="#e41a1c" fill-opacity="0.7"/>
<circle cx="81.17" cy="341.72" r="1.9" fill="#e41a1c" fill-opacity="0.7"/>
<circle cx="79.12" cy="353.43" r="1.9" fill="#e41a1c" fill-opacity="0.7"/>
<circle cx="82.83" cy="333.80" r="1.9" fill="#e41a1c" fill-opacity="0.7"/>
<circle cx="80.78" cy="339.01" r="1.9" fill="#e41a1c" fill-opacity="0.7"/>
<circle cx="74.38" cy="340.80" r="1.9" fill="#e41a1c" fill-opacity="0.7"/>
<circle cx="79.23" cy="342.89" r="1.9" fill="#e41a1c" fill-opacity="0.7"/>
<circle cx="74.96" cy="337.77" r="1.9" fill="#e41a1c" fill-opacity="0.7"/>
<circle cx="80.70" cy="358.91" r="1.9" fill="#e41a1c" fill-opacity="0.7"/>
<circle cx="75.59" cy="340.93" r="1.9" fill="#e41a1c" fill-opacity="0.7"/>
<circle cx="72.35" cy="341.03" r="1.9" fill="#e41a1c" fill-opacity="0.7"/>
<circle cx="82.47" cy="362.93" r="1.9" fill="#e41a1c" fill-opacity="0.7"/>
<circle cx="79.87" cy="343.39" r="1.9" fill="#e41a1c" fill-opacity="0.7"/>
<circle cx="80.63" cy="348.91" r="1.9" fill="#e41a1c" fill-opacity="0.7"/>
<circle cx="78.03" cy="339.38" r="1.9" fill="#e41a1c" fill-opacity="0.7"/>
<circle cx="81.16" cy="350.66" r="1.9" fill="#e41a1c" fill-opacity="0.7"/>
<circle cx="76.47" cy="346.77" r="1.9" fill="#e41a1c" fill-opacity="0.7"/>
<circle cx="78.12" cy="343.43" r="1.9" fill="#e41a1c" fill-opacity="0.7"/>
<circle cx="71.08" cy="354.70" r="1.9" fill="#e41a1c" fill-opacity="0.7"/>
<circle cx="77.97" cy="341.07" r="1.9" fill="#e41a1c" fill-opacity="0.7"/>
<circle cx="81.60" cy="347.57" r="1.9" fill="#e41a1c" fill-opacity="0.7"/>
<circle cx="80.08" cy="342.05" r="1.9" fill="#e41a1c" fill-opacity="0.7"/>
<circle cx="81.44" cy="369.85" r="1.9" fill="#e41a1c" fill-opacity="0.7"/>
<circle cx="77.15" cy="382.25" r="1.9" fill="#e41a1c" fill-opacity="0.7"/>
<circle cx="82.54" cy="384.21" r="1.9" fill="#e41a1c" fill-opacity="0.7"/>
<circle cx="71.72" cy="385.72" r="1.9" fill="#e41a1c" fill-opacity="0.7"/>
<circle cx="82.46" cy="380.17" r="1.9" fill="#e41a1c" fill-opacity="0.7"/>
<circle cx="75.40" cy="371.42" r="1.9" fill="#e41a1c" fill-opacity="0.7"/>
<circle cx="71.47" cy="376.14" r="1.9" fill="#e41a1c" fill-opacity="0.7"/>
<circle cx="78.87" cy="368.89" r="1.9" fill="#e41a1c" fill-opacity="0.7"/>
<circle cx="76.57" cy="381.70" r="1.9" fill="#e41a1c" fill-opacity="0.7"/>
<circle cx="76.20" cy="379.73" r="1.9" fill="#e41a1c" fill-opacity="0.7"/>
<circle cx="82.13" cy="380.88" r="1.9" fill="#e41a1c" fill-opacity="0.7"/>
<circle cx="72.13" cy="366.36" r="1.9" fill="#e41a1c" fill-opacity="0.7"/>
<circle cx="78.84" cy="367.11" r="1.9" fill="#e41a1c" fill-opacity="0.7"/>
<circle cx="75.99" cy="379.21" r="1.9" fill="#e41a1c" fill-opacity="0.7"/>
<circle cx="77.60" cy="377.29" r="1.9" fill="#e41a1c" fill-opacity="0.7"/>
<circle cx="77.19" cy="379.74" r="1.9" fill="#e41a1c" fill-opacity="0.7"/>
<circle cx="72.08" cy="371.03" r="1.9" fill="#e41a1c" fill-opacity="0.7"/>
<circle cx="77.37" cy="385.27" r="1.9" fill="#e41a1c" fill-opacity="0.7"/>
<circle cx="82.27" cy="384.72" r="1.9" fill="#e41a1c" fill-opacity="0.7"/>
<circle cx="72.60" cy="377.93" r="1.9" fill="#e41a1c" fill-opacity="0.7"/>
<circle cx="70.36" cy="403.20" r="1.9" fill="#e41a1c" fill-opacity="0.7"/>
<circle cx="71.15" cy="389.59" r="1.9" fill="#e41a1c" fill-opacity="0.7"/>
<circle cx="76.64" cy="391.94" r="1.9" fill="#e41a1c" fill-opacity="0.7"/>
<circle cx="83.84" cy="396.38" r="1.9" fill="#e41a1c" fill-opacity="0.7"/>
<circle cx="70.82" cy="393.76" r="1.9" fill="#e41a1c" fill-opacity="0.7"/>
<circle cx="84.07" cy="393.06" r="1.9" fill="#e41a1c" fill-opacity="0.7"/>
<circle cx="77.70" cy="391.05" r="1.9" fill="#e41a1c" fill-opacity="0.7"/>
<circle cx="71.88" cy="387.72" r="1.9" fill="#e41a1c" fill-opacity="0.7"/>
<circle cx="76.06" cy="405.36" r="1.9" fill="#e41a1c" fill-opacity="0.7"/>
<circle cx="73.10" cy="394.56" r="1.9" fill="#e41a1c" fill-opacity="0.7"/>
<circle cx="80.20" cy="405.50" r="1.9" fill="#e41a1c" fill-opacity="0.7"/>
<circle cx="77.78" cy="419.33" r="1.9" fill="#e41a1c" fill-opacity="0.7"/>
<circle cx="74.23" cy="413.85" r="1.9" fill="#e41a1c" fill-opacity="0.7"/>
<circle cx="73.78" cy="412.12" r="1.9" fill="#e41a1c" fill-opacity="0.7"/>
<circle cx="82.34" cy="414.28" r="1.9" fill="#e41a1c" fill-opacity="0.7"/>
<circle cx="80.93" cy="425.83" r="1.9" fill="#e41a1c" fill-opacity="0.7"/>
<circle cx="76.31" cy="420.66" r="1.9" fill="#e41a1c" fill-opacity="0.7"/>
<circle cx="75.88" cy="423.80" r="1.9" fill="#e41a1c" fill-opacity="0.7"/>
<circle cx="80.52" cy="410.46" r="1.9" fill="#e41a1c" fill-opacity="0.7"/>
<circle cx="83.79" cy="424.10" r="1.9" fill="#e41a1c" fill-opacity="0.7"/>
<circle cx="71.31" cy="422.50" r="1.9" fill="#e41a1c" fill-opacity="0.7"/>
<circle cx="72.43" cy="420.70" r="1.9" fill="#e41a1c" fill-opacity="0.7"/>
<circle cx="75.27" cy="425.43" r="1.9" fill="#e41a1c" fill-opacity="0.7"/>
<circle cx="77.31" cy="412.51" r="1.9" fill="#e41a1c" fill-opacity="0.7"/>
<circle cx="71.20" cy="416.24" r="1.9" fill="#e41a1c" fill-opacity="0.7"/>
<circle cx="70.95" cy="423.85" r="1.9" fill="#e41a1c" fill-opacity="0.7"/>
<circle cx="73.27" cy="418.45" r="1.9" fill="#e41a1c" fill-opacity="0.7"/>
<circle cx="75.60" cy="425.14" r="1.9" fill="#e41a1c" fill-opacity="0.7"/>
<circle cx="80.55" cy="416.65" r="1.9" fill="#e41a1c" fill-opacity="0.7"/>
<circle cx="78.74" cy="422.70" r="1.9" fill="#e41a1c" fill-opacity="0.7"/>
<circle cx="70.61" cy="425.78" r="1.9" fill="#e41a1c" fill-opacity="0.7"/>
<circle cx="70.83" cy="424.56" r="1.9" fill="#e41a1c" fill-opacity="0.7"/>
<circle cx="76.53" cy="417.54" r="1.9" fill="#e41a1c" fill-opacity="0.7"/>
<circle cx="82.45" cy="416.23" r="1.9" fill="#e41a1c" fill-opacity="0.7"/>
<circle cx="83.01" cy="425.56" r="1.9" fill="#e41a1c" fill-opacity="0.7"/>
<circle cx="75.31" cy="426.40" r="1.9" fill="#e41a1c" fill-opacity="0.7"/>
<circle cx="138.46" cy="334.23" r="1.9" fill="#377eb8" fill-opacity="0.7"/>
<circle cx="140.36" cy="336.13" r="1.9" fill="#377eb8" fill-opacity="0.7"/>
<circle cx="143.21" cy="336.13" r="1.9" fill="#377eb8" fill-opacity="0.7"/>
<circle cx="136.57" cy="338.03" r="1.9" fill="#377eb8" fill-opacity="0.7"/>
<circle cx="141.31" cy="338.03" r="1.9" fill="#377eb8" fill-opacity="0.7"/>
<circle cx="137.51" cy="340.87" r="1.9" fill="#377eb8" fill-opacity="0.7"/>
<circle cx="146.05" cy="340.87" r="1.9" fill="#377eb8" fill-opacity="0.7"/>
<circle cx="142.26" cy="344.67" r="1.9" fill="#377eb8" fill-opacity="0.7"/>
<circle cx="145.10" cy="345.62" r="1.9" fill="#377eb8" fill-opacity="0.7"/>
<circle cx="147.00" cy="345.62" r="1.9" fill="#377eb8" fill-opacity="0.7"/>
<circle cx="137.51" cy="349.41" r="1.9" fill="#377eb8" fill-opacity="0.7"/>
<circle cx="140.36" cy="352.26" r="1.9" fill="#377eb8" fill-opacity="0.7"/>
<circle cx="141.88" cy="353.78" r="1.9" fill="#377eb8" fill-opacity="0.7"/>
<circle cx="147.00" cy="354.72" r="1.9" fill="#377eb8" fill-opacity="0.7"/>
<circle cx="146.62" cy="365.54" r="1.9" fill="#377eb8" fill-opacity="0.7"/>
<circle cx="147.57" cy="370.85" r="1.9" fill="#377eb8" fill-opacity="0.7"/>
<circle cx="138.46" cy="373.51" r="1.9" fill="#377eb8" fill-opacity="0.7"/>
<circle cx="144.72" cy="375.03" r="1.9" fill="#377eb8" fill-opacity="0.7"/>
<circle cx="147.00" cy="380.72" r="1.9" fill="#377eb8" fill-opacity="0.7"/>
<circle cx="136.57" cy="389.26" r="1.9" fill="#377eb8" fill-opacity="0.7"/>
<circle cx="138.46" cy="392.11" r="1.9" fill="#377eb8" fill-opacity="0.7"/>
<circle cx="143.21" cy="391.16" r="1.9" fill="#377eb8" fill-opacity="0.7"/>
<circle cx="138.08" cy="395.52" r="1.9" fill="#377eb8" fill-opacity="0.7"/>
<circle cx="140.36" cy="394.00" r="1.9" fill="#377eb8" fill-opacity="0.7"/>
<circle cx="139.41" cy="335.18" r="1.9" fill="#377eb8" fill-opacity="0.7"/>
<circle cx="142.26" cy="338.98" r="1.9" fill="#377eb8" fill-opacity="0.7"/>
<circle cx="144.16" cy="342.77" r="1.9" fill="#377eb8" fill-opacity="0.7"/>
<circle cx="138.46" cy="343.72" r="1.9" fill="#377eb8" fill-opacity="0.7"/>
<circle cx="141.31" cy="346.57" r="1.9" fill="#377eb8" fill-opacity="0.7"/>
<circle cx="145.10" cy="338.98" r="1.9" fill="#377eb8" fill-opacity="0.7"/>
<circle cx="136.57" cy="390.21" r="1.9" fill="#377eb8" fill-opacity="0.7"/>
<circle cx="140.36" cy="392.11" r="1.9" fill="#377eb8" fill-opacity="0.7"/>
<circle cx="203.93" cy="339.92" r="1.9" fill="#4daf4a" fill-opacity="0.7"/>
<circle cx="204.88" cy="341.25" r="1.9" fill="#4daf4a" fill-opacity="0.7"/>
<circle cx="205.83" cy="348.46" r="1.9" fill="#4daf4a" fill-opacity="0.7"/>
<circle cx="202.03" cy="354.16" r="1.9" fill="#4daf4a" fill-opacity="0.7"/>
<circle cx="200.13" cy="355.67" r="1.9" fill="#4daf4a" fill-opacity="0.7"/>
<circle cx="204.31" cy="358.90" r="1.9" fill="#4daf4a" fill-opacity="0.7"/>
<circle cx="208.67" cy="360.80" r="1.9" fill="#4daf4a" fill-opacity="0.7"/>
<circle cx="207.15" cy="375.03" r="1.9" fill="#4daf4a" fill-opacity="0.7"/>
<circle cx="200.70" cy="380.72" r="1.9" fill="#4daf4a" fill-opacity="0.7"/>
<circle cx="202.98" cy="381.67" r="1.9" fill="#4daf4a" fill-opacity="0.7"/>
<circle cx="203.93" cy="385.46" r="1.9" fill="#4daf4a" fill-opacity="0.7"/>
<circle cx="207.72" cy="392.11" r="1.9" fill="#4daf4a" fill-opacity="0.7"/>
<circle cx="202.03" cy="382.62" r="1.9" fill="#4daf4a" fill-opacity="0.7"/>
<path d="M77.20,277.90 V275.70 H206.40 V277.90" fill="none" stroke="#1a1a1a" stroke-width="0.8"/>
<text x="144.00" y="273.70" font-size="7.5" text-anchor="middle" font-weight="normal" fill="#1a1a1a" >ns (<tspan font-style="italic">p</tspan> = 0.65)</text>
<path d="M141.70,287.90 V285.70 H206.40 V287.90" fill="none" stroke="#1a1a1a" stroke-width="0.8"/>
<text x="177.70" y="283.70" font-size="7.5" text-anchor="middle" font-weight="normal" fill="#1a1a1a" >* (<tspan font-style="italic">p</tspan> = 0.04)</text>
<path d="M77.20,297.60 V295.40 H141.70 V297.60" fill="none" stroke="#1a1a1a" stroke-width="0.8"/>
<text x="111.70" y="293.40" font-size="7.5" text-anchor="middle" font-weight="normal" fill="#1a1a1a" >ns (<tspan font-style="italic">p</tspan> = 0.06)</text>
<text x="77.20" y="444.30" font-size="9.6" text-anchor="middle" font-weight="normal" fill="#1a1a1a" >surface</text>
<text x="77.20" y="453.50" font-size="7.0" text-anchor="middle" font-weight="normal" fill="#1a1a1a" >(n = 125)</text>
<text x="141.60" y="444.30" font-size="9.6" text-anchor="middle" font-weight="normal" fill="#1a1a1a" >shallow</text>
<text x="141.60" y="453.50" font-size="7.0" text-anchor="middle" font-weight="normal" fill="#1a1a1a" >(n = 32)</text>
<text x="206.40" y="444.30" font-size="9.6" text-anchor="middle" font-weight="normal" fill="#1a1a1a" >deep</text>
<text x="206.40" y="453.50" font-size="7.0" text-anchor="middle" font-weight="normal" fill="#1a1a1a" >(n = 13)</text>
<rect x="38.30" y="462.00" width="206.80" height="164.90" fill="none" stroke="#1a1a1a" stroke-width="1.0" />
<line x1="35.80" y1="475.40" x2="38.30" y2="475.40" stroke="#1a1a1a" stroke-width="0.9" />
<text x="34.80" y="478.40" font-size="8.6" text-anchor="end" font-weight="normal" fill="#1a1a1a" >4</text>
<line x1="35.80" y1="511.90" x2="38.30" y2="511.90" stroke="#1a1a1a" stroke-width="0.9" />
<text x="34.80" y="514.90" font-size="8.6" text-anchor="end" font-weight="normal" fill="#1a1a1a" >3</text>
<line x1="35.80" y1="548.40" x2="38.30" y2="548.40" stroke="#1a1a1a" stroke-width="0.9" />
<text x="34.80" y="551.40" font-size="8.6" text-anchor="end" font-weight="normal" fill="#1a1a1a" >2</text>
<line x1="35.80" y1="584.90" x2="38.30" y2="584.90" stroke="#1a1a1a" stroke-width="0.9" />
<text x="34.80" y="587.90" font-size="8.6" text-anchor="end" font-weight="normal" fill="#1a1a1a" >1</text>
<line x1="35.80" y1="621.40" x2="38.30" y2="621.40" stroke="#1a1a1a" stroke-width="0.9" />
<text x="34.80" y="624.40" font-size="8.6" text-anchor="end" font-weight="normal" fill="#1a1a1a" >0</text>
<text transform="translate(23.2,531.3) rotate(-90)" font-size="9.1" text-anchor="middle" fill="#1a1a1a">log<tspan font-size="5.4" dy="2">10</tspan><tspan dy="-2">(TPM+1)</tspan></text>
<line x1="77.60" y1="504.80" x2="77.60" y2="513.75" stroke="#e41a1c" stroke-width="1.4" />
<line x1="77.60" y1="620.00" x2="77.60" y2="620.00" stroke="#e41a1c" stroke-width="1.4" />
<rect x="54.95" y="513.75" width="45.30" height="106.25" fill="none" stroke="#e41a1c" stroke-width="1.4" />
<line x1="54.95" y1="600.20" x2="100.25" y2="600.20" stroke="#e41a1c" stroke-width="2.7" />
<line x1="77.60" y1="626.90" x2="77.60" y2="629.40" stroke="#1a1a1a" stroke-width="0.9" />
<g fill="#e41a1c" fill-opacity="0.7"><circle cx="71.9" cy="504.0" r="1.95"/><circle cx="78.1" cy="505.4" r="1.95"/><circle cx="83.3" cy="509.6" r="1.95"/><circle cx="82.7" cy="517.9" r="1.95"/><circle cx="82.7" cy="590.2" r="1.95"/><circle cx="76.5" cy="600.2" r="1.95"/><circle cx="75.0" cy="620.0" r="1.95"/><circle cx="80.2" cy="619.6" r="1.95"/><circle cx="81.2" cy="621.0" r="1.95"/><circle cx="82.3" cy="620.4" r="1.95"/></g>
<line x1="142.50" y1="548.75" x2="142.50" y2="577.70" stroke="#377eb8" stroke-width="1.4" />
<line x1="142.50" y1="618.30" x2="142.50" y2="618.30" stroke="#377eb8" stroke-width="1.4" />
<rect x="119.85" y="577.70" width="45.30" height="40.60" fill="none" stroke="#377eb8" stroke-width="1.4" />
<line x1="119.85" y1="611.00" x2="165.15" y2="611.00" stroke="#377eb8" stroke-width="2.7" />
<line x1="142.50" y1="626.90" x2="142.50" y2="629.40" stroke="#1a1a1a" stroke-width="0.9" />
<g fill="#377eb8" fill-opacity="0.7"><circle cx="144.4" cy="548.8" r="1.95"/><circle cx="137.1" cy="564.8" r="1.95"/><circle cx="148.3" cy="561.7" r="1.95"/><circle cx="142.7" cy="580.0" r="1.95"/><circle cx="144.2" cy="577.9" r="1.95"/><circle cx="144.8" cy="608.5" r="1.95"/><circle cx="145.4" cy="613.8" r="1.95"/><circle cx="148.3" cy="616.5" r="1.95"/><circle cx="136.5" cy="618.3" r="1.95"/><circle cx="139.2" cy="620.4" r="1.95"/><circle cx="143.3" cy="619.6" r="1.95"/><circle cx="140.0" cy="619.6" r="1.95"/><circle cx="145.8" cy="610.6" r="1.95"/></g>
<line x1="206.80" y1="582.00" x2="206.80" y2="584.20" stroke="#4daf4a" stroke-width="1.4" />
<line x1="206.80" y1="606.60" x2="206.80" y2="621.00" stroke="#4daf4a" stroke-width="1.4" />
<rect x="184.15" y="584.20" width="45.30" height="22.40" fill="none" stroke="#4daf4a" stroke-width="1.4" />
<line x1="184.15" y1="595.60" x2="229.45" y2="595.60" stroke="#4daf4a" stroke-width="2.7" />
<line x1="206.80" y1="626.90" x2="206.80" y2="629.40" stroke="#1a1a1a" stroke-width="0.9" />
<g fill="#4daf4a" fill-opacity="0.7"><circle cx="206.2" cy="532.2" r="1.95"/><circle cx="204.0" cy="580.8" r="1.95"/><circle cx="207.7" cy="584.2" r="1.95"/><circle cx="202.3" cy="586.7" r="1.95"/><circle cx="207.7" cy="595.9" r="1.95"/><circle cx="212.1" cy="599.1" r="1.95"/><circle cx="213.0" cy="606.6" r="1.95"/><circle cx="206.2" cy="616.4" r="1.95"/><circle cx="212.1" cy="621.4" r="1.95"/></g>
<path d="M77.50,475.80 V473.60 H206.50 V475.80" fill="none" stroke="#1a1a1a" stroke-width="0.8"/>
<text x="144.30" y="471.60" font-size="7.5" text-anchor="middle" font-weight="normal" fill="#1a1a1a" >ns (<tspan font-style="italic">p</tspan> = 0.84)</text>
<path d="M142.00,485.10 V482.90 H206.50 V485.10" fill="none" stroke="#1a1a1a" stroke-width="0.8"/>
<text x="172.70" y="480.90" font-size="7.5" text-anchor="middle" font-weight="normal" fill="#1a1a1a" >ns (<tspan font-style="italic">p</tspan> = 0.65)</text>
<path d="M77.50,494.90 V492.70 H142.00 V494.90" fill="none" stroke="#1a1a1a" stroke-width="0.8"/>
<text x="110.70" y="490.70" font-size="7.5" text-anchor="middle" font-weight="normal" fill="#1a1a1a" >ns (<tspan font-style="italic">p</tspan> = 0.69)</text>
<text x="77.60" y="638.30" font-size="9.6" text-anchor="middle" font-weight="normal" fill="#1a1a1a" >surface</text>
<text x="77.60" y="647.00" font-size="7.0" text-anchor="middle" font-weight="normal" fill="#1a1a1a" >(n = 10)</text>
<text x="142.30" y="638.30" font-size="9.6" text-anchor="middle" font-weight="normal" fill="#1a1a1a" >shallow</text>
<text x="142.30" y="647.00" font-size="7.0" text-anchor="middle" font-weight="normal" fill="#1a1a1a" >(n = 13)</text>
<text x="206.80" y="638.30" font-size="9.6" text-anchor="middle" font-weight="normal" fill="#1a1a1a" >deep</text>
<text x="206.80" y="647.00" font-size="7.0" text-anchor="middle" font-weight="normal" fill="#1a1a1a" >(n = 9)</text>
<rect x="309.00" y="22.80" width="372.30" height="441.79" fill="#efefef" stroke="none" stroke-width="1" />
<rect x="309.00" y="22.80" width="7.30" height="7.62" fill="#3c2558" stroke="none" stroke-width="1" />
<rect x="316.30" y="22.80" width="7.30" height="7.62" fill="#3c6380" stroke="none" stroke-width="1" />
<rect x="323.60" y="22.80" width="7.30" height="7.62" fill="#3a7d82" stroke="none" stroke-width="1" />
<rect x="330.90" y="22.80" width="7.30" height="7.62" fill="#5c9a7e" stroke="none" stroke-width="1" />
<rect x="338.20" y="22.80" width="7.30" height="7.62" fill="#3f5080" stroke="none" stroke-width="1" />
<rect x="345.50" y="22.80" width="7.30" height="7.62" fill="#3c2558" stroke="none" stroke-width="1" />
<rect x="352.80" y="22.80" width="7.30" height="7.62" fill="#3f5080" stroke="none" stroke-width="1" />
<rect x="396.60" y="22.80" width="7.30" height="7.62" fill="#3f5080" stroke="none" stroke-width="1" />
<rect x="411.20" y="22.80" width="7.30" height="7.62" fill="#3a7d82" stroke="none" stroke-width="1" />
<rect x="425.80" y="22.80" width="7.30" height="7.62" fill="#80ad6a" stroke="none" stroke-width="1" />
<rect x="491.50" y="22.80" width="7.30" height="7.62" fill="#3f5080" stroke="none" stroke-width="1" />
<rect x="557.20" y="22.80" width="7.30" height="7.62" fill="#3c2558" stroke="none" stroke-width="1" />
<rect x="601.00" y="22.80" width="7.30" height="7.62" fill="#3c2558" stroke="none" stroke-width="1" />
<rect x="630.20" y="22.80" width="7.30" height="7.62" fill="#3c6380" stroke="none" stroke-width="1" />
<rect x="644.80" y="22.80" width="7.30" height="7.62" fill="#3c6380" stroke="none" stroke-width="1" />
<rect x="309.00" y="30.42" width="7.30" height="7.62" fill="#3f5080" stroke="none" stroke-width="1" />
<rect x="323.60" y="30.42" width="7.30" height="7.62" fill="#3f5080" stroke="none" stroke-width="1" />
<rect x="330.90" y="30.42" width="7.30" height="7.62" fill="#3a7d82" stroke="none" stroke-width="1" />
<rect x="338.20" y="30.42" width="7.30" height="7.62" fill="#45326e" stroke="none" stroke-width="1" />
<rect x="345.50" y="30.42" width="7.30" height="7.62" fill="#3a7d82" stroke="none" stroke-width="1" />
<rect x="352.80" y="30.42" width="7.30" height="7.62" fill="#3c6380" stroke="none" stroke-width="1" />
<rect x="360.10" y="30.42" width="7.30" height="7.62" fill="#3f5080" stroke="none" stroke-width="1" />
<rect x="367.40" y="30.42" width="7.30" height="7.62" fill="#3c6380" stroke="none" stroke-width="1" />
<rect x="382.00" y="30.42" width="7.30" height="7.62" fill="#3c2558" stroke="none" stroke-width="1" />
<rect x="396.60" y="30.42" width="7.30" height="7.62" fill="#3c6380" stroke="none" stroke-width="1" />
<rect x="425.80" y="30.42" width="7.30" height="7.62" fill="#3a7d82" stroke="none" stroke-width="1" />
<rect x="440.40" y="30.42" width="7.30" height="7.62" fill="#45326e" stroke="none" stroke-width="1" />
<rect x="455.00" y="30.42" width="7.30" height="7.62" fill="#3a7d82" stroke="none" stroke-width="1" />
<rect x="601.00" y="30.42" width="7.30" height="7.62" fill="#3f5080" stroke="none" stroke-width="1" />
<rect x="615.60" y="30.42" width="7.30" height="7.62" fill="#45326e" stroke="none" stroke-width="1" />
<rect x="637.50" y="30.42" width="7.30" height="7.62" fill="#3c2558" stroke="none" stroke-width="1" />
<rect x="674.00" y="30.42" width="7.30" height="7.62" fill="#45326e" stroke="none" stroke-width="1" />
<rect x="309.00" y="38.03" width="7.30" height="7.62" fill="#3f5080" stroke="none" stroke-width="1" />
<rect x="345.50" y="38.03" width="7.30" height="7.62" fill="#3c6380" stroke="none" stroke-width="1" />
<rect x="352.80" y="38.03" width="7.30" height="7.62" fill="#3f5080" stroke="none" stroke-width="1" />
<rect x="360.10" y="38.03" width="7.30" height="7.62" fill="#3a7d82" stroke="none" stroke-width="1" />
<rect x="396.60" y="38.03" width="7.30" height="7.62" fill="#3f5080" stroke="none" stroke-width="1" />
<rect x="535.30" y="38.03" width="7.30" height="7.62" fill="#45326e" stroke="none" stroke-width="1" />
<rect x="652.10" y="38.03" width="7.30" height="7.62" fill="#45326e" stroke="none" stroke-width="1" />
<rect x="309.00" y="45.65" width="7.30" height="7.62" fill="#3c6380" stroke="none" stroke-width="1" />
<rect x="330.90" y="45.65" width="7.30" height="7.62" fill="#5c9a7e" stroke="none" stroke-width="1" />
<rect x="338.20" y="45.65" width="7.30" height="7.62" fill="#45326e" stroke="none" stroke-width="1" />
<rect x="345.50" y="45.65" width="7.30" height="7.62" fill="#3f5080" stroke="none" stroke-width="1" />
<rect x="352.80" y="45.65" width="7.30" height="7.62" fill="#3c6380" stroke="none" stroke-width="1" />
<rect x="360.10" y="45.65" width="7.30" height="7.62" fill="#3a7d82" stroke="none" stroke-width="1" />
<rect x="374.70" y="45.65" width="7.30" height="7.62" fill="#45326e" stroke="none" stroke-width="1" />
<rect x="403.90" y="45.65" width="7.30" height="7.62" fill="#3c6380" stroke="none" stroke-width="1" />
<rect x="506.10" y="45.65" width="7.30" height="7.62" fill="#3c2558" stroke="none" stroke-width="1" />
<rect x="557.20" y="45.65" width="7.30" height="7.62" fill="#45326e" stroke="none" stroke-width="1" />
<rect x="338.20" y="53.27" width="7.30" height="7.62" fill="#45326e" stroke="none" stroke-width="1" />
<rect x="345.50" y="53.27" width="7.30" height="7.62" fill="#45326e" stroke="none" stroke-width="1" />
<rect x="352.80" y="53.27" width="7.30" height="7.62" fill="#3f5080" stroke="none" stroke-width="1" />
<rect x="360.10" y="53.27" width="7.30" height="7.62" fill="#3c6380" stroke="none" stroke-width="1" />
<rect x="389.30" y="53.27" width="7.30" height="7.62" fill="#45326e" stroke="none" stroke-width="1" />
<rect x="425.80" y="53.27" width="7.30" height="7.62" fill="#3a7d82" stroke="none" stroke-width="1" />
<rect x="433.10" y="53.27" width="7.30" height="7.62" fill="#80ad6a" stroke="none" stroke-width="1" />
<rect x="309.00" y="60.89" width="7.30" height="7.62" fill="#3a7d82" stroke="none" stroke-width="1" />
<rect x="330.90" y="60.89" width="7.30" height="7.62" fill="#5c9a7e" stroke="none" stroke-width="1" />
<rect x="352.80" y="60.89" width="7.30" height="7.62" fill="#3c2558" stroke="none" stroke-width="1" />
<rect x="360.10" y="60.89" width="7.30" height="7.62" fill="#3a7d82" stroke="none" stroke-width="1" />
<rect x="557.20" y="60.89" width="7.30" height="7.62" fill="#3c6380" stroke="none" stroke-width="1" />
<rect x="652.10" y="60.89" width="7.30" height="7.62" fill="#3c2558" stroke="none" stroke-width="1" />
<rect x="309.00" y="68.50" width="7.30" height="7.62" fill="#3c6380" stroke="none" stroke-width="1" />
<rect x="316.30" y="68.50" width="7.30" height="7.62" fill="#3a7d82" stroke="none" stroke-width="1" />
<rect x="330.90" y="68.50" width="7.30" height="7.62" fill="#80ad6a" stroke="none" stroke-width="1" />
<rect x="345.50" y="68.50" width="7.30" height="7.62" fill="#3a7d82" stroke="none" stroke-width="1" />
<rect x="352.80" y="68.50" width="7.30" height="7.62" fill="#45326e" stroke="none" stroke-width="1" />
<rect x="360.10" y="68.50" width="7.30" height="7.62" fill="#3c6380" stroke="none" stroke-width="1" />
<rect x="367.40" y="68.50" width="7.30" height="7.62" fill="#45326e" stroke="none" stroke-width="1" />
<rect x="396.60" y="68.50" width="7.30" height="7.62" fill="#3f5080" stroke="none" stroke-width="1" />
<rect x="403.90" y="68.50" width="7.30" height="7.62" fill="#3a7d82" stroke="none" stroke-width="1" />
<rect x="425.80" y="68.50" width="7.30" height="7.62" fill="#3f5080" stroke="none" stroke-width="1" />
<rect x="447.70" y="68.50" width="7.30" height="7.62" fill="#3c6380" stroke="none" stroke-width="1" />
<rect x="498.80" y="68.50" width="7.30" height="7.62" fill="#3c6380" stroke="none" stroke-width="1" />
<rect x="557.20" y="68.50" width="7.30" height="7.62" fill="#45326e" stroke="none" stroke-width="1" />
<rect x="586.40" y="68.50" width="7.30" height="7.62" fill="#45326e" stroke="none" stroke-width="1" />
<rect x="601.00" y="68.50" width="7.30" height="7.62" fill="#3c6380" stroke="none" stroke-width="1" />
<rect x="608.30" y="68.50" width="7.30" height="7.62" fill="#3f5080" stroke="none" stroke-width="1" />
<rect x="659.40" y="68.50" width="7.30" height="7.62" fill="#3c2558" stroke="none" stroke-width="1" />
<rect x="674.00" y="68.50" width="7.30" height="7.62" fill="#3c2558" stroke="none" stroke-width="1" />
<rect x="309.00" y="76.12" width="7.30" height="7.62" fill="#3c6380" stroke="none" stroke-width="1" />
<rect x="323.60" y="76.12" width="7.30" height="7.62" fill="#3a7d82" stroke="none" stroke-width="1" />
<rect x="330.90" y="76.12" width="7.30" height="7.62" fill="#3c6380" stroke="none" stroke-width="1" />
<rect x="338.20" y="76.12" width="7.30" height="7.62" fill="#3a7d82" stroke="none" stroke-width="1" />
<rect x="345.50" y="76.12" width="7.30" height="7.62" fill="#3f5080" stroke="none" stroke-width="1" />
<rect x="352.80" y="76.12" width="7.30" height="7.62" fill="#3c6380" stroke="none" stroke-width="1" />
<rect x="360.10" y="76.12" width="7.30" height="7.62" fill="#5c9a7e" stroke="none" stroke-width="1" />
<rect x="367.40" y="76.12" width="7.30" height="7.62" fill="#3a7d82" stroke="none" stroke-width="1" />
<rect x="374.70" y="76.12" width="7.30" height="7.62" fill="#3a7d82" stroke="none" stroke-width="1" />
<rect x="382.00" y="76.12" width="7.30" height="7.62" fill="#3a7d82" stroke="none" stroke-width="1" />
<rect x="389.30" y="76.12" width="7.30" height="7.62" fill="#3f5080" stroke="none" stroke-width="1" />
<rect x="396.60" y="76.12" width="7.30" height="7.62" fill="#5c9a7e" stroke="none" stroke-width="1" />
<rect x="418.50" y="76.12" width="7.30" height="7.62" fill="#5c9a7e" stroke="none" stroke-width="1" />
<rect x="425.80" y="76.12" width="7.30" height="7.62" fill="#3c6380" stroke="none" stroke-width="1" />
<rect x="440.40" y="76.12" width="7.30" height="7.62" fill="#3a7d82" stroke="none" stroke-width="1" />
<rect x="462.30" y="76.12" width="7.30" height="7.62" fill="#3a7d82" stroke="none" stroke-width="1" />
<rect x="484.20" y="76.12" width="7.30" height="7.62" fill="#3c2558" stroke="none" stroke-width="1" />
<rect x="491.50" y="76.12" width="7.30" height="7.62" fill="#3c2558" stroke="none" stroke-width="1" />
<rect x="498.80" y="76.12" width="7.30" height="7.62" fill="#3f5080" stroke="none" stroke-width="1" />
<rect x="557.20" y="76.12" width="7.30" height="7.62" fill="#3c6380" stroke="none" stroke-width="1" />
<rect x="601.00" y="76.12" width="7.30" height="7.62" fill="#45326e" stroke="none" stroke-width="1" />
<rect x="659.40" y="76.12" width="7.30" height="7.62" fill="#45326e" stroke="none" stroke-width="1" />
<rect x="309.00" y="83.74" width="7.30" height="7.62" fill="#3c6380" stroke="none" stroke-width="1" />
<rect x="330.90" y="83.74" width="7.30" height="7.62" fill="#3c6380" stroke="none" stroke-width="1" />
<rect x="338.20" y="83.74" width="7.30" height="7.62" fill="#5c9a7e" stroke="none" stroke-width="1" />
<rect x="345.50" y="83.74" width="7.30" height="7.62" fill="#3f5080" stroke="none" stroke-width="1" />
<rect x="352.80" y="83.74" width="7.30" height="7.62" fill="#3c6380" stroke="none" stroke-width="1" />
<rect x="360.10" y="83.74" width="7.30" height="7.62" fill="#3c6380" stroke="none" stroke-width="1" />
<rect x="367.40" y="83.74" width="7.30" height="7.62" fill="#3a7d82" stroke="none" stroke-width="1" />
<rect x="374.70" y="83.74" width="7.30" height="7.62" fill="#3c2558" stroke="none" stroke-width="1" />
<rect x="382.00" y="83.74" width="7.30" height="7.62" fill="#3f5080" stroke="none" stroke-width="1" />
<rect x="396.60" y="83.74" width="7.30" height="7.62" fill="#3a7d82" stroke="none" stroke-width="1" />
<rect x="425.80" y="83.74" width="7.30" height="7.62" fill="#45326e" stroke="none" stroke-width="1" />
<rect x="440.40" y="83.74" width="7.30" height="7.62" fill="#3f5080" stroke="none" stroke-width="1" />
<rect x="462.30" y="83.74" width="7.30" height="7.62" fill="#3c6380" stroke="none" stroke-width="1" />
<rect x="535.30" y="83.74" width="7.30" height="7.62" fill="#3a7d82" stroke="none" stroke-width="1" />
<rect x="601.00" y="83.74" width="7.30" height="7.62" fill="#45326e" stroke="none" stroke-width="1" />
<rect x="637.50" y="83.74" width="7.30" height="7.62" fill="#3c2558" stroke="none" stroke-width="1" />
<rect x="652.10" y="83.74" width="7.30" height="7.62" fill="#3c2558" stroke="none" stroke-width="1" />
<rect x="309.00" y="91.35" width="7.30" height="7.62" fill="#45326e" stroke="none" stroke-width="1" />
<rect x="316.30" y="91.35" width="7.30" height="7.62" fill="#3c6380" stroke="none" stroke-width="1" />
<rect x="323.60" y="91.35" width="7.30" height="7.62" fill="#3a7d82" stroke="none" stroke-width="1" />
<rect x="330.90" y="91.35" width="7.30" height="7.62" fill="#3a7d82" stroke="none" stroke-width="1" />
<rect x="338.20" y="91.35" width="7.30" height="7.62" fill="#5c9a7e" stroke="none" stroke-width="1" />
<rect x="345.50" y="91.35" width="7.30" height="7.62" fill="#3f5080" stroke="none" stroke-width="1" />
<rect x="352.80" y="91.35" width="7.30" height="7.62" fill="#45326e" stroke="none" stroke-width="1" />
<rect x="360.10" y="91.35" width="7.30" height="7.62" fill="#3a7d82" stroke="none" stroke-width="1" />
<rect x="367.40" y="91.35" width="7.30" height="7.62" fill="#3f5080" stroke="none" stroke-width="1" />
<rect x="396.60" y="91.35" width="7.30" height="7.62" fill="#3c6380" stroke="none" stroke-width="1" />
<rect x="411.20" y="91.35" width="7.30" height="7.62" fill="#3c2558" stroke="none" stroke-width="1" />
<rect x="440.40" y="91.35" width="7.30" height="7.62" fill="#3c2558" stroke="none" stroke-width="1" />
<rect x="447.70" y="91.35" width="7.30" height="7.62" fill="#3f5080" stroke="none" stroke-width="1" />
<rect x="535.30" y="91.35" width="7.30" height="7.62" fill="#45326e" stroke="none" stroke-width="1" />
<rect x="674.00" y="91.35" width="7.30" height="7.62" fill="#45326e" stroke="none" stroke-width="1" />
<rect x="316.30" y="98.97" width="7.30" height="7.62" fill="#3c6380" stroke="none" stroke-width="1" />
<rect x="330.90" y="98.97" width="7.30" height="7.62" fill="#3a7d82" stroke="none" stroke-width="1" />
<rect x="338.20" y="98.97" width="7.30" height="7.62" fill="#3a7d82" stroke="none" stroke-width="1" />
<rect x="345.50" y="98.97" width="7.30" height="7.62" fill="#3c2558" stroke="none" stroke-width="1" />
<rect x="352.80" y="98.97" width="7.30" height="7.62" fill="#3f5080" stroke="none" stroke-width="1" />
<rect x="360.10" y="98.97" width="7.30" height="7.62" fill="#3c6380" stroke="none" stroke-width="1" />
<rect x="389.30" y="98.97" width="7.30" height="7.62" fill="#3c6380" stroke="none" stroke-width="1" />
<rect x="403.90" y="98.97" width="7.30" height="7.62" fill="#3f5080" stroke="none" stroke-width="1" />
<rect x="411.20" y="98.97" width="7.30" height="7.62" fill="#45326e" stroke="none" stroke-width="1" />
<rect x="418.50" y="98.97" width="7.30" height="7.62" fill="#3f5080" stroke="none" stroke-width="1" />
<rect x="462.30" y="98.97" width="7.30" height="7.62" fill="#3a7d82" stroke="none" stroke-width="1" />
<rect x="579.10" y="98.97" width="7.30" height="7.62" fill="#45326e" stroke="none" stroke-width="1" />
<rect x="309.00" y="106.59" width="7.30" height="7.62" fill="#3c6380" stroke="none" stroke-width="1" />
<rect x="323.60" y="106.59" width="7.30" height="7.62" fill="#3a7d82" stroke="none" stroke-width="1" />
<rect x="345.50" y="106.59" width="7.30" height="7.62" fill="#3a7d82" stroke="none" stroke-width="1" />
<rect x="352.80" y="106.59" width="7.30" height="7.62" fill="#3f5080" stroke="none" stroke-width="1" />
<rect x="382.00" y="106.59" width="7.30" height="7.62" fill="#3c6380" stroke="none" stroke-width="1" />
<rect x="309.00" y="114.20" width="7.30" height="7.62" fill="#3f5080" stroke="none" stroke-width="1" />
<rect x="316.30" y="114.20" width="7.30" height="7.62" fill="#3a7d82" stroke="none" stroke-width="1" />
<rect x="323.60" y="114.20" width="7.30" height="7.62" fill="#3a7d82" stroke="none" stroke-width="1" />
<rect x="330.90" y="114.20" width="7.30" height="7.62" fill="#3c6380" stroke="none" stroke-width="1" />
<rect x="338.20" y="114.20" width="7.30" height="7.62" fill="#3f5080" stroke="none" stroke-width="1" />
<rect x="345.50" y="114.20" width="7.30" height="7.62" fill="#3c6380" stroke="none" stroke-width="1" />
<rect x="352.80" y="114.20" width="7.30" height="7.62" fill="#3c6380" stroke="none" stroke-width="1" />
<rect x="360.10" y="114.20" width="7.30" height="7.62" fill="#45326e" stroke="none" stroke-width="1" />
<rect x="367.40" y="114.20" width="7.30" height="7.62" fill="#45326e" stroke="none" stroke-width="1" />
<rect x="389.30" y="114.20" width="7.30" height="7.62" fill="#45326e" stroke="none" stroke-width="1" />
<rect x="396.60" y="114.20" width="7.30" height="7.62" fill="#3a7d82" stroke="none" stroke-width="1" />
<rect x="403.90" y="114.20" width="7.30" height="7.62" fill="#3a7d82" stroke="none" stroke-width="1" />
<rect x="425.80" y="114.20" width="7.30" height="7.62" fill="#3c2558" stroke="none" stroke-width="1" />
<rect x="433.10" y="114.20" width="7.30" height="7.62" fill="#45326e" stroke="none" stroke-width="1" />
<rect x="484.20" y="114.20" width="7.30" height="7.62" fill="#3c2558" stroke="none" stroke-width="1" />
<rect x="557.20" y="114.20" width="7.30" height="7.62" fill="#3a7d82" stroke="none" stroke-width="1" />
<rect x="586.40" y="114.20" width="7.30" height="7.62" fill="#3c2558" stroke="none" stroke-width="1" />
<rect x="593.70" y="114.20" width="7.30" height="7.62" fill="#3f5080" stroke="none" stroke-width="1" />
<rect x="601.00" y="114.20" width="7.30" height="7.62" fill="#3f5080" stroke="none" stroke-width="1" />
<rect x="674.00" y="114.20" width="7.30" height="7.62" fill="#45326e" stroke="none" stroke-width="1" />
<rect x="309.00" y="121.82" width="7.30" height="7.62" fill="#3c6380" stroke="none" stroke-width="1" />
<rect x="316.30" y="121.82" width="7.30" height="7.62" fill="#3f5080" stroke="none" stroke-width="1" />
<rect x="330.90" y="121.82" width="7.30" height="7.62" fill="#5c9a7e" stroke="none" stroke-width="1" />
<rect x="345.50" y="121.82" width="7.30" height="7.62" fill="#3f5080" stroke="none" stroke-width="1" />
<rect x="352.80" y="121.82" width="7.30" height="7.62" fill="#3f5080" stroke="none" stroke-width="1" />
<rect x="360.10" y="121.82" width="7.30" height="7.62" fill="#3f5080" stroke="none" stroke-width="1" />
<rect x="367.40" y="121.82" width="7.30" height="7.62" fill="#3f5080" stroke="none" stroke-width="1" />
<rect x="382.00" y="121.82" width="7.30" height="7.62" fill="#3f5080" stroke="none" stroke-width="1" />
<rect x="389.30" y="121.82" width="7.30" height="7.62" fill="#3f5080" stroke="none" stroke-width="1" />
<rect x="396.60" y="121.82" width="7.30" height="7.62" fill="#3a7d82" stroke="none" stroke-width="1" />
<rect x="425.80" y="121.82" width="7.30" height="7.62" fill="#3c6380" stroke="none" stroke-width="1" />
<rect x="462.30" y="121.82" width="7.30" height="7.62" fill="#3c2558" stroke="none" stroke-width="1" />
<rect x="557.20" y="121.82" width="7.30" height="7.62" fill="#3c6380" stroke="none" stroke-width="1" />
<rect x="309.00" y="129.44" width="7.30" height="7.62" fill="#3f5080" stroke="none" stroke-width="1" />
<rect x="316.30" y="129.44" width="7.30" height="7.62" fill="#45326e" stroke="none" stroke-width="1" />
<rect x="338.20" y="129.44" width="7.30" height="7.62" fill="#3c6380" stroke="none" stroke-width="1" />
<rect x="352.80" y="129.44" width="7.30" height="7.62" fill="#3c6380" stroke="none" stroke-width="1" />
<rect x="382.00" y="129.44" width="7.30" height="7.62" fill="#45326e" stroke="none" stroke-width="1" />
<rect x="389.30" y="129.44" width="7.30" height="7.62" fill="#45326e" stroke="none" stroke-width="1" />
<rect x="396.60" y="129.44" width="7.30" height="7.62" fill="#3c6380" stroke="none" stroke-width="1" />
<rect x="433.10" y="129.44" width="7.30" height="7.62" fill="#3a7d82" stroke="none" stroke-width="1" />
<rect x="447.70" y="129.44" width="7.30" height="7.62" fill="#3c2558" stroke="none" stroke-width="1" />
<rect x="469.60" y="129.44" width="7.30" height="7.62" fill="#45326e" stroke="none" stroke-width="1" />
<rect x="564.50" y="129.44" width="7.30" height="7.62" fill="#45326e" stroke="none" stroke-width="1" />
<rect x="601.00" y="129.44" width="7.30" height="7.62" fill="#3c2558" stroke="none" stroke-width="1" />
<rect x="659.40" y="129.44" width="7.30" height="7.62" fill="#3f5080" stroke="none" stroke-width="1" />
<rect x="309.00" y="137.06" width="7.30" height="7.62" fill="#3f5080" stroke="none" stroke-width="1" />
<rect x="330.90" y="137.06" width="7.30" height="7.62" fill="#3c6380" stroke="none" stroke-width="1" />
<rect x="338.20" y="137.06" width="7.30" height="7.62" fill="#3a7d82" stroke="none" stroke-width="1" />
<rect x="345.50" y="137.06" width="7.30" height="7.62" fill="#3a7d82" stroke="none" stroke-width="1" />
<rect x="352.80" y="137.06" width="7.30" height="7.62" fill="#3c6380" stroke="none" stroke-width="1" />
<rect x="360.10" y="137.06" width="7.30" height="7.62" fill="#3c6380" stroke="none" stroke-width="1" />
<rect x="382.00" y="137.06" width="7.30" height="7.62" fill="#3f5080" stroke="none" stroke-width="1" />
<rect x="396.60" y="137.06" width="7.30" height="7.62" fill="#3a7d82" stroke="none" stroke-width="1" />
<rect x="403.90" y="137.06" width="7.30" height="7.62" fill="#3f5080" stroke="none" stroke-width="1" />
<rect x="462.30" y="137.06" width="7.30" height="7.62" fill="#45326e" stroke="none" stroke-width="1" />
<rect x="484.20" y="137.06" width="7.30" height="7.62" fill="#3f5080" stroke="none" stroke-width="1" />
<rect x="535.30" y="137.06" width="7.30" height="7.62" fill="#45326e" stroke="none" stroke-width="1" />
<rect x="557.20" y="137.06" width="7.30" height="7.62" fill="#3c6380" stroke="none" stroke-width="1" />
<rect x="608.30" y="137.06" width="7.30" height="7.62" fill="#3c2558" stroke="none" stroke-width="1" />
<rect x="615.60" y="137.06" width="7.30" height="7.62" fill="#3c2558" stroke="none" stroke-width="1" />
<rect x="338.20" y="144.67" width="7.30" height="7.62" fill="#3a7d82" stroke="none" stroke-width="1" />
<rect x="352.80" y="144.67" width="7.30" height="7.62" fill="#3c6380" stroke="none" stroke-width="1" />
<rect x="360.10" y="144.67" width="7.30" height="7.62" fill="#3f5080" stroke="none" stroke-width="1" />
<rect x="374.70" y="144.67" width="7.30" height="7.62" fill="#3c2558" stroke="none" stroke-width="1" />
<rect x="652.10" y="144.67" width="7.30" height="7.62" fill="#3c2558" stroke="none" stroke-width="1" />
<rect x="309.00" y="152.29" width="7.30" height="7.62" fill="#3a7d82" stroke="none" stroke-width="1" />
<rect x="352.80" y="152.29" width="7.30" height="7.62" fill="#3c6380" stroke="none" stroke-width="1" />
<rect x="396.60" y="152.29" width="7.30" height="7.62" fill="#45326e" stroke="none" stroke-width="1" />
<rect x="498.80" y="152.29" width="7.30" height="7.62" fill="#3c2558" stroke="none" stroke-width="1" />
<rect x="542.60" y="152.29" width="7.30" height="7.62" fill="#3f5080" stroke="none" stroke-width="1" />
<rect x="309.00" y="159.91" width="7.30" height="7.62" fill="#3c6380" stroke="none" stroke-width="1" />
<rect x="352.80" y="159.91" width="7.30" height="7.62" fill="#3c6380" stroke="none" stroke-width="1" />
<rect x="360.10" y="159.91" width="7.30" height="7.62" fill="#3f5080" stroke="none" stroke-width="1" />
<rect x="389.30" y="159.91" width="7.30" height="7.62" fill="#3a7d82" stroke="none" stroke-width="1" />
<rect x="462.30" y="159.91" width="7.30" height="7.62" fill="#3c2558" stroke="none" stroke-width="1" />
<rect x="659.40" y="159.91" width="7.30" height="7.62" fill="#3f5080" stroke="none" stroke-width="1" />
<rect x="309.00" y="167.52" width="7.30" height="7.62" fill="#3f5080" stroke="none" stroke-width="1" />
<rect x="338.20" y="167.52" width="7.30" height="7.62" fill="#3a7d82" stroke="none" stroke-width="1" />
<rect x="345.50" y="167.52" width="7.30" height="7.62" fill="#3f5080" stroke="none" stroke-width="1" />
<rect x="352.80" y="167.52" width="7.30" height="7.62" fill="#3c6380" stroke="none" stroke-width="1" />
<rect x="360.10" y="167.52" width="7.30" height="7.62" fill="#3f5080" stroke="none" stroke-width="1" />
<rect x="374.70" y="167.52" width="7.30" height="7.62" fill="#45326e" stroke="none" stroke-width="1" />
<rect x="382.00" y="167.52" width="7.30" height="7.62" fill="#3c2558" stroke="none" stroke-width="1" />
<rect x="389.30" y="167.52" width="7.30" height="7.62" fill="#3c6380" stroke="none" stroke-width="1" />
<rect x="396.60" y="167.52" width="7.30" height="7.62" fill="#45326e" stroke="none" stroke-width="1" />
<rect x="411.20" y="167.52" width="7.30" height="7.62" fill="#45326e" stroke="none" stroke-width="1" />
<rect x="425.80" y="167.52" width="7.30" height="7.62" fill="#3f5080" stroke="none" stroke-width="1" />
<rect x="455.00" y="167.52" width="7.30" height="7.62" fill="#3a7d82" stroke="none" stroke-width="1" />
<rect x="462.30" y="167.52" width="7.30" height="7.62" fill="#45326e" stroke="none" stroke-width="1" />
<rect x="506.10" y="167.52" width="7.30" height="7.62" fill="#3c2558" stroke="none" stroke-width="1" />
<rect x="579.10" y="167.52" width="7.30" height="7.62" fill="#3f5080" stroke="none" stroke-width="1" />
<rect x="316.30" y="175.14" width="7.30" height="7.62" fill="#3c2558" stroke="none" stroke-width="1" />
<rect x="330.90" y="175.14" width="7.30" height="7.62" fill="#3a7d82" stroke="none" stroke-width="1" />
<rect x="338.20" y="175.14" width="7.30" height="7.62" fill="#3c6380" stroke="none" stroke-width="1" />
<rect x="345.50" y="175.14" width="7.30" height="7.62" fill="#3f5080" stroke="none" stroke-width="1" />
<rect x="360.10" y="175.14" width="7.30" height="7.62" fill="#3f5080" stroke="none" stroke-width="1" />
<rect x="367.40" y="175.14" width="7.30" height="7.62" fill="#3a7d82" stroke="none" stroke-width="1" />
<rect x="396.60" y="175.14" width="7.30" height="7.62" fill="#45326e" stroke="none" stroke-width="1" />
<rect x="440.40" y="175.14" width="7.30" height="7.62" fill="#3c2558" stroke="none" stroke-width="1" />
<rect x="535.30" y="175.14" width="7.30" height="7.62" fill="#45326e" stroke="none" stroke-width="1" />
<rect x="593.70" y="175.14" width="7.30" height="7.62" fill="#45326e" stroke="none" stroke-width="1" />
<rect x="601.00" y="175.14" width="7.30" height="7.62" fill="#45326e" stroke="none" stroke-width="1" />
<rect x="615.60" y="175.14" width="7.30" height="7.62" fill="#3c6380" stroke="none" stroke-width="1" />
<rect x="309.00" y="182.76" width="7.30" height="7.62" fill="#5c9a7e" stroke="none" stroke-width="1" />
<rect x="316.30" y="182.76" width="7.30" height="7.62" fill="#3a7d82" stroke="none" stroke-width="1" />
<rect x="330.90" y="182.76" width="7.30" height="7.62" fill="#3a7d82" stroke="none" stroke-width="1" />
<rect x="338.20" y="182.76" width="7.30" height="7.62" fill="#80ad6a" stroke="none" stroke-width="1" />
<rect x="345.50" y="182.76" width="7.30" height="7.62" fill="#3a7d82" stroke="none" stroke-width="1" />
<rect x="352.80" y="182.76" width="7.30" height="7.62" fill="#3c6380" stroke="none" stroke-width="1" />
<rect x="360.10" y="182.76" width="7.30" height="7.62" fill="#5c9a7e" stroke="none" stroke-width="1" />
<rect x="367.40" y="182.76" width="7.30" height="7.62" fill="#5c9a7e" stroke="none" stroke-width="1" />
<rect x="374.70" y="182.76" width="7.30" height="7.62" fill="#3c6380" stroke="none" stroke-width="1" />
<rect x="382.00" y="182.76" width="7.30" height="7.62" fill="#3c6380" stroke="none" stroke-width="1" />
<rect x="389.30" y="182.76" width="7.30" height="7.62" fill="#3c6380" stroke="none" stroke-width="1" />
<rect x="396.60" y="182.76" width="7.30" height="7.62" fill="#3c2558" stroke="none" stroke-width="1" />
<rect x="411.20" y="182.76" width="7.30" height="7.62" fill="#3f5080" stroke="none" stroke-width="1" />
<rect x="462.30" y="182.76" width="7.30" height="7.62" fill="#45326e" stroke="none" stroke-width="1" />
<rect x="491.50" y="182.76" width="7.30" height="7.62" fill="#3c2558" stroke="none" stroke-width="1" />
<rect x="535.30" y="182.76" width="7.30" height="7.62" fill="#45326e" stroke="none" stroke-width="1" />
<rect x="564.50" y="182.76" width="7.30" height="7.62" fill="#3c2558" stroke="none" stroke-width="1" />
<rect x="601.00" y="182.76" width="7.30" height="7.62" fill="#3a7d82" stroke="none" stroke-width="1" />
<rect x="652.10" y="182.76" width="7.30" height="7.62" fill="#3c2558" stroke="none" stroke-width="1" />
<rect x="309.00" y="190.37" width="7.30" height="7.62" fill="#3c6380" stroke="none" stroke-width="1" />
<rect x="330.90" y="190.37" width="7.30" height="7.62" fill="#45326e" stroke="none" stroke-width="1" />
<rect x="338.20" y="190.37" width="7.30" height="7.62" fill="#abbf52" stroke="none" stroke-width="1" />
<rect x="345.50" y="190.37" width="7.30" height="7.62" fill="#3c6380" stroke="none" stroke-width="1" />
<rect x="352.80" y="190.37" width="7.30" height="7.62" fill="#3a7d82" stroke="none" stroke-width="1" />
<rect x="360.10" y="190.37" width="7.30" height="7.62" fill="#5c9a7e" stroke="none" stroke-width="1" />
<rect x="367.40" y="190.37" width="7.30" height="7.62" fill="#3c2558" stroke="none" stroke-width="1" />
<rect x="382.00" y="190.37" width="7.30" height="7.62" fill="#3c6380" stroke="none" stroke-width="1" />
<rect x="389.30" y="190.37" width="7.30" height="7.62" fill="#3c6380" stroke="none" stroke-width="1" />
<rect x="440.40" y="190.37" width="7.30" height="7.62" fill="#45326e" stroke="none" stroke-width="1" />
<rect x="447.70" y="190.37" width="7.30" height="7.62" fill="#3c6380" stroke="none" stroke-width="1" />
<rect x="462.30" y="190.37" width="7.30" height="7.62" fill="#45326e" stroke="none" stroke-width="1" />
<rect x="476.90" y="190.37" width="7.30" height="7.62" fill="#3c6380" stroke="none" stroke-width="1" />
<rect x="491.50" y="190.37" width="7.30" height="7.62" fill="#3c6380" stroke="none" stroke-width="1" />
<rect x="498.80" y="190.37" width="7.30" height="7.62" fill="#3c6380" stroke="none" stroke-width="1" />
<rect x="528.00" y="190.37" width="7.30" height="7.62" fill="#45326e" stroke="none" stroke-width="1" />
<rect x="535.30" y="190.37" width="7.30" height="7.62" fill="#3c2558" stroke="none" stroke-width="1" />
<rect x="615.60" y="190.37" width="7.30" height="7.62" fill="#3c6380" stroke="none" stroke-width="1" />
<rect x="659.40" y="190.37" width="7.30" height="7.62" fill="#45326e" stroke="none" stroke-width="1" />
<rect x="309.00" y="197.99" width="7.30" height="7.62" fill="#3a7d82" stroke="none" stroke-width="1" />
<rect x="330.90" y="197.99" width="7.30" height="7.62" fill="#45326e" stroke="none" stroke-width="1" />
<rect x="338.20" y="197.99" width="7.30" height="7.62" fill="#abbf52" stroke="none" stroke-width="1" />
<rect x="345.50" y="197.99" width="7.30" height="7.62" fill="#3c6380" stroke="none" stroke-width="1" />
<rect x="352.80" y="197.99" width="7.30" height="7.62" fill="#3c6380" stroke="none" stroke-width="1" />
<rect x="360.10" y="197.99" width="7.30" height="7.62" fill="#3a7d82" stroke="none" stroke-width="1" />
<rect x="374.70" y="197.99" width="7.30" height="7.62" fill="#3f5080" stroke="none" stroke-width="1" />
<rect x="396.60" y="197.99" width="7.30" height="7.62" fill="#3c2558" stroke="none" stroke-width="1" />
<rect x="447.70" y="197.99" width="7.30" height="7.62" fill="#3a7d82" stroke="none" stroke-width="1" />
<rect x="455.00" y="197.99" width="7.30" height="7.62" fill="#45326e" stroke="none" stroke-width="1" />
<rect x="462.30" y="197.99" width="7.30" height="7.62" fill="#45326e" stroke="none" stroke-width="1" />
<rect x="476.90" y="197.99" width="7.30" height="7.62" fill="#3c2558" stroke="none" stroke-width="1" />
<rect x="535.30" y="197.99" width="7.30" height="7.62" fill="#45326e" stroke="none" stroke-width="1" />
<rect x="586.40" y="197.99" width="7.30" height="7.62" fill="#3c2558" stroke="none" stroke-width="1" />
<rect x="601.00" y="197.99" width="7.30" height="7.62" fill="#3f5080" stroke="none" stroke-width="1" />
<rect x="608.30" y="197.99" width="7.30" height="7.62" fill="#45326e" stroke="none" stroke-width="1" />
<rect x="652.10" y="197.99" width="7.30" height="7.62" fill="#3c2558" stroke="none" stroke-width="1" />
<rect x="659.40" y="197.99" width="7.30" height="7.62" fill="#45326e" stroke="none" stroke-width="1" />
<rect x="323.60" y="205.61" width="7.30" height="7.62" fill="#5c9a7e" stroke="none" stroke-width="1" />
<rect x="330.90" y="205.61" width="7.30" height="7.62" fill="#5c9a7e" stroke="none" stroke-width="1" />
<rect x="338.20" y="205.61" width="7.30" height="7.62" fill="#45326e" stroke="none" stroke-width="1" />
<rect x="345.50" y="205.61" width="7.30" height="7.62" fill="#3c6380" stroke="none" stroke-width="1" />
<rect x="352.80" y="205.61" width="7.30" height="7.62" fill="#3c6380" stroke="none" stroke-width="1" />
<rect x="360.10" y="205.61" width="7.30" height="7.62" fill="#3c2558" stroke="none" stroke-width="1" />
<rect x="396.60" y="205.61" width="7.30" height="7.62" fill="#3c2558" stroke="none" stroke-width="1" />
<rect x="403.90" y="205.61" width="7.30" height="7.62" fill="#3a7d82" stroke="none" stroke-width="1" />
<rect x="425.80" y="205.61" width="7.30" height="7.62" fill="#3f5080" stroke="none" stroke-width="1" />
<rect x="440.40" y="205.61" width="7.30" height="7.62" fill="#3a7d82" stroke="none" stroke-width="1" />
<rect x="520.70" y="205.61" width="7.30" height="7.62" fill="#3c2558" stroke="none" stroke-width="1" />
<rect x="528.00" y="205.61" width="7.30" height="7.62" fill="#45326e" stroke="none" stroke-width="1" />
<rect x="535.30" y="205.61" width="7.30" height="7.62" fill="#3c2558" stroke="none" stroke-width="1" />
<rect x="557.20" y="205.61" width="7.30" height="7.62" fill="#3c2558" stroke="none" stroke-width="1" />
<rect x="571.80" y="205.61" width="7.30" height="7.62" fill="#3c6380" stroke="none" stroke-width="1" />
<rect x="615.60" y="205.61" width="7.30" height="7.62" fill="#45326e" stroke="none" stroke-width="1" />
<rect x="637.50" y="205.61" width="7.30" height="7.62" fill="#45326e" stroke="none" stroke-width="1" />
<rect x="309.00" y="213.23" width="7.30" height="7.62" fill="#45326e" stroke="none" stroke-width="1" />
<rect x="316.30" y="213.23" width="7.30" height="7.62" fill="#3c2558" stroke="none" stroke-width="1" />
<rect x="330.90" y="213.23" width="7.30" height="7.62" fill="#3a7d82" stroke="none" stroke-width="1" />
<rect x="338.20" y="213.23" width="7.30" height="7.62" fill="#3c6380" stroke="none" stroke-width="1" />
<rect x="360.10" y="213.23" width="7.30" height="7.62" fill="#3c2558" stroke="none" stroke-width="1" />
<rect x="374.70" y="213.23" width="7.30" height="7.62" fill="#3c6380" stroke="none" stroke-width="1" />
<rect x="403.90" y="213.23" width="7.30" height="7.62" fill="#3c6380" stroke="none" stroke-width="1" />
<rect x="440.40" y="213.23" width="7.30" height="7.62" fill="#3a7d82" stroke="none" stroke-width="1" />
<rect x="498.80" y="213.23" width="7.30" height="7.62" fill="#3c6380" stroke="none" stroke-width="1" />
<rect x="309.00" y="220.84" width="7.30" height="7.62" fill="#3f5080" stroke="none" stroke-width="1" />
<rect x="338.20" y="220.84" width="7.30" height="7.62" fill="#3a7d82" stroke="none" stroke-width="1" />
<rect x="345.50" y="220.84" width="7.30" height="7.62" fill="#5c9a7e" stroke="none" stroke-width="1" />
<rect x="352.80" y="220.84" width="7.30" height="7.62" fill="#5c9a7e" stroke="none" stroke-width="1" />
<rect x="360.10" y="220.84" width="7.30" height="7.62" fill="#45326e" stroke="none" stroke-width="1" />
<rect x="367.40" y="220.84" width="7.30" height="7.62" fill="#3c6380" stroke="none" stroke-width="1" />
<rect x="389.30" y="220.84" width="7.30" height="7.62" fill="#3c6380" stroke="none" stroke-width="1" />
<rect x="440.40" y="220.84" width="7.30" height="7.62" fill="#3a7d82" stroke="none" stroke-width="1" />
<rect x="455.00" y="220.84" width="7.30" height="7.62" fill="#3a7d82" stroke="none" stroke-width="1" />
<rect x="462.30" y="220.84" width="7.30" height="7.62" fill="#3a7d82" stroke="none" stroke-width="1" />
<rect x="491.50" y="220.84" width="7.30" height="7.62" fill="#45326e" stroke="none" stroke-width="1" />
<rect x="498.80" y="220.84" width="7.30" height="7.62" fill="#45326e" stroke="none" stroke-width="1" />
<rect x="601.00" y="220.84" width="7.30" height="7.62" fill="#3c2558" stroke="none" stroke-width="1" />
<rect x="637.50" y="220.84" width="7.30" height="7.62" fill="#3f5080" stroke="none" stroke-width="1" />
<rect x="659.40" y="220.84" width="7.30" height="7.62" fill="#3f5080" stroke="none" stroke-width="1" />
<rect x="674.00" y="220.84" width="7.30" height="7.62" fill="#3f5080" stroke="none" stroke-width="1" />
<rect x="316.30" y="228.46" width="7.30" height="7.62" fill="#3a7d82" stroke="none" stroke-width="1" />
<rect x="330.90" y="228.46" width="7.30" height="7.62" fill="#45326e" stroke="none" stroke-width="1" />
<rect x="338.20" y="228.46" width="7.30" height="7.62" fill="#5c9a7e" stroke="none" stroke-width="1" />
<rect x="345.50" y="228.46" width="7.30" height="7.62" fill="#3c6380" stroke="none" stroke-width="1" />
<rect x="352.80" y="228.46" width="7.30" height="7.62" fill="#3a7d82" stroke="none" stroke-width="1" />
<rect x="360.10" y="228.46" width="7.30" height="7.62" fill="#3c2558" stroke="none" stroke-width="1" />
<rect x="382.00" y="228.46" width="7.30" height="7.62" fill="#5c9a7e" stroke="none" stroke-width="1" />
<rect x="396.60" y="228.46" width="7.30" height="7.62" fill="#3f5080" stroke="none" stroke-width="1" />
<rect x="403.90" y="228.46" width="7.30" height="7.62" fill="#3f5080" stroke="none" stroke-width="1" />
<rect x="425.80" y="228.46" width="7.30" height="7.62" fill="#3c6380" stroke="none" stroke-width="1" />
<rect x="433.10" y="228.46" width="7.30" height="7.62" fill="#3c6380" stroke="none" stroke-width="1" />
<rect x="542.60" y="228.46" width="7.30" height="7.62" fill="#3c6380" stroke="none" stroke-width="1" />
<rect x="601.00" y="228.46" width="7.30" height="7.62" fill="#45326e" stroke="none" stroke-width="1" />
<rect x="652.10" y="228.46" width="7.30" height="7.62" fill="#3f5080" stroke="none" stroke-width="1" />
<rect x="338.20" y="236.08" width="7.30" height="7.62" fill="#5c9a7e" stroke="none" stroke-width="1" />
<rect x="352.80" y="236.08" width="7.30" height="7.62" fill="#5c9a7e" stroke="none" stroke-width="1" />
<rect x="360.10" y="236.08" width="7.30" height="7.62" fill="#3c2558" stroke="none" stroke-width="1" />
<rect x="374.70" y="236.08" width="7.30" height="7.62" fill="#3c6380" stroke="none" stroke-width="1" />
<rect x="389.30" y="236.08" width="7.30" height="7.62" fill="#3f5080" stroke="none" stroke-width="1" />
<rect x="396.60" y="236.08" width="7.30" height="7.62" fill="#45326e" stroke="none" stroke-width="1" />
<rect x="462.30" y="236.08" width="7.30" height="7.62" fill="#45326e" stroke="none" stroke-width="1" />
<rect x="484.20" y="236.08" width="7.30" height="7.62" fill="#3c2558" stroke="none" stroke-width="1" />
<rect x="498.80" y="236.08" width="7.30" height="7.62" fill="#5c9a7e" stroke="none" stroke-width="1" />
<rect x="652.10" y="236.08" width="7.30" height="7.62" fill="#3c6380" stroke="none" stroke-width="1" />
<rect x="659.40" y="236.08" width="7.30" height="7.62" fill="#45326e" stroke="none" stroke-width="1" />
<rect x="309.00" y="243.69" width="7.30" height="7.62" fill="#3c6380" stroke="none" stroke-width="1" />
<rect x="316.30" y="243.69" width="7.30" height="7.62" fill="#3c6380" stroke="none" stroke-width="1" />
<rect x="323.60" y="243.69" width="7.30" height="7.62" fill="#3c6380" stroke="none" stroke-width="1" />
<rect x="330.90" y="243.69" width="7.30" height="7.62" fill="#3a7d82" stroke="none" stroke-width="1" />
<rect x="338.20" y="243.69" width="7.30" height="7.62" fill="#5c9a7e" stroke="none" stroke-width="1" />
<rect x="345.50" y="243.69" width="7.30" height="7.62" fill="#3a7d82" stroke="none" stroke-width="1" />
<rect x="352.80" y="243.69" width="7.30" height="7.62" fill="#3c6380" stroke="none" stroke-width="1" />
<rect x="360.10" y="243.69" width="7.30" height="7.62" fill="#3c2558" stroke="none" stroke-width="1" />
<rect x="396.60" y="243.69" width="7.30" height="7.62" fill="#3c6380" stroke="none" stroke-width="1" />
<rect x="403.90" y="243.69" width="7.30" height="7.62" fill="#3c6380" stroke="none" stroke-width="1" />
<rect x="425.80" y="243.69" width="7.30" height="7.62" fill="#3c6380" stroke="none" stroke-width="1" />
<rect x="557.20" y="243.69" width="7.30" height="7.62" fill="#3f5080" stroke="none" stroke-width="1" />
<rect x="586.40" y="243.69" width="7.30" height="7.62" fill="#3c2558" stroke="none" stroke-width="1" />
<rect x="593.70" y="243.69" width="7.30" height="7.62" fill="#45326e" stroke="none" stroke-width="1" />
<rect x="601.00" y="243.69" width="7.30" height="7.62" fill="#3c2558" stroke="none" stroke-width="1" />
<rect x="309.00" y="251.31" width="7.30" height="7.62" fill="#3c6380" stroke="none" stroke-width="1" />
<rect x="316.30" y="251.31" width="7.30" height="7.62" fill="#3c6380" stroke="none" stroke-width="1" />
<rect x="323.60" y="251.31" width="7.30" height="7.62" fill="#5c9a7e" stroke="none" stroke-width="1" />
<rect x="330.90" y="251.31" width="7.30" height="7.62" fill="#3a7d82" stroke="none" stroke-width="1" />
<rect x="338.20" y="251.31" width="7.30" height="7.62" fill="#80ad6a" stroke="none" stroke-width="1" />
<rect x="345.50" y="251.31" width="7.30" height="7.62" fill="#3c6380" stroke="none" stroke-width="1" />
<rect x="352.80" y="251.31" width="7.30" height="7.62" fill="#5c9a7e" stroke="none" stroke-width="1" />
<rect x="360.10" y="251.31" width="7.30" height="7.62" fill="#45326e" stroke="none" stroke-width="1" />
<rect x="374.70" y="251.31" width="7.30" height="7.62" fill="#3a7d82" stroke="none" stroke-width="1" />
<rect x="382.00" y="251.31" width="7.30" height="7.62" fill="#3f5080" stroke="none" stroke-width="1" />
<rect x="396.60" y="251.31" width="7.30" height="7.62" fill="#3c6380" stroke="none" stroke-width="1" />
<rect x="403.90" y="251.31" width="7.30" height="7.62" fill="#3a7d82" stroke="none" stroke-width="1" />
<rect x="433.10" y="251.31" width="7.30" height="7.62" fill="#3a7d82" stroke="none" stroke-width="1" />
<rect x="440.40" y="251.31" width="7.30" height="7.62" fill="#3c2558" stroke="none" stroke-width="1" />
<rect x="447.70" y="251.31" width="7.30" height="7.62" fill="#3f5080" stroke="none" stroke-width="1" />
<rect x="462.30" y="251.31" width="7.30" height="7.62" fill="#3f5080" stroke="none" stroke-width="1" />
<rect x="484.20" y="251.31" width="7.30" height="7.62" fill="#45326e" stroke="none" stroke-width="1" />
<rect x="491.50" y="251.31" width="7.30" height="7.62" fill="#3c6380" stroke="none" stroke-width="1" />
<rect x="498.80" y="251.31" width="7.30" height="7.62" fill="#3f5080" stroke="none" stroke-width="1" />
<rect x="535.30" y="251.31" width="7.30" height="7.62" fill="#3c2558" stroke="none" stroke-width="1" />
<rect x="542.60" y="251.31" width="7.30" height="7.62" fill="#45326e" stroke="none" stroke-width="1" />
<rect x="601.00" y="251.31" width="7.30" height="7.62" fill="#3f5080" stroke="none" stroke-width="1" />
<rect x="615.60" y="251.31" width="7.30" height="7.62" fill="#3f5080" stroke="none" stroke-width="1" />
<rect x="652.10" y="251.31" width="7.30" height="7.62" fill="#3c2558" stroke="none" stroke-width="1" />
<rect x="659.40" y="251.31" width="7.30" height="7.62" fill="#45326e" stroke="none" stroke-width="1" />
<rect x="309.00" y="258.93" width="7.30" height="7.62" fill="#45326e" stroke="none" stroke-width="1" />
<rect x="316.30" y="258.93" width="7.30" height="7.62" fill="#3f5080" stroke="none" stroke-width="1" />
<rect x="330.90" y="258.93" width="7.30" height="7.62" fill="#3a7d82" stroke="none" stroke-width="1" />
<rect x="338.20" y="258.93" width="7.30" height="7.62" fill="#3c6380" stroke="none" stroke-width="1" />
<rect x="352.80" y="258.93" width="7.30" height="7.62" fill="#5c9a7e" stroke="none" stroke-width="1" />
<rect x="360.10" y="258.93" width="7.30" height="7.62" fill="#3f5080" stroke="none" stroke-width="1" />
<rect x="367.40" y="258.93" width="7.30" height="7.62" fill="#3f5080" stroke="none" stroke-width="1" />
<rect x="389.30" y="258.93" width="7.30" height="7.62" fill="#3c2558" stroke="none" stroke-width="1" />
<rect x="396.60" y="258.93" width="7.30" height="7.62" fill="#3f5080" stroke="none" stroke-width="1" />
<rect x="403.90" y="258.93" width="7.30" height="7.62" fill="#3c2558" stroke="none" stroke-width="1" />
<rect x="491.50" y="258.93" width="7.30" height="7.62" fill="#45326e" stroke="none" stroke-width="1" />
<rect x="498.80" y="258.93" width="7.30" height="7.62" fill="#3c6380" stroke="none" stroke-width="1" />
<rect x="506.10" y="258.93" width="7.30" height="7.62" fill="#3c2558" stroke="none" stroke-width="1" />
<rect x="637.50" y="258.93" width="7.30" height="7.62" fill="#45326e" stroke="none" stroke-width="1" />
<rect x="652.10" y="258.93" width="7.30" height="7.62" fill="#45326e" stroke="none" stroke-width="1" />
<rect x="309.00" y="266.54" width="7.30" height="7.62" fill="#3f5080" stroke="none" stroke-width="1" />
<rect x="338.20" y="266.54" width="7.30" height="7.62" fill="#3a7d82" stroke="none" stroke-width="1" />
<rect x="345.50" y="266.54" width="7.30" height="7.62" fill="#3f5080" stroke="none" stroke-width="1" />
<rect x="360.10" y="266.54" width="7.30" height="7.62" fill="#3c6380" stroke="none" stroke-width="1" />
<rect x="367.40" y="266.54" width="7.30" height="7.62" fill="#45326e" stroke="none" stroke-width="1" />
<rect x="579.10" y="266.54" width="7.30" height="7.62" fill="#3c2558" stroke="none" stroke-width="1" />
<rect x="309.00" y="274.16" width="7.30" height="7.62" fill="#3c6380" stroke="none" stroke-width="1" />
<rect x="316.30" y="274.16" width="7.30" height="7.62" fill="#3c2558" stroke="none" stroke-width="1" />
<rect x="330.90" y="274.16" width="7.30" height="7.62" fill="#5c9a7e" stroke="none" stroke-width="1" />
<rect x="338.20" y="274.16" width="7.30" height="7.62" fill="#5c9a7e" stroke="none" stroke-width="1" />
<rect x="352.80" y="274.16" width="7.30" height="7.62" fill="#5c9a7e" stroke="none" stroke-width="1" />
<rect x="360.10" y="274.16" width="7.30" height="7.62" fill="#3a7d82" stroke="none" stroke-width="1" />
<rect x="374.70" y="274.16" width="7.30" height="7.62" fill="#3c6380" stroke="none" stroke-width="1" />
<rect x="382.00" y="274.16" width="7.30" height="7.62" fill="#3f5080" stroke="none" stroke-width="1" />
<rect x="389.30" y="274.16" width="7.30" height="7.62" fill="#3f5080" stroke="none" stroke-width="1" />
<rect x="396.60" y="274.16" width="7.30" height="7.62" fill="#3c2558" stroke="none" stroke-width="1" />
<rect x="455.00" y="274.16" width="7.30" height="7.62" fill="#3a7d82" stroke="none" stroke-width="1" />
<rect x="498.80" y="274.16" width="7.30" height="7.62" fill="#3a7d82" stroke="none" stroke-width="1" />
<rect x="506.10" y="274.16" width="7.30" height="7.62" fill="#3c2558" stroke="none" stroke-width="1" />
<rect x="659.40" y="274.16" width="7.30" height="7.62" fill="#45326e" stroke="none" stroke-width="1" />
<rect x="309.00" y="281.78" width="7.30" height="7.62" fill="#3c2558" stroke="none" stroke-width="1" />
<rect x="338.20" y="281.78" width="7.30" height="7.62" fill="#5c9a7e" stroke="none" stroke-width="1" />
<rect x="345.50" y="281.78" width="7.30" height="7.62" fill="#3f5080" stroke="none" stroke-width="1" />
<rect x="352.80" y="281.78" width="7.30" height="7.62" fill="#3a7d82" stroke="none" stroke-width="1" />
<rect x="360.10" y="281.78" width="7.30" height="7.62" fill="#3a7d82" stroke="none" stroke-width="1" />
<rect x="367.40" y="281.78" width="7.30" height="7.62" fill="#3c6380" stroke="none" stroke-width="1" />
<rect x="374.70" y="281.78" width="7.30" height="7.62" fill="#3f5080" stroke="none" stroke-width="1" />
<rect x="396.60" y="281.78" width="7.30" height="7.62" fill="#45326e" stroke="none" stroke-width="1" />
<rect x="425.80" y="281.78" width="7.30" height="7.62" fill="#45326e" stroke="none" stroke-width="1" />
<rect x="462.30" y="281.78" width="7.30" height="7.62" fill="#45326e" stroke="none" stroke-width="1" />
<rect x="484.20" y="281.78" width="7.30" height="7.62" fill="#45326e" stroke="none" stroke-width="1" />
<rect x="491.50" y="281.78" width="7.30" height="7.62" fill="#3c2558" stroke="none" stroke-width="1" />
<rect x="309.00" y="289.40" width="7.30" height="7.62" fill="#3a7d82" stroke="none" stroke-width="1" />
<rect x="316.30" y="289.40" width="7.30" height="7.62" fill="#3a7d82" stroke="none" stroke-width="1" />
<rect x="330.90" y="289.40" width="7.30" height="7.62" fill="#80ad6a" stroke="none" stroke-width="1" />
<rect x="338.20" y="289.40" width="7.30" height="7.62" fill="#80ad6a" stroke="none" stroke-width="1" />
<rect x="345.50" y="289.40" width="7.30" height="7.62" fill="#3c6380" stroke="none" stroke-width="1" />
<rect x="352.80" y="289.40" width="7.30" height="7.62" fill="#5c9a7e" stroke="none" stroke-width="1" />
<rect x="360.10" y="289.40" width="7.30" height="7.62" fill="#3a7d82" stroke="none" stroke-width="1" />
<rect x="367.40" y="289.40" width="7.30" height="7.62" fill="#3f5080" stroke="none" stroke-width="1" />
<rect x="374.70" y="289.40" width="7.30" height="7.62" fill="#3a7d82" stroke="none" stroke-width="1" />
<rect x="382.00" y="289.40" width="7.30" height="7.62" fill="#3c6380" stroke="none" stroke-width="1" />
<rect x="389.30" y="289.40" width="7.30" height="7.62" fill="#3c6380" stroke="none" stroke-width="1" />
<rect x="396.60" y="289.40" width="7.30" height="7.62" fill="#3a7d82" stroke="none" stroke-width="1" />
<rect x="403.90" y="289.40" width="7.30" height="7.62" fill="#3c6380" stroke="none" stroke-width="1" />
<rect x="433.10" y="289.40" width="7.30" height="7.62" fill="#3c6380" stroke="none" stroke-width="1" />
<rect x="440.40" y="289.40" width="7.30" height="7.62" fill="#3f5080" stroke="none" stroke-width="1" />
<rect x="447.70" y="289.40" width="7.30" height="7.62" fill="#3c6380" stroke="none" stroke-width="1" />
<rect x="462.30" y="289.40" width="7.30" height="7.62" fill="#3c6380" stroke="none" stroke-width="1" />
<rect x="476.90" y="289.40" width="7.30" height="7.62" fill="#3f5080" stroke="none" stroke-width="1" />
<rect x="491.50" y="289.40" width="7.30" height="7.62" fill="#45326e" stroke="none" stroke-width="1" />
<rect x="498.80" y="289.40" width="7.30" height="7.62" fill="#3a7d82" stroke="none" stroke-width="1" />
<rect x="506.10" y="289.40" width="7.30" height="7.62" fill="#45326e" stroke="none" stroke-width="1" />
<rect x="528.00" y="289.40" width="7.30" height="7.62" fill="#45326e" stroke="none" stroke-width="1" />
<rect x="535.30" y="289.40" width="7.30" height="7.62" fill="#45326e" stroke="none" stroke-width="1" />
<rect x="542.60" y="289.40" width="7.30" height="7.62" fill="#3f5080" stroke="none" stroke-width="1" />
<rect x="557.20" y="289.40" width="7.30" height="7.62" fill="#45326e" stroke="none" stroke-width="1" />
<rect x="564.50" y="289.40" width="7.30" height="7.62" fill="#3c2558" stroke="none" stroke-width="1" />
<rect x="571.80" y="289.40" width="7.30" height="7.62" fill="#3c6380" stroke="none" stroke-width="1" />
<rect x="586.40" y="289.40" width="7.30" height="7.62" fill="#3f5080" stroke="none" stroke-width="1" />
<rect x="601.00" y="289.40" width="7.30" height="7.62" fill="#45326e" stroke="none" stroke-width="1" />
<rect x="615.60" y="289.40" width="7.30" height="7.62" fill="#45326e" stroke="none" stroke-width="1" />
<rect x="637.50" y="289.40" width="7.30" height="7.62" fill="#3f5080" stroke="none" stroke-width="1" />
<rect x="652.10" y="289.40" width="7.30" height="7.62" fill="#3c6380" stroke="none" stroke-width="1" />
<rect x="659.40" y="289.40" width="7.30" height="7.62" fill="#3f5080" stroke="none" stroke-width="1" />
<rect x="666.70" y="289.40" width="7.30" height="7.62" fill="#3f5080" stroke="none" stroke-width="1" />
<rect x="674.00" y="289.40" width="7.30" height="7.62" fill="#3f5080" stroke="none" stroke-width="1" />
<rect x="309.00" y="297.01" width="7.30" height="7.62" fill="#3c6380" stroke="none" stroke-width="1" />
<rect x="316.30" y="297.01" width="7.30" height="7.62" fill="#3c6380" stroke="none" stroke-width="1" />
<rect x="330.90" y="297.01" width="7.30" height="7.62" fill="#80ad6a" stroke="none" stroke-width="1" />
<rect x="338.20" y="297.01" width="7.30" height="7.62" fill="#5c9a7e" stroke="none" stroke-width="1" />
<rect x="345.50" y="297.01" width="7.30" height="7.62" fill="#3a7d82" stroke="none" stroke-width="1" />
<rect x="352.80" y="297.01" width="7.30" height="7.62" fill="#abbf52" stroke="none" stroke-width="1" />
<rect x="360.10" y="297.01" width="7.30" height="7.62" fill="#3c6380" stroke="none" stroke-width="1" />
<rect x="367.40" y="297.01" width="7.30" height="7.62" fill="#3f5080" stroke="none" stroke-width="1" />
<rect x="374.70" y="297.01" width="7.30" height="7.62" fill="#3c6380" stroke="none" stroke-width="1" />
<rect x="382.00" y="297.01" width="7.30" height="7.62" fill="#3c6380" stroke="none" stroke-width="1" />
<rect x="389.30" y="297.01" width="7.30" height="7.62" fill="#3f5080" stroke="none" stroke-width="1" />
<rect x="396.60" y="297.01" width="7.30" height="7.62" fill="#3c6380" stroke="none" stroke-width="1" />
<rect x="440.40" y="297.01" width="7.30" height="7.62" fill="#3c6380" stroke="none" stroke-width="1" />
<rect x="462.30" y="297.01" width="7.30" height="7.62" fill="#5c9a7e" stroke="none" stroke-width="1" />
<rect x="498.80" y="297.01" width="7.30" height="7.62" fill="#5c9a7e" stroke="none" stroke-width="1" />
<rect x="506.10" y="297.01" width="7.30" height="7.62" fill="#45326e" stroke="none" stroke-width="1" />
<rect x="564.50" y="297.01" width="7.30" height="7.62" fill="#45326e" stroke="none" stroke-width="1" />
<rect x="601.00" y="297.01" width="7.30" height="7.62" fill="#45326e" stroke="none" stroke-width="1" />
<rect x="652.10" y="297.01" width="7.30" height="7.62" fill="#45326e" stroke="none" stroke-width="1" />
<rect x="659.40" y="297.01" width="7.30" height="7.62" fill="#3c6380" stroke="none" stroke-width="1" />
<rect x="338.20" y="304.63" width="7.30" height="7.62" fill="#80ad6a" stroke="none" stroke-width="1" />
<rect x="345.50" y="304.63" width="7.30" height="7.62" fill="#3a7d82" stroke="none" stroke-width="1" />
<rect x="352.80" y="304.63" width="7.30" height="7.62" fill="#3c6380" stroke="none" stroke-width="1" />
<rect x="360.10" y="304.63" width="7.30" height="7.62" fill="#3a7d82" stroke="none" stroke-width="1" />
<rect x="367.40" y="304.63" width="7.30" height="7.62" fill="#3a7d82" stroke="none" stroke-width="1" />
<rect x="382.00" y="304.63" width="7.30" height="7.62" fill="#3a7d82" stroke="none" stroke-width="1" />
<rect x="389.30" y="304.63" width="7.30" height="7.62" fill="#3a7d82" stroke="none" stroke-width="1" />
<rect x="396.60" y="304.63" width="7.30" height="7.62" fill="#3c6380" stroke="none" stroke-width="1" />
<rect x="418.50" y="304.63" width="7.30" height="7.62" fill="#3c6380" stroke="none" stroke-width="1" />
<rect x="440.40" y="304.63" width="7.30" height="7.62" fill="#3a7d82" stroke="none" stroke-width="1" />
<rect x="462.30" y="304.63" width="7.30" height="7.62" fill="#3f5080" stroke="none" stroke-width="1" />
<rect x="484.20" y="304.63" width="7.30" height="7.62" fill="#3a7d82" stroke="none" stroke-width="1" />
<rect x="535.30" y="304.63" width="7.30" height="7.62" fill="#3f5080" stroke="none" stroke-width="1" />
<rect x="601.00" y="304.63" width="7.30" height="7.62" fill="#45326e" stroke="none" stroke-width="1" />
<rect x="608.30" y="304.63" width="7.30" height="7.62" fill="#3a7d82" stroke="none" stroke-width="1" />
<rect x="309.00" y="312.25" width="7.30" height="7.62" fill="#3c6380" stroke="none" stroke-width="1" />
<rect x="316.30" y="312.25" width="7.30" height="7.62" fill="#3f5080" stroke="none" stroke-width="1" />
<rect x="323.60" y="312.25" width="7.30" height="7.62" fill="#5c9a7e" stroke="none" stroke-width="1" />
<rect x="330.90" y="312.25" width="7.30" height="7.62" fill="#80ad6a" stroke="none" stroke-width="1" />
<rect x="338.20" y="312.25" width="7.30" height="7.62" fill="#abbf52" stroke="none" stroke-width="1" />
<rect x="345.50" y="312.25" width="7.30" height="7.62" fill="#3a7d82" stroke="none" stroke-width="1" />
<rect x="352.80" y="312.25" width="7.30" height="7.62" fill="#5c9a7e" stroke="none" stroke-width="1" />
<rect x="360.10" y="312.25" width="7.30" height="7.62" fill="#3a7d82" stroke="none" stroke-width="1" />
<rect x="367.40" y="312.25" width="7.30" height="7.62" fill="#3a7d82" stroke="none" stroke-width="1" />
<rect x="382.00" y="312.25" width="7.30" height="7.62" fill="#3c6380" stroke="none" stroke-width="1" />
<rect x="389.30" y="312.25" width="7.30" height="7.62" fill="#45326e" stroke="none" stroke-width="1" />
<rect x="396.60" y="312.25" width="7.30" height="7.62" fill="#3c6380" stroke="none" stroke-width="1" />
<rect x="403.90" y="312.25" width="7.30" height="7.62" fill="#3f5080" stroke="none" stroke-width="1" />
<rect x="418.50" y="312.25" width="7.30" height="7.62" fill="#45326e" stroke="none" stroke-width="1" />
<rect x="425.80" y="312.25" width="7.30" height="7.62" fill="#3c6380" stroke="none" stroke-width="1" />
<rect x="433.10" y="312.25" width="7.30" height="7.62" fill="#3c6380" stroke="none" stroke-width="1" />
<rect x="440.40" y="312.25" width="7.30" height="7.62" fill="#3a7d82" stroke="none" stroke-width="1" />
<rect x="447.70" y="312.25" width="7.30" height="7.62" fill="#3a7d82" stroke="none" stroke-width="1" />
<rect x="462.30" y="312.25" width="7.30" height="7.62" fill="#3c6380" stroke="none" stroke-width="1" />
<rect x="476.90" y="312.25" width="7.30" height="7.62" fill="#45326e" stroke="none" stroke-width="1" />
<rect x="498.80" y="312.25" width="7.30" height="7.62" fill="#3c2558" stroke="none" stroke-width="1" />
<rect x="528.00" y="312.25" width="7.30" height="7.62" fill="#3a7d82" stroke="none" stroke-width="1" />
<rect x="535.30" y="312.25" width="7.30" height="7.62" fill="#5c9a7e" stroke="none" stroke-width="1" />
<rect x="542.60" y="312.25" width="7.30" height="7.62" fill="#3c2558" stroke="none" stroke-width="1" />
<rect x="557.20" y="312.25" width="7.30" height="7.62" fill="#3c6380" stroke="none" stroke-width="1" />
<rect x="564.50" y="312.25" width="7.30" height="7.62" fill="#45326e" stroke="none" stroke-width="1" />
<rect x="571.80" y="312.25" width="7.30" height="7.62" fill="#3f5080" stroke="none" stroke-width="1" />
<rect x="579.10" y="312.25" width="7.30" height="7.62" fill="#45326e" stroke="none" stroke-width="1" />
<rect x="586.40" y="312.25" width="7.30" height="7.62" fill="#45326e" stroke="none" stroke-width="1" />
<rect x="593.70" y="312.25" width="7.30" height="7.62" fill="#3f5080" stroke="none" stroke-width="1" />
<rect x="601.00" y="312.25" width="7.30" height="7.62" fill="#3f5080" stroke="none" stroke-width="1" />
<rect x="615.60" y="312.25" width="7.30" height="7.62" fill="#3c6380" stroke="none" stroke-width="1" />
<rect x="630.20" y="312.25" width="7.30" height="7.62" fill="#3f5080" stroke="none" stroke-width="1" />
<rect x="637.50" y="312.25" width="7.30" height="7.62" fill="#3f5080" stroke="none" stroke-width="1" />
<rect x="652.10" y="312.25" width="7.30" height="7.62" fill="#3f5080" stroke="none" stroke-width="1" />
<rect x="659.40" y="312.25" width="7.30" height="7.62" fill="#3f5080" stroke="none" stroke-width="1" />
<rect x="674.00" y="312.25" width="7.30" height="7.62" fill="#45326e" stroke="none" stroke-width="1" />
<rect x="309.00" y="319.86" width="7.30" height="7.62" fill="#3c6380" stroke="none" stroke-width="1" />
<rect x="316.30" y="319.86" width="7.30" height="7.62" fill="#3f5080" stroke="none" stroke-width="1" />
<rect x="323.60" y="319.86" width="7.30" height="7.62" fill="#3f5080" stroke="none" stroke-width="1" />
<rect x="330.90" y="319.86" width="7.30" height="7.62" fill="#80ad6a" stroke="none" stroke-width="1" />
<rect x="338.20" y="319.86" width="7.30" height="7.62" fill="#80ad6a" stroke="none" stroke-width="1" />
<rect x="345.50" y="319.86" width="7.30" height="7.62" fill="#3c6380" stroke="none" stroke-width="1" />
<rect x="352.80" y="319.86" width="7.30" height="7.62" fill="#3a7d82" stroke="none" stroke-width="1" />
<rect x="360.10" y="319.86" width="7.30" height="7.62" fill="#5c9a7e" stroke="none" stroke-width="1" />
<rect x="374.70" y="319.86" width="7.30" height="7.62" fill="#3c6380" stroke="none" stroke-width="1" />
<rect x="382.00" y="319.86" width="7.30" height="7.62" fill="#3c6380" stroke="none" stroke-width="1" />
<rect x="389.30" y="319.86" width="7.30" height="7.62" fill="#3c6380" stroke="none" stroke-width="1" />
<rect x="396.60" y="319.86" width="7.30" height="7.62" fill="#5c9a7e" stroke="none" stroke-width="1" />
<rect x="403.90" y="319.86" width="7.30" height="7.62" fill="#3a7d82" stroke="none" stroke-width="1" />
<rect x="425.80" y="319.86" width="7.30" height="7.62" fill="#3f5080" stroke="none" stroke-width="1" />
<rect x="440.40" y="319.86" width="7.30" height="7.62" fill="#5c9a7e" stroke="none" stroke-width="1" />
<rect x="462.30" y="319.86" width="7.30" height="7.62" fill="#3a7d82" stroke="none" stroke-width="1" />
<rect x="513.40" y="319.86" width="7.30" height="7.62" fill="#3f5080" stroke="none" stroke-width="1" />
<rect x="535.30" y="319.86" width="7.30" height="7.62" fill="#3c6380" stroke="none" stroke-width="1" />
<rect x="557.20" y="319.86" width="7.30" height="7.62" fill="#45326e" stroke="none" stroke-width="1" />
<rect x="586.40" y="319.86" width="7.30" height="7.62" fill="#3c6380" stroke="none" stroke-width="1" />
<rect x="601.00" y="319.86" width="7.30" height="7.62" fill="#3c6380" stroke="none" stroke-width="1" />
<rect x="615.60" y="319.86" width="7.30" height="7.62" fill="#3c6380" stroke="none" stroke-width="1" />
<rect x="630.20" y="319.86" width="7.30" height="7.62" fill="#3c6380" stroke="none" stroke-width="1" />
<rect x="637.50" y="319.86" width="7.30" height="7.62" fill="#3c6380" stroke="none" stroke-width="1" />
<rect x="652.10" y="319.86" width="7.30" height="7.62" fill="#45326e" stroke="none" stroke-width="1" />
<rect x="666.70" y="319.86" width="7.30" height="7.62" fill="#45326e" stroke="none" stroke-width="1" />
<rect x="309.00" y="327.48" width="7.30" height="7.62" fill="#3a7d82" stroke="none" stroke-width="1" />
<rect x="316.30" y="327.48" width="7.30" height="7.62" fill="#5c9a7e" stroke="none" stroke-width="1" />
<rect x="323.60" y="327.48" width="7.30" height="7.62" fill="#5c9a7e" stroke="none" stroke-width="1" />
<rect x="330.90" y="327.48" width="7.30" height="7.62" fill="#80ad6a" stroke="none" stroke-width="1" />
<rect x="338.20" y="327.48" width="7.30" height="7.62" fill="#80ad6a" stroke="none" stroke-width="1" />
<rect x="345.50" y="327.48" width="7.30" height="7.62" fill="#5c9a7e" stroke="none" stroke-width="1" />
<rect x="352.80" y="327.48" width="7.30" height="7.62" fill="#80ad6a" stroke="none" stroke-width="1" />
<rect x="360.10" y="327.48" width="7.30" height="7.62" fill="#3a7d82" stroke="none" stroke-width="1" />
<rect x="367.40" y="327.48" width="7.30" height="7.62" fill="#45326e" stroke="none" stroke-width="1" />
<rect x="374.70" y="327.48" width="7.30" height="7.62" fill="#3a7d82" stroke="none" stroke-width="1" />
<rect x="382.00" y="327.48" width="7.30" height="7.62" fill="#3c6380" stroke="none" stroke-width="1" />
<rect x="389.30" y="327.48" width="7.30" height="7.62" fill="#3f5080" stroke="none" stroke-width="1" />
<rect x="396.60" y="327.48" width="7.30" height="7.62" fill="#3a7d82" stroke="none" stroke-width="1" />
<rect x="403.90" y="327.48" width="7.30" height="7.62" fill="#3a7d82" stroke="none" stroke-width="1" />
<rect x="418.50" y="327.48" width="7.30" height="7.62" fill="#3c6380" stroke="none" stroke-width="1" />
<rect x="425.80" y="327.48" width="7.30" height="7.62" fill="#5c9a7e" stroke="none" stroke-width="1" />
<rect x="433.10" y="327.48" width="7.30" height="7.62" fill="#5c9a7e" stroke="none" stroke-width="1" />
<rect x="440.40" y="327.48" width="7.30" height="7.62" fill="#3c6380" stroke="none" stroke-width="1" />
<rect x="447.70" y="327.48" width="7.30" height="7.62" fill="#3c2558" stroke="none" stroke-width="1" />
<rect x="462.30" y="327.48" width="7.30" height="7.62" fill="#3c6380" stroke="none" stroke-width="1" />
<rect x="469.60" y="327.48" width="7.30" height="7.62" fill="#3c6380" stroke="none" stroke-width="1" />
<rect x="476.90" y="327.48" width="7.30" height="7.62" fill="#45326e" stroke="none" stroke-width="1" />
<rect x="491.50" y="327.48" width="7.30" height="7.62" fill="#3a7d82" stroke="none" stroke-width="1" />
<rect x="520.70" y="327.48" width="7.30" height="7.62" fill="#3f5080" stroke="none" stroke-width="1" />
<rect x="535.30" y="327.48" width="7.30" height="7.62" fill="#45326e" stroke="none" stroke-width="1" />
<rect x="557.20" y="327.48" width="7.30" height="7.62" fill="#5c9a7e" stroke="none" stroke-width="1" />
<rect x="601.00" y="327.48" width="7.30" height="7.62" fill="#3a7d82" stroke="none" stroke-width="1" />
<rect x="637.50" y="327.48" width="7.30" height="7.62" fill="#45326e" stroke="none" stroke-width="1" />
<rect x="652.10" y="327.48" width="7.30" height="7.62" fill="#45326e" stroke="none" stroke-width="1" />
<rect x="659.40" y="327.48" width="7.30" height="7.62" fill="#3f5080" stroke="none" stroke-width="1" />
<rect x="674.00" y="327.48" width="7.30" height="7.62" fill="#3f5080" stroke="none" stroke-width="1" />
<rect x="309.00" y="335.10" width="7.30" height="7.62" fill="#3a7d82" stroke="none" stroke-width="1" />
<rect x="316.30" y="335.10" width="7.30" height="7.62" fill="#80ad6a" stroke="none" stroke-width="1" />
<rect x="323.60" y="335.10" width="7.30" height="7.62" fill="#5c9a7e" stroke="none" stroke-width="1" />
<rect x="330.90" y="335.10" width="7.30" height="7.62" fill="#abbf52" stroke="none" stroke-width="1" />
<rect x="338.20" y="335.10" width="7.30" height="7.62" fill="#80ad6a" stroke="none" stroke-width="1" />
<rect x="345.50" y="335.10" width="7.30" height="7.62" fill="#80ad6a" stroke="none" stroke-width="1" />
<rect x="352.80" y="335.10" width="7.30" height="7.62" fill="#5c9a7e" stroke="none" stroke-width="1" />
<rect x="360.10" y="335.10" width="7.30" height="7.62" fill="#3a7d82" stroke="none" stroke-width="1" />
<rect x="367.40" y="335.10" width="7.30" height="7.62" fill="#3a7d82" stroke="none" stroke-width="1" />
<rect x="374.70" y="335.10" width="7.30" height="7.62" fill="#3c6380" stroke="none" stroke-width="1" />
<rect x="382.00" y="335.10" width="7.30" height="7.62" fill="#3a7d82" stroke="none" stroke-width="1" />
<rect x="389.30" y="335.10" width="7.30" height="7.62" fill="#3c6380" stroke="none" stroke-width="1" />
<rect x="396.60" y="335.10" width="7.30" height="7.62" fill="#3a7d82" stroke="none" stroke-width="1" />
<rect x="403.90" y="335.10" width="7.30" height="7.62" fill="#5c9a7e" stroke="none" stroke-width="1" />
<rect x="411.20" y="335.10" width="7.30" height="7.62" fill="#3a7d82" stroke="none" stroke-width="1" />
<rect x="425.80" y="335.10" width="7.30" height="7.62" fill="#5c9a7e" stroke="none" stroke-width="1" />
<rect x="433.10" y="335.10" width="7.30" height="7.62" fill="#3c6380" stroke="none" stroke-width="1" />
<rect x="440.40" y="335.10" width="7.30" height="7.62" fill="#3c2558" stroke="none" stroke-width="1" />
<rect x="447.70" y="335.10" width="7.30" height="7.62" fill="#3f5080" stroke="none" stroke-width="1" />
<rect x="462.30" y="335.10" width="7.30" height="7.62" fill="#3c2558" stroke="none" stroke-width="1" />
<rect x="469.60" y="335.10" width="7.30" height="7.62" fill="#3f5080" stroke="none" stroke-width="1" />
<rect x="484.20" y="335.10" width="7.30" height="7.62" fill="#3c2558" stroke="none" stroke-width="1" />
<rect x="491.50" y="335.10" width="7.30" height="7.62" fill="#3f5080" stroke="none" stroke-width="1" />
<rect x="498.80" y="335.10" width="7.30" height="7.62" fill="#3c2558" stroke="none" stroke-width="1" />
<rect x="535.30" y="335.10" width="7.30" height="7.62" fill="#3c6380" stroke="none" stroke-width="1" />
<rect x="542.60" y="335.10" width="7.30" height="7.62" fill="#45326e" stroke="none" stroke-width="1" />
<rect x="557.20" y="335.10" width="7.30" height="7.62" fill="#3c6380" stroke="none" stroke-width="1" />
<rect x="586.40" y="335.10" width="7.30" height="7.62" fill="#3a7d82" stroke="none" stroke-width="1" />
<rect x="601.00" y="335.10" width="7.30" height="7.62" fill="#3c6380" stroke="none" stroke-width="1" />
<rect x="608.30" y="335.10" width="7.30" height="7.62" fill="#3f5080" stroke="none" stroke-width="1" />
<rect x="615.60" y="335.10" width="7.30" height="7.62" fill="#3c6380" stroke="none" stroke-width="1" />
<rect x="630.20" y="335.10" width="7.30" height="7.62" fill="#3a7d82" stroke="none" stroke-width="1" />
<rect x="652.10" y="335.10" width="7.30" height="7.62" fill="#3f5080" stroke="none" stroke-width="1" />
<rect x="659.40" y="335.10" width="7.30" height="7.62" fill="#3f5080" stroke="none" stroke-width="1" />
<rect x="674.00" y="335.10" width="7.30" height="7.62" fill="#3f5080" stroke="none" stroke-width="1" />
<rect x="309.00" y="342.71" width="7.30" height="7.62" fill="#3c6380" stroke="none" stroke-width="1" />
<rect x="338.20" y="342.71" width="7.30" height="7.62" fill="#5c9a7e" stroke="none" stroke-width="1" />
<rect x="345.50" y="342.71" width="7.30" height="7.62" fill="#3c6380" stroke="none" stroke-width="1" />
<rect x="352.80" y="342.71" width="7.30" height="7.62" fill="#5c9a7e" stroke="none" stroke-width="1" />
<rect x="360.10" y="342.71" width="7.30" height="7.62" fill="#3a7d82" stroke="none" stroke-width="1" />
<rect x="374.70" y="342.71" width="7.30" height="7.62" fill="#3f5080" stroke="none" stroke-width="1" />
<rect x="389.30" y="342.71" width="7.30" height="7.62" fill="#3c6380" stroke="none" stroke-width="1" />
<rect x="396.60" y="342.71" width="7.30" height="7.62" fill="#3c6380" stroke="none" stroke-width="1" />
<rect x="440.40" y="342.71" width="7.30" height="7.62" fill="#3c6380" stroke="none" stroke-width="1" />
<rect x="462.30" y="342.71" width="7.30" height="7.62" fill="#3c6380" stroke="none" stroke-width="1" />
<rect x="498.80" y="342.71" width="7.30" height="7.62" fill="#3c2558" stroke="none" stroke-width="1" />
<rect x="542.60" y="342.71" width="7.30" height="7.62" fill="#3c6380" stroke="none" stroke-width="1" />
<rect x="608.30" y="342.71" width="7.30" height="7.62" fill="#45326e" stroke="none" stroke-width="1" />
<rect x="637.50" y="342.71" width="7.30" height="7.62" fill="#3c6380" stroke="none" stroke-width="1" />
<rect x="309.00" y="350.33" width="7.30" height="7.62" fill="#3c6380" stroke="none" stroke-width="1" />
<rect x="338.20" y="350.33" width="7.30" height="7.62" fill="#3a7d82" stroke="none" stroke-width="1" />
<rect x="352.80" y="350.33" width="7.30" height="7.62" fill="#5c9a7e" stroke="none" stroke-width="1" />
<rect x="360.10" y="350.33" width="7.30" height="7.62" fill="#3c6380" stroke="none" stroke-width="1" />
<rect x="382.00" y="350.33" width="7.30" height="7.62" fill="#3c2558" stroke="none" stroke-width="1" />
<rect x="491.50" y="350.33" width="7.30" height="7.62" fill="#3f5080" stroke="none" stroke-width="1" />
<rect x="557.20" y="350.33" width="7.30" height="7.62" fill="#3f5080" stroke="none" stroke-width="1" />
<rect x="309.00" y="357.95" width="7.30" height="7.62" fill="#3c6380" stroke="none" stroke-width="1" />
<rect x="316.30" y="357.95" width="7.30" height="7.62" fill="#3c6380" stroke="none" stroke-width="1" />
<rect x="330.90" y="357.95" width="7.30" height="7.62" fill="#5c9a7e" stroke="none" stroke-width="1" />
<rect x="338.20" y="357.95" width="7.30" height="7.62" fill="#5c9a7e" stroke="none" stroke-width="1" />
<rect x="345.50" y="357.95" width="7.30" height="7.62" fill="#3a7d82" stroke="none" stroke-width="1" />
<rect x="352.80" y="357.95" width="7.30" height="7.62" fill="#3a7d82" stroke="none" stroke-width="1" />
<rect x="360.10" y="357.95" width="7.30" height="7.62" fill="#3a7d82" stroke="none" stroke-width="1" />
<rect x="367.40" y="357.95" width="7.30" height="7.62" fill="#3f5080" stroke="none" stroke-width="1" />
<rect x="374.70" y="357.95" width="7.30" height="7.62" fill="#3f5080" stroke="none" stroke-width="1" />
<rect x="382.00" y="357.95" width="7.30" height="7.62" fill="#3f5080" stroke="none" stroke-width="1" />
<rect x="396.60" y="357.95" width="7.30" height="7.62" fill="#45326e" stroke="none" stroke-width="1" />
<rect x="403.90" y="357.95" width="7.30" height="7.62" fill="#3f5080" stroke="none" stroke-width="1" />
<rect x="411.20" y="357.95" width="7.30" height="7.62" fill="#3c6380" stroke="none" stroke-width="1" />
<rect x="425.80" y="357.95" width="7.30" height="7.62" fill="#3c6380" stroke="none" stroke-width="1" />
<rect x="440.40" y="357.95" width="7.30" height="7.62" fill="#3f5080" stroke="none" stroke-width="1" />
<rect x="462.30" y="357.95" width="7.30" height="7.62" fill="#3c6380" stroke="none" stroke-width="1" />
<rect x="469.60" y="357.95" width="7.30" height="7.62" fill="#3c2558" stroke="none" stroke-width="1" />
<rect x="498.80" y="357.95" width="7.30" height="7.62" fill="#3f5080" stroke="none" stroke-width="1" />
<rect x="615.60" y="357.95" width="7.30" height="7.62" fill="#45326e" stroke="none" stroke-width="1" />
<rect x="630.20" y="357.95" width="7.30" height="7.62" fill="#3f5080" stroke="none" stroke-width="1" />
<rect x="652.10" y="357.95" width="7.30" height="7.62" fill="#45326e" stroke="none" stroke-width="1" />
<rect x="309.00" y="365.56" width="7.30" height="7.62" fill="#3c6380" stroke="none" stroke-width="1" />
<rect x="316.30" y="365.56" width="7.30" height="7.62" fill="#3a7d82" stroke="none" stroke-width="1" />
<rect x="330.90" y="365.56" width="7.30" height="7.62" fill="#5c9a7e" stroke="none" stroke-width="1" />
<rect x="338.20" y="365.56" width="7.30" height="7.62" fill="#5c9a7e" stroke="none" stroke-width="1" />
<rect x="345.50" y="365.56" width="7.30" height="7.62" fill="#3a7d82" stroke="none" stroke-width="1" />
<rect x="352.80" y="365.56" width="7.30" height="7.62" fill="#3c6380" stroke="none" stroke-width="1" />
<rect x="360.10" y="365.56" width="7.30" height="7.62" fill="#3c6380" stroke="none" stroke-width="1" />
<rect x="389.30" y="365.56" width="7.30" height="7.62" fill="#3f5080" stroke="none" stroke-width="1" />
<rect x="396.60" y="365.56" width="7.30" height="7.62" fill="#45326e" stroke="none" stroke-width="1" />
<rect x="403.90" y="365.56" width="7.30" height="7.62" fill="#45326e" stroke="none" stroke-width="1" />
<rect x="447.70" y="365.56" width="7.30" height="7.62" fill="#3c2558" stroke="none" stroke-width="1" />
<rect x="535.30" y="365.56" width="7.30" height="7.62" fill="#45326e" stroke="none" stroke-width="1" />
<rect x="557.20" y="365.56" width="7.30" height="7.62" fill="#45326e" stroke="none" stroke-width="1" />
<rect x="608.30" y="365.56" width="7.30" height="7.62" fill="#3f5080" stroke="none" stroke-width="1" />
<rect x="666.70" y="365.56" width="7.30" height="7.62" fill="#3a7d82" stroke="none" stroke-width="1" />
<rect x="309.00" y="373.18" width="7.30" height="7.62" fill="#5c9a7e" stroke="none" stroke-width="1" />
<rect x="330.90" y="373.18" width="7.30" height="7.62" fill="#3a7d82" stroke="none" stroke-width="1" />
<rect x="338.20" y="373.18" width="7.30" height="7.62" fill="#3c6380" stroke="none" stroke-width="1" />
<rect x="345.50" y="373.18" width="7.30" height="7.62" fill="#5c9a7e" stroke="none" stroke-width="1" />
<rect x="352.80" y="373.18" width="7.30" height="7.62" fill="#3a7d82" stroke="none" stroke-width="1" />
<rect x="360.10" y="373.18" width="7.30" height="7.62" fill="#5c9a7e" stroke="none" stroke-width="1" />
<rect x="367.40" y="373.18" width="7.30" height="7.62" fill="#45326e" stroke="none" stroke-width="1" />
<rect x="382.00" y="373.18" width="7.30" height="7.62" fill="#3c6380" stroke="none" stroke-width="1" />
<rect x="396.60" y="373.18" width="7.30" height="7.62" fill="#3c6380" stroke="none" stroke-width="1" />
<rect x="425.80" y="373.18" width="7.30" height="7.62" fill="#3c6380" stroke="none" stroke-width="1" />
<rect x="433.10" y="373.18" width="7.30" height="7.62" fill="#3c6380" stroke="none" stroke-width="1" />
<rect x="440.40" y="373.18" width="7.30" height="7.62" fill="#3c6380" stroke="none" stroke-width="1" />
<rect x="447.70" y="373.18" width="7.30" height="7.62" fill="#3c6380" stroke="none" stroke-width="1" />
<rect x="462.30" y="373.18" width="7.30" height="7.62" fill="#45326e" stroke="none" stroke-width="1" />
<rect x="491.50" y="373.18" width="7.30" height="7.62" fill="#3f5080" stroke="none" stroke-width="1" />
<rect x="506.10" y="373.18" width="7.30" height="7.62" fill="#3c2558" stroke="none" stroke-width="1" />
<rect x="549.90" y="373.18" width="7.30" height="7.62" fill="#3c6380" stroke="none" stroke-width="1" />
<rect x="564.50" y="373.18" width="7.30" height="7.62" fill="#3f5080" stroke="none" stroke-width="1" />
<rect x="659.40" y="373.18" width="7.30" height="7.62" fill="#3c2558" stroke="none" stroke-width="1" />
<rect x="309.00" y="380.80" width="7.30" height="7.62" fill="#45326e" stroke="none" stroke-width="1" />
<rect x="330.90" y="380.80" width="7.30" height="7.62" fill="#80ad6a" stroke="none" stroke-width="1" />
<rect x="338.20" y="380.80" width="7.30" height="7.62" fill="#5c9a7e" stroke="none" stroke-width="1" />
<rect x="345.50" y="380.80" width="7.30" height="7.62" fill="#3a7d82" stroke="none" stroke-width="1" />
<rect x="352.80" y="380.80" width="7.30" height="7.62" fill="#3c6380" stroke="none" stroke-width="1" />
<rect x="360.10" y="380.80" width="7.30" height="7.62" fill="#3c6380" stroke="none" stroke-width="1" />
<rect x="367.40" y="380.80" width="7.30" height="7.62" fill="#3f5080" stroke="none" stroke-width="1" />
<rect x="382.00" y="380.80" width="7.30" height="7.62" fill="#45326e" stroke="none" stroke-width="1" />
<rect x="389.30" y="380.80" width="7.30" height="7.62" fill="#3c2558" stroke="none" stroke-width="1" />
<rect x="396.60" y="380.80" width="7.30" height="7.62" fill="#3c6380" stroke="none" stroke-width="1" />
<rect x="403.90" y="380.80" width="7.30" height="7.62" fill="#3c6380" stroke="none" stroke-width="1" />
<rect x="411.20" y="380.80" width="7.30" height="7.62" fill="#3c6380" stroke="none" stroke-width="1" />
<rect x="418.50" y="380.80" width="7.30" height="7.62" fill="#3a7d82" stroke="none" stroke-width="1" />
<rect x="425.80" y="380.80" width="7.30" height="7.62" fill="#3c6380" stroke="none" stroke-width="1" />
<rect x="433.10" y="380.80" width="7.30" height="7.62" fill="#3c6380" stroke="none" stroke-width="1" />
<rect x="440.40" y="380.80" width="7.30" height="7.62" fill="#5c9a7e" stroke="none" stroke-width="1" />
<rect x="462.30" y="380.80" width="7.30" height="7.62" fill="#45326e" stroke="none" stroke-width="1" />
<rect x="491.50" y="380.80" width="7.30" height="7.62" fill="#45326e" stroke="none" stroke-width="1" />
<rect x="498.80" y="380.80" width="7.30" height="7.62" fill="#3c2558" stroke="none" stroke-width="1" />
<rect x="506.10" y="380.80" width="7.30" height="7.62" fill="#3c2558" stroke="none" stroke-width="1" />
<rect x="557.20" y="380.80" width="7.30" height="7.62" fill="#3c6380" stroke="none" stroke-width="1" />
<rect x="652.10" y="380.80" width="7.30" height="7.62" fill="#45326e" stroke="none" stroke-width="1" />
<rect x="674.00" y="380.80" width="7.30" height="7.62" fill="#3f5080" stroke="none" stroke-width="1" />
<rect x="309.00" y="388.42" width="7.30" height="7.62" fill="#3c6380" stroke="none" stroke-width="1" />
<rect x="316.30" y="388.42" width="7.30" height="7.62" fill="#5c9a7e" stroke="none" stroke-width="1" />
<rect x="330.90" y="388.42" width="7.30" height="7.62" fill="#80ad6a" stroke="none" stroke-width="1" />
<rect x="338.20" y="388.42" width="7.30" height="7.62" fill="#5c9a7e" stroke="none" stroke-width="1" />
<rect x="345.50" y="388.42" width="7.30" height="7.62" fill="#5c9a7e" stroke="none" stroke-width="1" />
<rect x="352.80" y="388.42" width="7.30" height="7.62" fill="#3c6380" stroke="none" stroke-width="1" />
<rect x="360.10" y="388.42" width="7.30" height="7.62" fill="#3a7d82" stroke="none" stroke-width="1" />
<rect x="367.40" y="388.42" width="7.30" height="7.62" fill="#3f5080" stroke="none" stroke-width="1" />
<rect x="374.70" y="388.42" width="7.30" height="7.62" fill="#3c2558" stroke="none" stroke-width="1" />
<rect x="382.00" y="388.42" width="7.30" height="7.62" fill="#3c6380" stroke="none" stroke-width="1" />
<rect x="389.30" y="388.42" width="7.30" height="7.62" fill="#3f5080" stroke="none" stroke-width="1" />
<rect x="396.60" y="388.42" width="7.30" height="7.62" fill="#3c6380" stroke="none" stroke-width="1" />
<rect x="403.90" y="388.42" width="7.30" height="7.62" fill="#3a7d82" stroke="none" stroke-width="1" />
<rect x="411.20" y="388.42" width="7.30" height="7.62" fill="#3f5080" stroke="none" stroke-width="1" />
<rect x="425.80" y="388.42" width="7.30" height="7.62" fill="#3c6380" stroke="none" stroke-width="1" />
<rect x="440.40" y="388.42" width="7.30" height="7.62" fill="#3c6380" stroke="none" stroke-width="1" />
<rect x="447.70" y="388.42" width="7.30" height="7.62" fill="#3c2558" stroke="none" stroke-width="1" />
<rect x="462.30" y="388.42" width="7.30" height="7.62" fill="#3c2558" stroke="none" stroke-width="1" />
<rect x="476.90" y="388.42" width="7.30" height="7.62" fill="#3c2558" stroke="none" stroke-width="1" />
<rect x="484.20" y="388.42" width="7.30" height="7.62" fill="#3c2558" stroke="none" stroke-width="1" />
<rect x="491.50" y="388.42" width="7.30" height="7.62" fill="#3f5080" stroke="none" stroke-width="1" />
<rect x="498.80" y="388.42" width="7.30" height="7.62" fill="#3c2558" stroke="none" stroke-width="1" />
<rect x="535.30" y="388.42" width="7.30" height="7.62" fill="#45326e" stroke="none" stroke-width="1" />
<rect x="557.20" y="388.42" width="7.30" height="7.62" fill="#3f5080" stroke="none" stroke-width="1" />
<rect x="564.50" y="388.42" width="7.30" height="7.62" fill="#45326e" stroke="none" stroke-width="1" />
<rect x="601.00" y="388.42" width="7.30" height="7.62" fill="#3f5080" stroke="none" stroke-width="1" />
<rect x="630.20" y="388.42" width="7.30" height="7.62" fill="#45326e" stroke="none" stroke-width="1" />
<rect x="637.50" y="388.42" width="7.30" height="7.62" fill="#3c2558" stroke="none" stroke-width="1" />
<rect x="659.40" y="388.42" width="7.30" height="7.62" fill="#3c2558" stroke="none" stroke-width="1" />
<rect x="309.00" y="396.03" width="7.30" height="7.62" fill="#abbf52" stroke="none" stroke-width="1" />
<rect x="316.30" y="396.03" width="7.30" height="7.62" fill="#80ad6a" stroke="none" stroke-width="1" />
<rect x="323.60" y="396.03" width="7.30" height="7.62" fill="#80ad6a" stroke="none" stroke-width="1" />
<rect x="330.90" y="396.03" width="7.30" height="7.62" fill="#e2d83c" stroke="none" stroke-width="1" />
<rect x="338.20" y="396.03" width="7.30" height="7.62" fill="#e2d83c" stroke="none" stroke-width="1" />
<rect x="345.50" y="396.03" width="7.30" height="7.62" fill="#abbf52" stroke="none" stroke-width="1" />
<rect x="352.80" y="396.03" width="7.30" height="7.62" fill="#abbf52" stroke="none" stroke-width="1" />
<rect x="360.10" y="396.03" width="7.30" height="7.62" fill="#abbf52" stroke="none" stroke-width="1" />
<rect x="367.40" y="396.03" width="7.30" height="7.62" fill="#80ad6a" stroke="none" stroke-width="1" />
<rect x="374.70" y="396.03" width="7.30" height="7.62" fill="#80ad6a" stroke="none" stroke-width="1" />
<rect x="382.00" y="396.03" width="7.30" height="7.62" fill="#80ad6a" stroke="none" stroke-width="1" />
<rect x="389.30" y="396.03" width="7.30" height="7.62" fill="#5c9a7e" stroke="none" stroke-width="1" />
<rect x="396.60" y="396.03" width="7.30" height="7.62" fill="#80ad6a" stroke="none" stroke-width="1" />
<rect x="403.90" y="396.03" width="7.30" height="7.62" fill="#80ad6a" stroke="none" stroke-width="1" />
<rect x="411.20" y="396.03" width="7.30" height="7.62" fill="#80ad6a" stroke="none" stroke-width="1" />
<rect x="418.50" y="396.03" width="7.30" height="7.62" fill="#5c9a7e" stroke="none" stroke-width="1" />
<rect x="425.80" y="396.03" width="7.30" height="7.62" fill="#80ad6a" stroke="none" stroke-width="1" />
<rect x="433.10" y="396.03" width="7.30" height="7.62" fill="#5c9a7e" stroke="none" stroke-width="1" />
<rect x="440.40" y="396.03" width="7.30" height="7.62" fill="#abbf52" stroke="none" stroke-width="1" />
<rect x="447.70" y="396.03" width="7.30" height="7.62" fill="#5c9a7e" stroke="none" stroke-width="1" />
<rect x="455.00" y="396.03" width="7.30" height="7.62" fill="#80ad6a" stroke="none" stroke-width="1" />
<rect x="462.30" y="396.03" width="7.30" height="7.62" fill="#80ad6a" stroke="none" stroke-width="1" />
<rect x="469.60" y="396.03" width="7.30" height="7.62" fill="#45326e" stroke="none" stroke-width="1" />
<rect x="476.90" y="396.03" width="7.30" height="7.62" fill="#3a7d82" stroke="none" stroke-width="1" />
<rect x="484.20" y="396.03" width="7.30" height="7.62" fill="#5c9a7e" stroke="none" stroke-width="1" />
<rect x="491.50" y="396.03" width="7.30" height="7.62" fill="#3a7d82" stroke="none" stroke-width="1" />
<rect x="498.80" y="396.03" width="7.30" height="7.62" fill="#80ad6a" stroke="none" stroke-width="1" />
<rect x="506.10" y="396.03" width="7.30" height="7.62" fill="#3f5080" stroke="none" stroke-width="1" />
<rect x="513.40" y="396.03" width="7.30" height="7.62" fill="#3f5080" stroke="none" stroke-width="1" />
<rect x="520.70" y="396.03" width="7.30" height="7.62" fill="#3c6380" stroke="none" stroke-width="1" />
<rect x="528.00" y="396.03" width="7.30" height="7.62" fill="#3c6380" stroke="none" stroke-width="1" />
<rect x="535.30" y="396.03" width="7.30" height="7.62" fill="#3a7d82" stroke="none" stroke-width="1" />
<rect x="542.60" y="396.03" width="7.30" height="7.62" fill="#3c6380" stroke="none" stroke-width="1" />
<rect x="549.90" y="396.03" width="7.30" height="7.62" fill="#3c6380" stroke="none" stroke-width="1" />
<rect x="557.20" y="396.03" width="7.30" height="7.62" fill="#3a7d82" stroke="none" stroke-width="1" />
<rect x="564.50" y="396.03" width="7.30" height="7.62" fill="#3c6380" stroke="none" stroke-width="1" />
<rect x="571.80" y="396.03" width="7.30" height="7.62" fill="#3a7d82" stroke="none" stroke-width="1" />
<rect x="579.10" y="396.03" width="7.30" height="7.62" fill="#3a7d82" stroke="none" stroke-width="1" />
<rect x="586.40" y="396.03" width="7.30" height="7.62" fill="#80ad6a" stroke="none" stroke-width="1" />
<rect x="593.70" y="396.03" width="7.30" height="7.62" fill="#5c9a7e" stroke="none" stroke-width="1" />
<rect x="601.00" y="396.03" width="7.30" height="7.62" fill="#3a7d82" stroke="none" stroke-width="1" />
<rect x="608.30" y="396.03" width="7.30" height="7.62" fill="#3a7d82" stroke="none" stroke-width="1" />
<rect x="615.60" y="396.03" width="7.30" height="7.62" fill="#3a7d82" stroke="none" stroke-width="1" />
<rect x="622.90" y="396.03" width="7.30" height="7.62" fill="#5c9a7e" stroke="none" stroke-width="1" />
<rect x="630.20" y="396.03" width="7.30" height="7.62" fill="#3a7d82" stroke="none" stroke-width="1" />
<rect x="637.50" y="396.03" width="7.30" height="7.62" fill="#3a7d82" stroke="none" stroke-width="1" />
<rect x="644.80" y="396.03" width="7.30" height="7.62" fill="#3a7d82" stroke="none" stroke-width="1" />
<rect x="652.10" y="396.03" width="7.30" height="7.62" fill="#3a7d82" stroke="none" stroke-width="1" />
<rect x="659.40" y="396.03" width="7.30" height="7.62" fill="#3a7d82" stroke="none" stroke-width="1" />
<rect x="666.70" y="396.03" width="7.30" height="7.62" fill="#3a7d82" stroke="none" stroke-width="1" />
<rect x="674.00" y="396.03" width="7.30" height="7.62" fill="#3a7d82" stroke="none" stroke-width="1" />
<rect x="309.00" y="403.65" width="7.30" height="7.62" fill="#5c9a7e" stroke="none" stroke-width="1" />
<rect x="316.30" y="403.65" width="7.30" height="7.62" fill="#5c9a7e" stroke="none" stroke-width="1" />
<rect x="323.60" y="403.65" width="7.30" height="7.62" fill="#5c9a7e" stroke="none" stroke-width="1" />
<rect x="330.90" y="403.65" width="7.30" height="7.62" fill="#abbf52" stroke="none" stroke-width="1" />
<rect x="338.20" y="403.65" width="7.30" height="7.62" fill="#abbf52" stroke="none" stroke-width="1" />
<rect x="345.50" y="403.65" width="7.30" height="7.62" fill="#80ad6a" stroke="none" stroke-width="1" />
<rect x="352.80" y="403.65" width="7.30" height="7.62" fill="#abbf52" stroke="none" stroke-width="1" />
<rect x="360.10" y="403.65" width="7.30" height="7.62" fill="#5c9a7e" stroke="none" stroke-width="1" />
<rect x="367.40" y="403.65" width="7.30" height="7.62" fill="#3a7d82" stroke="none" stroke-width="1" />
<rect x="374.70" y="403.65" width="7.30" height="7.62" fill="#5c9a7e" stroke="none" stroke-width="1" />
<rect x="382.00" y="403.65" width="7.30" height="7.62" fill="#3a7d82" stroke="none" stroke-width="1" />
<rect x="389.30" y="403.65" width="7.30" height="7.62" fill="#3c6380" stroke="none" stroke-width="1" />
<rect x="396.60" y="403.65" width="7.30" height="7.62" fill="#5c9a7e" stroke="none" stroke-width="1" />
<rect x="403.90" y="403.65" width="7.30" height="7.62" fill="#5c9a7e" stroke="none" stroke-width="1" />
<rect x="411.20" y="403.65" width="7.30" height="7.62" fill="#3a7d82" stroke="none" stroke-width="1" />
<rect x="418.50" y="403.65" width="7.30" height="7.62" fill="#3c6380" stroke="none" stroke-width="1" />
<rect x="425.80" y="403.65" width="7.30" height="7.62" fill="#3c6380" stroke="none" stroke-width="1" />
<rect x="433.10" y="403.65" width="7.30" height="7.62" fill="#3c6380" stroke="none" stroke-width="1" />
<rect x="440.40" y="403.65" width="7.30" height="7.62" fill="#80ad6a" stroke="none" stroke-width="1" />
<rect x="447.70" y="403.65" width="7.30" height="7.62" fill="#5c9a7e" stroke="none" stroke-width="1" />
<rect x="455.00" y="403.65" width="7.30" height="7.62" fill="#5c9a7e" stroke="none" stroke-width="1" />
<rect x="462.30" y="403.65" width="7.30" height="7.62" fill="#5c9a7e" stroke="none" stroke-width="1" />
<rect x="469.60" y="403.65" width="7.30" height="7.62" fill="#3a7d82" stroke="none" stroke-width="1" />
<rect x="476.90" y="403.65" width="7.30" height="7.62" fill="#3c6380" stroke="none" stroke-width="1" />
<rect x="491.50" y="403.65" width="7.30" height="7.62" fill="#3c6380" stroke="none" stroke-width="1" />
<rect x="498.80" y="403.65" width="7.30" height="7.62" fill="#3a7d82" stroke="none" stroke-width="1" />
<rect x="506.10" y="403.65" width="7.30" height="7.62" fill="#3f5080" stroke="none" stroke-width="1" />
<rect x="520.70" y="403.65" width="7.30" height="7.62" fill="#3c2558" stroke="none" stroke-width="1" />
<rect x="528.00" y="403.65" width="7.30" height="7.62" fill="#3f5080" stroke="none" stroke-width="1" />
<rect x="542.60" y="403.65" width="7.30" height="7.62" fill="#3f5080" stroke="none" stroke-width="1" />
<rect x="549.90" y="403.65" width="7.30" height="7.62" fill="#45326e" stroke="none" stroke-width="1" />
<rect x="557.20" y="403.65" width="7.30" height="7.62" fill="#3f5080" stroke="none" stroke-width="1" />
<rect x="564.50" y="403.65" width="7.30" height="7.62" fill="#45326e" stroke="none" stroke-width="1" />
<rect x="571.80" y="403.65" width="7.30" height="7.62" fill="#3a7d82" stroke="none" stroke-width="1" />
<rect x="586.40" y="403.65" width="7.30" height="7.62" fill="#3f5080" stroke="none" stroke-width="1" />
<rect x="601.00" y="403.65" width="7.30" height="7.62" fill="#45326e" stroke="none" stroke-width="1" />
<rect x="608.30" y="403.65" width="7.30" height="7.62" fill="#3f5080" stroke="none" stroke-width="1" />
<rect x="615.60" y="403.65" width="7.30" height="7.62" fill="#3c6380" stroke="none" stroke-width="1" />
<rect x="622.90" y="403.65" width="7.30" height="7.62" fill="#3f5080" stroke="none" stroke-width="1" />
<rect x="630.20" y="403.65" width="7.30" height="7.62" fill="#3c6380" stroke="none" stroke-width="1" />
<rect x="637.50" y="403.65" width="7.30" height="7.62" fill="#3f5080" stroke="none" stroke-width="1" />
<rect x="652.10" y="403.65" width="7.30" height="7.62" fill="#3c2558" stroke="none" stroke-width="1" />
<rect x="659.40" y="403.65" width="7.30" height="7.62" fill="#3c6380" stroke="none" stroke-width="1" />
<rect x="666.70" y="403.65" width="7.30" height="7.62" fill="#3c6380" stroke="none" stroke-width="1" />
<rect x="674.00" y="403.65" width="7.30" height="7.62" fill="#3f5080" stroke="none" stroke-width="1" />
<rect x="309.00" y="411.27" width="7.30" height="7.62" fill="#5c9a7e" stroke="none" stroke-width="1" />
<rect x="316.30" y="411.27" width="7.30" height="7.62" fill="#80ad6a" stroke="none" stroke-width="1" />
<rect x="323.60" y="411.27" width="7.30" height="7.62" fill="#abbf52" stroke="none" stroke-width="1" />
<rect x="330.90" y="411.27" width="7.30" height="7.62" fill="#80ad6a" stroke="none" stroke-width="1" />
<rect x="338.20" y="411.27" width="7.30" height="7.62" fill="#abbf52" stroke="none" stroke-width="1" />
<rect x="345.50" y="411.27" width="7.30" height="7.62" fill="#80ad6a" stroke="none" stroke-width="1" />
<rect x="352.80" y="411.27" width="7.30" height="7.62" fill="#80ad6a" stroke="none" stroke-width="1" />
<rect x="360.10" y="411.27" width="7.30" height="7.62" fill="#5c9a7e" stroke="none" stroke-width="1" />
<rect x="367.40" y="411.27" width="7.30" height="7.62" fill="#5c9a7e" stroke="none" stroke-width="1" />
<rect x="374.70" y="411.27" width="7.30" height="7.62" fill="#5c9a7e" stroke="none" stroke-width="1" />
<rect x="382.00" y="411.27" width="7.30" height="7.62" fill="#80ad6a" stroke="none" stroke-width="1" />
<rect x="389.30" y="411.27" width="7.30" height="7.62" fill="#3a7d82" stroke="none" stroke-width="1" />
<rect x="396.60" y="411.27" width="7.30" height="7.62" fill="#5c9a7e" stroke="none" stroke-width="1" />
<rect x="403.90" y="411.27" width="7.30" height="7.62" fill="#80ad6a" stroke="none" stroke-width="1" />
<rect x="411.20" y="411.27" width="7.30" height="7.62" fill="#5c9a7e" stroke="none" stroke-width="1" />
<rect x="418.50" y="411.27" width="7.30" height="7.62" fill="#80ad6a" stroke="none" stroke-width="1" />
<rect x="425.80" y="411.27" width="7.30" height="7.62" fill="#5c9a7e" stroke="none" stroke-width="1" />
<rect x="433.10" y="411.27" width="7.30" height="7.62" fill="#80ad6a" stroke="none" stroke-width="1" />
<rect x="440.40" y="411.27" width="7.30" height="7.62" fill="#5c9a7e" stroke="none" stroke-width="1" />
<rect x="447.70" y="411.27" width="7.30" height="7.62" fill="#3f5080" stroke="none" stroke-width="1" />
<rect x="455.00" y="411.27" width="7.30" height="7.62" fill="#3a7d82" stroke="none" stroke-width="1" />
<rect x="462.30" y="411.27" width="7.30" height="7.62" fill="#3c6380" stroke="none" stroke-width="1" />
<rect x="469.60" y="411.27" width="7.30" height="7.62" fill="#3a7d82" stroke="none" stroke-width="1" />
<rect x="476.90" y="411.27" width="7.30" height="7.62" fill="#5c9a7e" stroke="none" stroke-width="1" />
<rect x="484.20" y="411.27" width="7.30" height="7.62" fill="#5c9a7e" stroke="none" stroke-width="1" />
<rect x="491.50" y="411.27" width="7.30" height="7.62" fill="#3f5080" stroke="none" stroke-width="1" />
<rect x="506.10" y="411.27" width="7.30" height="7.62" fill="#3c2558" stroke="none" stroke-width="1" />
<rect x="520.70" y="411.27" width="7.30" height="7.62" fill="#3c6380" stroke="none" stroke-width="1" />
<rect x="528.00" y="411.27" width="7.30" height="7.62" fill="#3c6380" stroke="none" stroke-width="1" />
<rect x="535.30" y="411.27" width="7.30" height="7.62" fill="#5c9a7e" stroke="none" stroke-width="1" />
<rect x="542.60" y="411.27" width="7.30" height="7.62" fill="#3a7d82" stroke="none" stroke-width="1" />
<rect x="549.90" y="411.27" width="7.30" height="7.62" fill="#3a7d82" stroke="none" stroke-width="1" />
<rect x="579.10" y="411.27" width="7.30" height="7.62" fill="#3a7d82" stroke="none" stroke-width="1" />
<rect x="586.40" y="411.27" width="7.30" height="7.62" fill="#3f5080" stroke="none" stroke-width="1" />
<rect x="593.70" y="411.27" width="7.30" height="7.62" fill="#3a7d82" stroke="none" stroke-width="1" />
<rect x="608.30" y="411.27" width="7.30" height="7.62" fill="#3a7d82" stroke="none" stroke-width="1" />
<rect x="630.20" y="411.27" width="7.30" height="7.62" fill="#3f5080" stroke="none" stroke-width="1" />
<rect x="637.50" y="411.27" width="7.30" height="7.62" fill="#3c6380" stroke="none" stroke-width="1" />
<rect x="652.10" y="411.27" width="7.30" height="7.62" fill="#3c6380" stroke="none" stroke-width="1" />
<rect x="659.40" y="411.27" width="7.30" height="7.62" fill="#3a7d82" stroke="none" stroke-width="1" />
<rect x="674.00" y="411.27" width="7.30" height="7.62" fill="#3c6380" stroke="none" stroke-width="1" />
<rect x="309.00" y="418.88" width="7.30" height="7.62" fill="#80ad6a" stroke="none" stroke-width="1" />
<rect x="316.30" y="418.88" width="7.30" height="7.62" fill="#80ad6a" stroke="none" stroke-width="1" />
<rect x="323.60" y="418.88" width="7.30" height="7.62" fill="#abbf52" stroke="none" stroke-width="1" />
<rect x="330.90" y="418.88" width="7.30" height="7.62" fill="#80ad6a" stroke="none" stroke-width="1" />
<rect x="338.20" y="418.88" width="7.30" height="7.62" fill="#abbf52" stroke="none" stroke-width="1" />
<rect x="345.50" y="418.88" width="7.30" height="7.62" fill="#80ad6a" stroke="none" stroke-width="1" />
<rect x="352.80" y="418.88" width="7.30" height="7.62" fill="#80ad6a" stroke="none" stroke-width="1" />
<rect x="360.10" y="418.88" width="7.30" height="7.62" fill="#80ad6a" stroke="none" stroke-width="1" />
<rect x="367.40" y="418.88" width="7.30" height="7.62" fill="#5c9a7e" stroke="none" stroke-width="1" />
<rect x="374.70" y="418.88" width="7.30" height="7.62" fill="#3a7d82" stroke="none" stroke-width="1" />
<rect x="382.00" y="418.88" width="7.30" height="7.62" fill="#80ad6a" stroke="none" stroke-width="1" />
<rect x="389.30" y="418.88" width="7.30" height="7.62" fill="#3a7d82" stroke="none" stroke-width="1" />
<rect x="396.60" y="418.88" width="7.30" height="7.62" fill="#5c9a7e" stroke="none" stroke-width="1" />
<rect x="403.90" y="418.88" width="7.30" height="7.62" fill="#5c9a7e" stroke="none" stroke-width="1" />
<rect x="411.20" y="418.88" width="7.30" height="7.62" fill="#5c9a7e" stroke="none" stroke-width="1" />
<rect x="418.50" y="418.88" width="7.30" height="7.62" fill="#3a7d82" stroke="none" stroke-width="1" />
<rect x="433.10" y="418.88" width="7.30" height="7.62" fill="#80ad6a" stroke="none" stroke-width="1" />
<rect x="440.40" y="418.88" width="7.30" height="7.62" fill="#5c9a7e" stroke="none" stroke-width="1" />
<rect x="447.70" y="418.88" width="7.30" height="7.62" fill="#3a7d82" stroke="none" stroke-width="1" />
<rect x="455.00" y="418.88" width="7.30" height="7.62" fill="#3a7d82" stroke="none" stroke-width="1" />
<rect x="462.30" y="418.88" width="7.30" height="7.62" fill="#3a7d82" stroke="none" stroke-width="1" />
<rect x="469.60" y="418.88" width="7.30" height="7.62" fill="#3c6380" stroke="none" stroke-width="1" />
<rect x="476.90" y="418.88" width="7.30" height="7.62" fill="#3a7d82" stroke="none" stroke-width="1" />
<rect x="484.20" y="418.88" width="7.30" height="7.62" fill="#3a7d82" stroke="none" stroke-width="1" />
<rect x="491.50" y="418.88" width="7.30" height="7.62" fill="#3a7d82" stroke="none" stroke-width="1" />
<rect x="498.80" y="418.88" width="7.30" height="7.62" fill="#3a7d82" stroke="none" stroke-width="1" />
<rect x="506.10" y="418.88" width="7.30" height="7.62" fill="#3c2558" stroke="none" stroke-width="1" />
<rect x="520.70" y="418.88" width="7.30" height="7.62" fill="#3f5080" stroke="none" stroke-width="1" />
<rect x="528.00" y="418.88" width="7.30" height="7.62" fill="#45326e" stroke="none" stroke-width="1" />
<rect x="535.30" y="418.88" width="7.30" height="7.62" fill="#3f5080" stroke="none" stroke-width="1" />
<rect x="542.60" y="418.88" width="7.30" height="7.62" fill="#3c6380" stroke="none" stroke-width="1" />
<rect x="549.90" y="418.88" width="7.30" height="7.62" fill="#3a7d82" stroke="none" stroke-width="1" />
<rect x="557.20" y="418.88" width="7.30" height="7.62" fill="#3a7d82" stroke="none" stroke-width="1" />
<rect x="564.50" y="418.88" width="7.30" height="7.62" fill="#3c6380" stroke="none" stroke-width="1" />
<rect x="571.80" y="418.88" width="7.30" height="7.62" fill="#45326e" stroke="none" stroke-width="1" />
<rect x="579.10" y="418.88" width="7.30" height="7.62" fill="#3c2558" stroke="none" stroke-width="1" />
<rect x="586.40" y="418.88" width="7.30" height="7.62" fill="#45326e" stroke="none" stroke-width="1" />
<rect x="593.70" y="418.88" width="7.30" height="7.62" fill="#3f5080" stroke="none" stroke-width="1" />
<rect x="601.00" y="418.88" width="7.30" height="7.62" fill="#3c6380" stroke="none" stroke-width="1" />
<rect x="608.30" y="418.88" width="7.30" height="7.62" fill="#3c6380" stroke="none" stroke-width="1" />
<rect x="615.60" y="418.88" width="7.30" height="7.62" fill="#45326e" stroke="none" stroke-width="1" />
<rect x="622.90" y="418.88" width="7.30" height="7.62" fill="#45326e" stroke="none" stroke-width="1" />
<rect x="630.20" y="418.88" width="7.30" height="7.62" fill="#3a7d82" stroke="none" stroke-width="1" />
<rect x="637.50" y="418.88" width="7.30" height="7.62" fill="#3c6380" stroke="none" stroke-width="1" />
<rect x="644.80" y="418.88" width="7.30" height="7.62" fill="#3c6380" stroke="none" stroke-width="1" />
<rect x="652.10" y="418.88" width="7.30" height="7.62" fill="#3f5080" stroke="none" stroke-width="1" />
<rect x="659.40" y="418.88" width="7.30" height="7.62" fill="#3a7d82" stroke="none" stroke-width="1" />
<rect x="666.70" y="418.88" width="7.30" height="7.62" fill="#3f5080" stroke="none" stroke-width="1" />
<rect x="674.00" y="418.88" width="7.30" height="7.62" fill="#3c6380" stroke="none" stroke-width="1" />
<rect x="309.00" y="426.50" width="7.30" height="7.62" fill="#5c9a7e" stroke="none" stroke-width="1" />
<rect x="338.20" y="426.50" width="7.30" height="7.62" fill="#3c2558" stroke="none" stroke-width="1" />
<rect x="352.80" y="426.50" width="7.30" height="7.62" fill="#5c9a7e" stroke="none" stroke-width="1" />
<rect x="360.10" y="426.50" width="7.30" height="7.62" fill="#3f5080" stroke="none" stroke-width="1" />
<rect x="374.70" y="426.50" width="7.30" height="7.62" fill="#3c6380" stroke="none" stroke-width="1" />
<rect x="433.10" y="426.50" width="7.30" height="7.62" fill="#3c6380" stroke="none" stroke-width="1" />
<rect x="440.40" y="426.50" width="7.30" height="7.62" fill="#45326e" stroke="none" stroke-width="1" />
<rect x="520.70" y="426.50" width="7.30" height="7.62" fill="#3c2558" stroke="none" stroke-width="1" />
<rect x="659.40" y="426.50" width="7.30" height="7.62" fill="#3f5080" stroke="none" stroke-width="1" />
<rect x="309.00" y="434.12" width="7.30" height="7.62" fill="#3a7d82" stroke="none" stroke-width="1" />
<rect x="330.90" y="434.12" width="7.30" height="7.62" fill="#5c9a7e" stroke="none" stroke-width="1" />
<rect x="345.50" y="434.12" width="7.30" height="7.62" fill="#3c6380" stroke="none" stroke-width="1" />
<rect x="352.80" y="434.12" width="7.30" height="7.62" fill="#5c9a7e" stroke="none" stroke-width="1" />
<rect x="360.10" y="434.12" width="7.30" height="7.62" fill="#45326e" stroke="none" stroke-width="1" />
<rect x="367.40" y="434.12" width="7.30" height="7.62" fill="#3f5080" stroke="none" stroke-width="1" />
<rect x="374.70" y="434.12" width="7.30" height="7.62" fill="#3f5080" stroke="none" stroke-width="1" />
<rect x="382.00" y="434.12" width="7.30" height="7.62" fill="#3f5080" stroke="none" stroke-width="1" />
<rect x="389.30" y="434.12" width="7.30" height="7.62" fill="#3f5080" stroke="none" stroke-width="1" />
<rect x="403.90" y="434.12" width="7.30" height="7.62" fill="#45326e" stroke="none" stroke-width="1" />
<rect x="462.30" y="434.12" width="7.30" height="7.62" fill="#45326e" stroke="none" stroke-width="1" />
<rect x="557.20" y="434.12" width="7.30" height="7.62" fill="#3c6380" stroke="none" stroke-width="1" />
<rect x="309.00" y="441.74" width="7.30" height="7.62" fill="#3c6380" stroke="none" stroke-width="1" />
<rect x="345.50" y="441.74" width="7.30" height="7.62" fill="#80ad6a" stroke="none" stroke-width="1" />
<rect x="352.80" y="441.74" width="7.30" height="7.62" fill="#abbf52" stroke="none" stroke-width="1" />
<rect x="360.10" y="441.74" width="7.30" height="7.62" fill="#5c9a7e" stroke="none" stroke-width="1" />
<rect x="367.40" y="441.74" width="7.30" height="7.62" fill="#3a7d82" stroke="none" stroke-width="1" />
<rect x="374.70" y="441.74" width="7.30" height="7.62" fill="#5c9a7e" stroke="none" stroke-width="1" />
<rect x="382.00" y="441.74" width="7.30" height="7.62" fill="#3c6380" stroke="none" stroke-width="1" />
<rect x="403.90" y="441.74" width="7.30" height="7.62" fill="#3c2558" stroke="none" stroke-width="1" />
<rect x="433.10" y="441.74" width="7.30" height="7.62" fill="#3c6380" stroke="none" stroke-width="1" />
<rect x="447.70" y="441.74" width="7.30" height="7.62" fill="#3c6380" stroke="none" stroke-width="1" />
<rect x="462.30" y="441.74" width="7.30" height="7.62" fill="#5c9a7e" stroke="none" stroke-width="1" />
<rect x="513.40" y="441.74" width="7.30" height="7.62" fill="#3f5080" stroke="none" stroke-width="1" />
<rect x="535.30" y="441.74" width="7.30" height="7.62" fill="#3a7d82" stroke="none" stroke-width="1" />
<rect x="549.90" y="441.74" width="7.30" height="7.62" fill="#3a7d82" stroke="none" stroke-width="1" />
<rect x="601.00" y="441.74" width="7.30" height="7.62" fill="#3c6380" stroke="none" stroke-width="1" />
<rect x="630.20" y="441.74" width="7.30" height="7.62" fill="#3c6380" stroke="none" stroke-width="1" />
<rect x="666.70" y="441.74" width="7.30" height="7.62" fill="#3c2558" stroke="none" stroke-width="1" />
<rect x="309.00" y="449.35" width="7.30" height="7.62" fill="#45326e" stroke="none" stroke-width="1" />
<rect x="316.30" y="449.35" width="7.30" height="7.62" fill="#3f5080" stroke="none" stroke-width="1" />
<rect x="330.90" y="449.35" width="7.30" height="7.62" fill="#3a7d82" stroke="none" stroke-width="1" />
<rect x="338.20" y="449.35" width="7.30" height="7.62" fill="#5c9a7e" stroke="none" stroke-width="1" />
<rect x="345.50" y="449.35" width="7.30" height="7.62" fill="#3a7d82" stroke="none" stroke-width="1" />
<rect x="352.80" y="449.35" width="7.30" height="7.62" fill="#5c9a7e" stroke="none" stroke-width="1" />
<rect x="360.10" y="449.35" width="7.30" height="7.62" fill="#3a7d82" stroke="none" stroke-width="1" />
<rect x="367.40" y="449.35" width="7.30" height="7.62" fill="#5c9a7e" stroke="none" stroke-width="1" />
<rect x="382.00" y="449.35" width="7.30" height="7.62" fill="#3c6380" stroke="none" stroke-width="1" />
<rect x="389.30" y="449.35" width="7.30" height="7.62" fill="#3c6380" stroke="none" stroke-width="1" />
<rect x="425.80" y="449.35" width="7.30" height="7.62" fill="#5c9a7e" stroke="none" stroke-width="1" />
<rect x="433.10" y="449.35" width="7.30" height="7.62" fill="#3f5080" stroke="none" stroke-width="1" />
<rect x="440.40" y="449.35" width="7.30" height="7.62" fill="#3f5080" stroke="none" stroke-width="1" />
<rect x="476.90" y="449.35" width="7.30" height="7.62" fill="#3f5080" stroke="none" stroke-width="1" />
<rect x="491.50" y="449.35" width="7.30" height="7.62" fill="#3c2558" stroke="none" stroke-width="1" />
<rect x="498.80" y="449.35" width="7.30" height="7.62" fill="#45326e" stroke="none" stroke-width="1" />
<rect x="520.70" y="449.35" width="7.30" height="7.62" fill="#3c2558" stroke="none" stroke-width="1" />
<rect x="535.30" y="449.35" width="7.30" height="7.62" fill="#3c2558" stroke="none" stroke-width="1" />
<rect x="564.50" y="449.35" width="7.30" height="7.62" fill="#3f5080" stroke="none" stroke-width="1" />
<rect x="593.70" y="449.35" width="7.30" height="7.62" fill="#3a7d82" stroke="none" stroke-width="1" />
<rect x="652.10" y="449.35" width="7.30" height="7.62" fill="#45326e" stroke="none" stroke-width="1" />
<rect x="659.40" y="449.35" width="7.30" height="7.62" fill="#3c2558" stroke="none" stroke-width="1" />
<rect x="309.00" y="456.97" width="7.30" height="7.62" fill="#3c6380" stroke="none" stroke-width="1" />
<rect x="316.30" y="456.97" width="7.30" height="7.62" fill="#3c6380" stroke="none" stroke-width="1" />
<rect x="330.90" y="456.97" width="7.30" height="7.62" fill="#5c9a7e" stroke="none" stroke-width="1" />
<rect x="338.20" y="456.97" width="7.30" height="7.62" fill="#3a7d82" stroke="none" stroke-width="1" />
<rect x="345.50" y="456.97" width="7.30" height="7.62" fill="#3a7d82" stroke="none" stroke-width="1" />
<rect x="352.80" y="456.97" width="7.30" height="7.62" fill="#80ad6a" stroke="none" stroke-width="1" />
<rect x="360.10" y="456.97" width="7.30" height="7.62" fill="#3f5080" stroke="none" stroke-width="1" />
<rect x="374.70" y="456.97" width="7.30" height="7.62" fill="#3a7d82" stroke="none" stroke-width="1" />
<rect x="389.30" y="456.97" width="7.30" height="7.62" fill="#3f5080" stroke="none" stroke-width="1" />
<rect x="396.60" y="456.97" width="7.30" height="7.62" fill="#3a7d82" stroke="none" stroke-width="1" />
<rect x="403.90" y="456.97" width="7.30" height="7.62" fill="#3a7d82" stroke="none" stroke-width="1" />
<rect x="433.10" y="456.97" width="7.30" height="7.62" fill="#3f5080" stroke="none" stroke-width="1" />
<rect x="462.30" y="456.97" width="7.30" height="7.62" fill="#5c9a7e" stroke="none" stroke-width="1" />
<rect x="498.80" y="456.97" width="7.30" height="7.62" fill="#3f5080" stroke="none" stroke-width="1" />
<rect x="506.10" y="456.97" width="7.30" height="7.62" fill="#45326e" stroke="none" stroke-width="1" />
<rect x="542.60" y="456.97" width="7.30" height="7.62" fill="#45326e" stroke="none" stroke-width="1" />
<rect x="571.80" y="456.97" width="7.30" height="7.62" fill="#3c6380" stroke="none" stroke-width="1" />
<rect x="652.10" y="456.97" width="7.30" height="7.62" fill="#45326e" stroke="none" stroke-width="1" />
<rect x="659.40" y="456.97" width="7.30" height="7.62" fill="#45326e" stroke="none" stroke-width="1" />
<path d="M309.00,22.80V464.59M316.30,22.80V464.59M323.60,22.80V464.59M330.90,22.80V464.59M338.20,22.80V464.59M345.50,22.80V464.59M352.80,22.80V464.59M360.10,22.80V464.59M367.40,22.80V464.59M374.70,22.80V464.59M382.00,22.80V464.59M389.30,22.80V464.59M396.60,22.80V464.59M403.90,22.80V464.59M411.20,22.80V464.59M418.50,22.80V464.59M425.80,22.80V464.59M433.10,22.80V464.59M440.40,22.80V464.59M447.70,22.80V464.59M455.00,22.80V464.59M462.30,22.80V464.59M469.60,22.80V464.59M476.90,22.80V464.59M484.20,22.80V464.59M491.50,22.80V464.59M498.80,22.80V464.59M506.10,22.80V464.59M513.40,22.80V464.59M520.70,22.80V464.59M528.00,22.80V464.59M535.30,22.80V464.59M542.60,22.80V464.59M549.90,22.80V464.59M557.20,22.80V464.59M564.50,22.80V464.59M571.80,22.80V464.59M579.10,22.80V464.59M586.40,22.80V464.59M593.70,22.80V464.59M601.00,22.80V464.59M608.30,22.80V464.59M615.60,22.80V464.59M622.90,22.80V464.59M630.20,22.80V464.59M637.50,22.80V464.59M644.80,22.80V464.59M652.10,22.80V464.59M659.40,22.80V464.59M666.70,22.80V464.59M674.00,22.80V464.59M681.30,22.80V464.59M309.00,22.80H681.30M309.00,30.42H681.30M309.00,38.03H681.30M309.00,45.65H681.30M309.00,53.27H681.30M309.00,60.89H681.30M309.00,68.50H681.30M309.00,76.12H681.30M309.00,83.74H681.30M309.00,91.35H681.30M309.00,98.97H681.30M309.00,106.59H681.30M309.00,114.20H681.30M309.00,121.82H681.30M309.00,129.44H681.30M309.00,137.06H681.30M309.00,144.67H681.30M309.00,152.29H681.30M309.00,159.91H681.30M309.00,167.52H681.30M309.00,175.14H681.30M309.00,182.76H681.30M309.00,190.37H681.30M309.00,197.99H681.30M309.00,205.61H681.30M309.00,213.23H681.30M309.00,220.84H681.30M309.00,228.46H681.30M309.00,236.08H681.30M309.00,243.69H681.30M309.00,251.31H681.30M309.00,258.93H681.30M309.00,266.54H681.30M309.00,274.16H681.30M309.00,281.78H681.30M309.00,289.40H681.30M309.00,297.01H681.30M309.00,304.63H681.30M309.00,312.25H681.30M309.00,319.86H681.30M309.00,327.48H681.30M309.00,335.10H681.30M309.00,342.71H681.30M309.00,350.33H681.30M309.00,357.95H681.30M309.00,365.56H681.30M309.00,373.18H681.30M309.00,380.80H681.30M309.00,388.42H681.30M309.00,396.03H681.30M309.00,403.65H681.30M309.00,411.27H681.30M309.00,418.88H681.30M309.00,426.50H681.30M309.00,434.12H681.30M309.00,441.74H681.30M309.00,449.35H681.30M309.00,456.97H681.30M309.00,464.59H681.30" stroke="#ffffff" stroke-width="0.7" stroke-opacity="0.8" fill="none"/>
<rect x="309.00" y="8.90" width="7.30" height="9.30" fill="#1f9c92" stroke="none" stroke-width="1" />
<rect x="316.30" y="8.90" width="7.30" height="9.30" fill="#f4ae5f" stroke="none" stroke-width="1" />
<rect x="323.60" y="8.90" width="7.30" height="9.30" fill="#1f9c92" stroke="none" stroke-width="1" />
<rect x="330.90" y="8.90" width="7.30" height="9.30" fill="#f4ae5f" stroke="none" stroke-width="1" />
<rect x="338.20" y="8.90" width="7.30" height="9.30" fill="#1f9c92" stroke="none" stroke-width="1" />
<rect x="345.50" y="8.90" width="7.30" height="9.30" fill="#1f9c92" stroke="none" stroke-width="1" />
<rect x="352.80" y="8.90" width="7.30" height="9.30" fill="#1f9c92" stroke="none" stroke-width="1" />
<rect x="360.10" y="8.90" width="7.30" height="9.30" fill="#1f9c92" stroke="none" stroke-width="1" />
<rect x="367.40" y="8.90" width="7.30" height="9.30" fill="#1f9c92" stroke="none" stroke-width="1" />
<rect x="374.70" y="8.90" width="7.30" height="9.30" fill="#1f9c92" stroke="none" stroke-width="1" />
<rect x="382.00" y="8.90" width="7.30" height="9.30" fill="#1f9c92" stroke="none" stroke-width="1" />
<rect x="389.30" y="8.90" width="7.30" height="9.30" fill="#f4ae5f" stroke="none" stroke-width="1" />
<rect x="396.60" y="8.90" width="7.30" height="9.30" fill="#f4ae5f" stroke="none" stroke-width="1" />
<rect x="403.90" y="8.90" width="7.30" height="9.30" fill="#1f9c92" stroke="none" stroke-width="1" />
<rect x="411.20" y="8.90" width="7.30" height="9.30" fill="#1f9c92" stroke="none" stroke-width="1" />
<rect x="418.50" y="8.90" width="7.30" height="9.30" fill="#1f9c92" stroke="none" stroke-width="1" />
<rect x="425.80" y="8.90" width="7.30" height="9.30" fill="#1f9c92" stroke="none" stroke-width="1" />
<rect x="433.10" y="8.90" width="7.30" height="9.30" fill="#1f9c92" stroke="none" stroke-width="1" />
<rect x="440.40" y="8.90" width="7.30" height="9.30" fill="#1f9c92" stroke="none" stroke-width="1" />
<rect x="447.70" y="8.90" width="7.30" height="9.30" fill="#f4ae5f" stroke="none" stroke-width="1" />
<rect x="455.00" y="8.90" width="7.30" height="9.30" fill="#1f9c92" stroke="none" stroke-width="1" />
<rect x="462.30" y="8.90" width="7.30" height="9.30" fill="#1f9c92" stroke="none" stroke-width="1" />
<rect x="469.60" y="8.90" width="7.30" height="9.30" fill="#1f9c92" stroke="none" stroke-width="1" />
<rect x="476.90" y="8.90" width="7.30" height="9.30" fill="#1f9c92" stroke="none" stroke-width="1" />
<rect x="484.20" y="8.90" width="7.30" height="9.30" fill="#1f9c92" stroke="none" stroke-width="1" />
<rect x="491.50" y="8.90" width="7.30" height="9.30" fill="#1f9c92" stroke="none" stroke-width="1" />
<rect x="498.80" y="8.90" width="7.30" height="9.30" fill="#1f9c92" stroke="none" stroke-width="1" />
<rect x="506.10" y="8.90" width="7.30" height="9.30" fill="#1f9c92" stroke="none" stroke-width="1" />
<rect x="513.40" y="8.90" width="7.30" height="9.30" fill="#1f9c92" stroke="none" stroke-width="1" />
<rect x="520.70" y="8.90" width="7.30" height="9.30" fill="#1f9c92" stroke="none" stroke-width="1" />
<rect x="528.00" y="8.90" width="7.30" height="9.30" fill="#1f9c92" stroke="none" stroke-width="1" />
<rect x="535.30" y="8.90" width="7.30" height="9.30" fill="#1f9c92" stroke="none" stroke-width="1" />
<rect x="542.60" y="8.90" width="7.30" height="9.30" fill="#1f9c92" stroke="none" stroke-width="1" />
<rect x="549.90" y="8.90" width="7.30" height="9.30" fill="#1f9c92" stroke="none" stroke-width="1" />
<rect x="557.20" y="8.90" width="7.30" height="9.30" fill="#1f9c92" stroke="none" stroke-width="1" />
<rect x="564.50" y="8.90" width="7.30" height="9.30" fill="#1f9c92" stroke="none" stroke-width="1" />
<rect x="571.80" y="8.90" width="7.30" height="9.30" fill="#f4ae5f" stroke="none" stroke-width="1" />
<rect x="579.10" y="8.90" width="7.30" height="9.30" fill="#1f9c92" stroke="none" stroke-width="1" />
<rect x="586.40" y="8.90" width="7.30" height="9.30" fill="#1f9c92" stroke="none" stroke-width="1" />
<rect x="593.70" y="8.90" width="7.30" height="9.30" fill="#1f9c92" stroke="none" stroke-width="1" />
<rect x="601.00" y="8.90" width="7.30" height="9.30" fill="#1f9c92" stroke="none" stroke-width="1" />
<rect x="608.30" y="8.90" width="7.30" height="9.30" fill="#1f9c92" stroke="none" stroke-width="1" />
<rect x="615.60" y="8.90" width="7.30" height="9.30" fill="#1f9c92" stroke="none" stroke-width="1" />
<rect x="622.90" y="8.90" width="7.30" height="9.30" fill="#1f9c92" stroke="none" stroke-width="1" />
<rect x="630.20" y="8.90" width="7.30" height="9.30" fill="#1f9c92" stroke="none" stroke-width="1" />
<rect x="637.50" y="8.90" width="7.30" height="9.30" fill="#f4ae5f" stroke="none" stroke-width="1" />
<rect x="644.80" y="8.90" width="7.30" height="9.30" fill="#1f9c92" stroke="none" stroke-width="1" />
<rect x="652.10" y="8.90" width="7.30" height="9.30" fill="#1f9c92" stroke="none" stroke-width="1" />
<rect x="659.40" y="8.90" width="7.30" height="9.30" fill="#1f9c92" stroke="none" stroke-width="1" />
<rect x="666.70" y="8.90" width="7.30" height="9.30" fill="#1f9c92" stroke="none" stroke-width="1" />
<rect x="674.00" y="8.90" width="7.30" height="9.30" fill="#1f9c92" stroke="none" stroke-width="1" />
<path d="M316.30,8.9V18.2M323.60,8.9V18.2M330.90,8.9V18.2M338.20,8.9V18.2M345.50,8.9V18.2M352.80,8.9V18.2M360.10,8.9V18.2M367.40,8.9V18.2M374.70,8.9V18.2M382.00,8.9V18.2M389.30,8.9V18.2M396.60,8.9V18.2M403.90,8.9V18.2M411.20,8.9V18.2M418.50,8.9V18.2M425.80,8.9V18.2M433.10,8.9V18.2M440.40,8.9V18.2M447.70,8.9V18.2M455.00,8.9V18.2M462.30,8.9V18.2M469.60,8.9V18.2M476.90,8.9V18.2M484.20,8.9V18.2M491.50,8.9V18.2M498.80,8.9V18.2M506.10,8.9V18.2M513.40,8.9V18.2M520.70,8.9V18.2M528.00,8.9V18.2M535.30,8.9V18.2M542.60,8.9V18.2M549.90,8.9V18.2M557.20,8.9V18.2M564.50,8.9V18.2M571.80,8.9V18.2M579.10,8.9V18.2M586.40,8.9V18.2M593.70,8.9V18.2M601.00,8.9V18.2M608.30,8.9V18.2M615.60,8.9V18.2M622.90,8.9V18.2M630.20,8.9V18.2M637.50,8.9V18.2M644.80,8.9V18.2M652.10,8.9V18.2M659.40,8.9V18.2M666.70,8.9V18.2M674.00,8.9V18.2" stroke="#ffffff" stroke-width="0.5" stroke-opacity="0.35" fill="none"/>
<text x="305.60" y="29.06" font-size="7.4" text-anchor="end" font-weight="normal" fill="#1a1a1a" >PD&#8722;T7&#8722;5</text>
<text x="305.60" y="36.68" font-size="7.4" text-anchor="end" font-weight="normal" fill="#1a1a1a" >AbiU</text>
<text x="305.60" y="44.29" font-size="7.4" text-anchor="end" font-weight="normal" fill="#1a1a1a" >PD&#8722;T4&#8722;3</text>
<text x="305.60" y="51.91" font-size="7.4" text-anchor="end" font-weight="normal" fill="#1a1a1a" >Druantia</text>
<text x="305.60" y="59.53" font-size="7.4" text-anchor="end" font-weight="normal" fill="#1a1a1a" >TerY&#8722;P</text>
<text x="305.60" y="67.14" font-size="7.4" text-anchor="end" font-weight="normal" fill="#1a1a1a" >kiwa</text>
<text x="305.60" y="74.76" font-size="7.4" text-anchor="end" font-weight="normal" fill="#1a1a1a" >ShosTA</text>
<text x="305.60" y="82.38" font-size="7.4" text-anchor="end" font-weight="normal" fill="#1a1a1a" >RloC</text>
<text x="305.60" y="89.99" font-size="7.4" text-anchor="end" font-weight="normal" fill="#1a1a1a" >shedu</text>
<text x="305.60" y="97.61" font-size="7.4" text-anchor="end" font-weight="normal" fill="#1a1a1a" >Dsr</text>
<text x="305.60" y="105.23" font-size="7.4" text-anchor="end" font-weight="normal" fill="#1a1a1a" >hma</text>
<text x="305.60" y="112.85" font-size="7.4" text-anchor="end" font-weight="normal" fill="#1a1a1a" >AbiV</text>
<text x="305.60" y="120.46" font-size="7.4" text-anchor="end" font-weight="normal" fill="#1a1a1a" >AVAST</text>
<text x="305.60" y="128.08" font-size="7.4" text-anchor="end" font-weight="normal" fill="#1a1a1a" >PT_PbeABCD</text>
<text x="305.60" y="135.70" font-size="7.4" text-anchor="end" font-weight="normal" fill="#1a1a1a" >PD&#8722;Lambda&#8722;1</text>
<text x="305.60" y="143.31" font-size="7.4" text-anchor="end" font-weight="normal" fill="#1a1a1a" >PD&#8722;Lambda&#8722;5</text>
<text x="305.60" y="150.93" font-size="7.4" text-anchor="end" font-weight="normal" fill="#1a1a1a" >RosmerTA</text>
<text x="305.60" y="158.55" font-size="7.4" text-anchor="end" font-weight="normal" fill="#1a1a1a" >AbiH</text>
<text x="305.60" y="166.16" font-size="7.4" text-anchor="end" font-weight="normal" fill="#1a1a1a" >AbiZ</text>
<text x="305.60" y="173.78" font-size="7.4" text-anchor="end" font-weight="normal" fill="#1a1a1a" >BREX</text>
<text x="305.60" y="181.40" font-size="7.4" text-anchor="end" font-weight="normal" fill="#1a1a1a" >PifA</text>
<text x="305.60" y="189.02" font-size="7.4" text-anchor="end" font-weight="normal" fill="#1a1a1a" >GAO_19</text>
<text x="305.60" y="196.63" font-size="7.4" text-anchor="end" font-weight="normal" fill="#1a1a1a" >DarTG</text>
<text x="305.60" y="204.25" font-size="7.4" text-anchor="end" font-weight="normal" fill="#1a1a1a" >ietAS</text>
<text x="305.60" y="211.87" font-size="7.4" text-anchor="end" font-weight="normal" fill="#1a1a1a" >Hachiman</text>
<text x="305.60" y="219.48" font-size="7.4" text-anchor="end" font-weight="normal" fill="#1a1a1a" >mza</text>
<text x="305.60" y="227.10" font-size="7.4" text-anchor="end" font-weight="normal" fill="#1a1a1a" >Retron</text>
<text x="305.60" y="234.72" font-size="7.4" text-anchor="end" font-weight="normal" fill="#1a1a1a" >Mokosh</text>
<text x="305.60" y="242.33" font-size="7.4" text-anchor="end" font-weight="normal" fill="#1a1a1a" >Zorya</text>
<text x="305.60" y="249.95" font-size="7.4" text-anchor="end" font-weight="normal" fill="#1a1a1a" >argonaute</text>
<text x="305.60" y="257.57" font-size="7.4" text-anchor="end" font-weight="normal" fill="#1a1a1a" >DRT</text>
<text x="305.60" y="265.19" font-size="7.4" text-anchor="end" font-weight="normal" fill="#1a1a1a" >Paris</text>
<text x="305.60" y="272.80" font-size="7.4" text-anchor="end" font-weight="normal" fill="#1a1a1a" >SpbK</text>
<text x="305.60" y="280.42" font-size="7.4" text-anchor="end" font-weight="normal" fill="#1a1a1a" >Menshen</text>
<text x="305.60" y="288.04" font-size="7.4" text-anchor="end" font-weight="normal" fill="#1a1a1a" >ppl</text>
<text x="305.60" y="295.65" font-size="7.4" text-anchor="end" font-weight="normal" fill="#1a1a1a" >AbiL</text>
<text x="305.60" y="303.27" font-size="7.4" text-anchor="end" font-weight="normal" fill="#1a1a1a" >Septu</text>
<text x="305.60" y="310.89" font-size="7.4" text-anchor="end" font-weight="normal" fill="#1a1a1a" >PD&#8722;Lambda&#8722;2</text>
<text x="305.60" y="318.50" font-size="7.4" text-anchor="end" font-weight="normal" fill="#1a1a1a" >Gabija</text>
<text x="305.60" y="326.12" font-size="7.4" text-anchor="end" font-weight="normal" fill="#1a1a1a" >VSPR</text>
<text x="305.60" y="333.74" font-size="7.4" text-anchor="end" font-weight="normal" fill="#1a1a1a" >CBASS</text>
<text x="305.60" y="341.36" font-size="7.4" text-anchor="end" font-weight="normal" fill="#1a1a1a" >viperin</text>
<text x="305.60" y="348.97" font-size="7.4" text-anchor="end" font-weight="normal" fill="#1a1a1a" >AbiD</text>
<text x="305.60" y="356.59" font-size="7.4" text-anchor="end" font-weight="normal" fill="#1a1a1a" >PT_SspABCD</text>
<text x="305.60" y="364.21" font-size="7.4" text-anchor="end" font-weight="normal" fill="#1a1a1a" >Tiamat</text>
<text x="305.60" y="371.82" font-size="7.4" text-anchor="end" font-weight="normal" fill="#1a1a1a" >Uzume</text>
<text x="305.60" y="379.44" font-size="7.4" text-anchor="end" font-weight="normal" fill="#1a1a1a" >PsyrTA</text>
<text x="305.60" y="387.06" font-size="7.4" text-anchor="end" font-weight="normal" fill="#1a1a1a" >Lamassu_Family</text>
<text x="305.60" y="394.67" font-size="7.4" text-anchor="end" font-weight="normal" fill="#1a1a1a" >SEFIR</text>
<text x="305.60" y="402.29" font-size="7.4" text-anchor="end" font-weight="normal" fill="#1a1a1a" >RM</text>
<text x="305.60" y="409.91" font-size="7.4" text-anchor="end" font-weight="normal" fill="#1a1a1a" >CRISPR-Cas</text>
<text x="305.60" y="417.53" font-size="7.4" text-anchor="end" font-weight="normal" fill="#1a1a1a" >AbiE</text>
<text x="305.60" y="425.14" font-size="7.4" text-anchor="end" font-weight="normal" fill="#1a1a1a" >SoFic</text>
<text x="305.60" y="432.76" font-size="7.4" text-anchor="end" font-weight="normal" fill="#1a1a1a" >Eleos</text>
<text x="305.60" y="440.38" font-size="7.4" text-anchor="end" font-weight="normal" fill="#1a1a1a" >PT_Dnd</text>
<text x="305.60" y="447.99" font-size="7.4" text-anchor="end" font-weight="normal" fill="#1a1a1a" >dXTPase</text>
<text x="305.60" y="455.61" font-size="7.4" text-anchor="end" font-weight="normal" fill="#1a1a1a" >Pycsar</text>
<text x="305.60" y="463.23" font-size="7.4" text-anchor="end" font-weight="normal" fill="#1a1a1a" >Wadjet</text>
<rect x="308.50" y="469.40" width="372.90" height="63.70" fill="none" stroke="#1a1a1a" stroke-width="0.9" />
<line x1="306.70" y1="473.50" x2="308.50" y2="473.50" stroke="#1a1a1a" stroke-width="0.7" />
<text x="306.20" y="475.30" font-size="5.0" text-anchor="end" font-weight="normal" fill="#1a1a1a" >5.0</text>
<line x1="306.70" y1="485.05" x2="308.50" y2="485.05" stroke="#1a1a1a" stroke-width="0.7" />
<text x="306.20" y="486.85" font-size="5.0" text-anchor="end" font-weight="normal" fill="#1a1a1a" >2.5</text>
<line x1="306.70" y1="496.60" x2="308.50" y2="496.60" stroke="#1a1a1a" stroke-width="0.7" />
<text x="306.20" y="498.40" font-size="5.0" text-anchor="end" font-weight="normal" fill="#1a1a1a" >0.0</text>
<line x1="306.70" y1="508.15" x2="308.50" y2="508.15" stroke="#1a1a1a" stroke-width="0.7" />
<text x="306.20" y="509.95" font-size="5.0" text-anchor="end" font-weight="normal" fill="#1a1a1a" >&#8722;2.5</text>
<line x1="306.70" y1="519.70" x2="308.50" y2="519.70" stroke="#1a1a1a" stroke-width="0.7" />
<text x="306.20" y="521.50" font-size="5.0" text-anchor="end" font-weight="normal" fill="#1a1a1a" >&#8722;5.0</text>
<line x1="306.70" y1="531.25" x2="308.50" y2="531.25" stroke="#1a1a1a" stroke-width="0.7" />
<text x="306.20" y="533.05" font-size="5.0" text-anchor="end" font-weight="normal" fill="#1a1a1a" >&#8722;7.5</text>
<text transform="translate(293.5,501) rotate(-90)" font-size="4.6" text-anchor="middle" fill="#1a1a1a">Gene abundance (log<tspan font-size="3" dy="1">10</tspan><tspan dy="-1">GPM)</tspan></text>
<line x1="312.65" y1="485.50" x2="312.65" y2="520.00" stroke="#8a8a8a" stroke-width="1.05" />
<rect x="310.35" y="503.95" width="4.60" height="4.60" fill="#000" stroke="none" stroke-width="1" />
<line x1="312.65" y1="533.10" x2="312.65" y2="534.90" stroke="#1a1a1a" stroke-width="0.7" />
<text transform="translate(310.25,536.80) rotate(90)" font-size="7.7" fill="#1a1a1a">Bacteroidota</text>
<line x1="319.95" y1="486.25" x2="319.95" y2="523.00" stroke="#262626" stroke-width="1.05" />
<rect x="317.65" y="502.20" width="4.60" height="4.60" fill="#000" stroke="none" stroke-width="1" />
<line x1="319.95" y1="533.10" x2="319.95" y2="534.90" stroke="#1a1a1a" stroke-width="0.7" />
<text transform="translate(317.55,536.80) rotate(90)" font-size="7.7" fill="#1a1a1a">Asgardarchaeota</text>
<line x1="327.25" y1="481.25" x2="327.25" y2="511.25" stroke="#262626" stroke-width="1.05" />
<rect x="324.95" y="495.95" width="4.60" height="4.60" fill="#000" stroke="none" stroke-width="1" />
<line x1="327.25" y1="533.10" x2="327.25" y2="534.90" stroke="#1a1a1a" stroke-width="0.7" />
<text transform="translate(324.85,536.80) rotate(90)" font-size="7.7" fill="#1a1a1a">Altribacterota</text>
<line x1="334.55" y1="472.00" x2="334.55" y2="518.00" stroke="#8a8a8a" stroke-width="1.05" />
<rect x="332.25" y="494.70" width="4.60" height="4.60" fill="#000" stroke="none" stroke-width="1" />
<line x1="334.55" y1="533.10" x2="334.55" y2="534.90" stroke="#1a1a1a" stroke-width="0.7" />
<text transform="translate(332.15,536.80) rotate(90)" font-size="7.7" fill="#1a1a1a">Halobacteriota</text>
<line x1="341.85" y1="474.50" x2="341.85" y2="520.00" stroke="#8a8a8a" stroke-width="1.05" />
<rect x="339.55" y="495.95" width="4.60" height="4.60" fill="#000" stroke="none" stroke-width="1" />
<line x1="341.85" y1="533.10" x2="341.85" y2="534.90" stroke="#1a1a1a" stroke-width="0.7" />
<text transform="translate(339.45,536.80) rotate(90)" font-size="7.7" fill="#1a1a1a">Desulfobacterota</text>
<line x1="349.15" y1="483.00" x2="349.15" y2="522.50" stroke="#262626" stroke-width="1.05" />
<rect x="346.85" y="500.95" width="4.60" height="4.60" fill="#000" stroke="none" stroke-width="1" />
<line x1="349.15" y1="533.10" x2="349.15" y2="534.90" stroke="#1a1a1a" stroke-width="0.7" />
<text transform="translate(346.75,536.80) rotate(90)" font-size="7.7" fill="#1a1a1a">Chloroflexota</text>
<line x1="356.45" y1="480.50" x2="356.45" y2="521.25" stroke="#262626" stroke-width="1.05" />
<rect x="354.15" y="499.45" width="4.60" height="4.60" fill="#000" stroke="none" stroke-width="1" />
<line x1="356.45" y1="533.10" x2="356.45" y2="534.90" stroke="#1a1a1a" stroke-width="0.7" />
<text transform="translate(354.05,536.80) rotate(90)" font-size="7.7" fill="#1a1a1a">Pseudomonadota</text>
<line x1="363.75" y1="483.00" x2="363.75" y2="524.50" stroke="#8a8a8a" stroke-width="1.05" />
<rect x="361.45" y="503.95" width="4.60" height="4.60" fill="#000" stroke="none" stroke-width="1" />
<line x1="363.75" y1="533.10" x2="363.75" y2="534.90" stroke="#1a1a1a" stroke-width="0.7" />
<text transform="translate(361.35,536.80) rotate(90)" font-size="7.7" fill="#1a1a1a">Planctomycetota</text>
<line x1="371.05" y1="491.25" x2="371.05" y2="520.00" stroke="#8a8a8a" stroke-width="1.05" />
<rect x="368.75" y="505.20" width="4.60" height="4.60" fill="#000" stroke="none" stroke-width="1" />
<line x1="371.05" y1="533.10" x2="371.05" y2="534.90" stroke="#1a1a1a" stroke-width="0.7" />
<text transform="translate(368.65,536.80) rotate(90)" font-size="7.7" fill="#1a1a1a">WOR.3</text>
<line x1="378.35" y1="492.00" x2="378.35" y2="528.75" stroke="#262626" stroke-width="1.05" />
<rect x="376.05" y="505.20" width="4.60" height="4.60" fill="#000" stroke="none" stroke-width="1" />
<line x1="378.35" y1="533.10" x2="378.35" y2="534.90" stroke="#1a1a1a" stroke-width="0.7" />
<text transform="translate(375.95,536.80) rotate(90)" font-size="7.7" fill="#1a1a1a">Desulfobacterota_F</text>
<line x1="385.65" y1="488.75" x2="385.65" y2="524.50" stroke="#262626" stroke-width="1.05" />
<rect x="383.35" y="505.95" width="4.60" height="4.60" fill="#000" stroke="none" stroke-width="1" />
<line x1="385.65" y1="533.10" x2="385.65" y2="534.90" stroke="#1a1a1a" stroke-width="0.7" />
<text transform="translate(383.25,536.80) rotate(90)" font-size="7.7" fill="#1a1a1a">Acidobacteriota</text>
<line x1="392.95" y1="494.50" x2="392.95" y2="523.25" stroke="#8a8a8a" stroke-width="1.05" />
<rect x="390.65" y="507.70" width="4.60" height="4.60" fill="#000" stroke="none" stroke-width="1" />
<line x1="392.95" y1="533.10" x2="392.95" y2="534.90" stroke="#1a1a1a" stroke-width="0.7" />
<text transform="translate(390.55,536.80) rotate(90)" font-size="7.7" fill="#1a1a1a">Spirochaetota</text>
<line x1="400.25" y1="486.75" x2="400.25" y2="527.00" stroke="#262626" stroke-width="1.05" />
<rect x="397.95" y="506.95" width="4.60" height="4.60" fill="#000" stroke="none" stroke-width="1" />
<line x1="400.25" y1="533.10" x2="400.25" y2="534.90" stroke="#1a1a1a" stroke-width="0.7" />
<text transform="translate(397.85,536.80) rotate(90)" font-size="7.7" fill="#1a1a1a">Patescibacteria</text>
<line x1="407.55" y1="490.00" x2="407.55" y2="524.50" stroke="#262626" stroke-width="1.05" />
<rect x="405.25" y="503.95" width="4.60" height="4.60" fill="#000" stroke="none" stroke-width="1" />
<line x1="407.55" y1="533.10" x2="407.55" y2="534.90" stroke="#1a1a1a" stroke-width="0.7" />
<text transform="translate(405.15,536.80) rotate(90)" font-size="7.7" fill="#1a1a1a">Thermoplasmatota</text>
<line x1="414.85" y1="490.75" x2="414.85" y2="521.75" stroke="#8a8a8a" stroke-width="1.05" />
<rect x="412.55" y="504.45" width="4.60" height="4.60" fill="#000" stroke="none" stroke-width="1" />
<line x1="414.85" y1="533.10" x2="414.85" y2="534.90" stroke="#1a1a1a" stroke-width="0.7" />
<text transform="translate(412.45,536.80) rotate(90)" font-size="7.7" fill="#1a1a1a">Aerophobota</text>
<line x1="422.15" y1="494.50" x2="422.15" y2="515.50" stroke="#8a8a8a" stroke-width="1.05" />
<rect x="419.85" y="500.95" width="4.60" height="4.60" fill="#000" stroke="none" stroke-width="1" />
<line x1="422.15" y1="533.10" x2="422.15" y2="534.90" stroke="#1a1a1a" stroke-width="0.7" />
<text transform="translate(419.75,536.80) rotate(90)" font-size="7.7" fill="#1a1a1a">Bipolaricaulota</text>
<line x1="429.45" y1="491.25" x2="429.45" y2="522.50" stroke="#262626" stroke-width="1.05" />
<rect x="427.15" y="503.95" width="4.60" height="4.60" fill="#000" stroke="none" stroke-width="1" />
<line x1="429.45" y1="533.10" x2="429.45" y2="534.90" stroke="#1a1a1a" stroke-width="0.7" />
<text transform="translate(427.05,536.80) rotate(90)" font-size="7.7" fill="#1a1a1a">Thermoproteota</text>
<line x1="436.75" y1="491.25" x2="436.75" y2="518.00" stroke="#262626" stroke-width="1.05" />
<rect x="434.45" y="502.20" width="4.60" height="4.60" fill="#000" stroke="none" stroke-width="1" />
<line x1="436.75" y1="533.10" x2="436.75" y2="534.90" stroke="#1a1a1a" stroke-width="0.7" />
<text transform="translate(434.35,536.80) rotate(90)" font-size="7.7" fill="#1a1a1a">Actinomycetota</text>
<line x1="444.05" y1="484.25" x2="444.05" y2="521.75" stroke="#8a8a8a" stroke-width="1.05" />
<rect x="441.75" y="504.45" width="4.60" height="4.60" fill="#000" stroke="none" stroke-width="1" />
<line x1="444.05" y1="533.10" x2="444.05" y2="534.90" stroke="#1a1a1a" stroke-width="0.7" />
<text transform="translate(441.65,536.80) rotate(90)" font-size="7.7" fill="#1a1a1a">Cloacimonadota</text>
<line x1="451.35" y1="493.00" x2="451.35" y2="529.50" stroke="#262626" stroke-width="1.05" />
<rect x="449.05" y="507.70" width="4.60" height="4.60" fill="#000" stroke="none" stroke-width="1" />
<line x1="451.35" y1="533.10" x2="451.35" y2="534.90" stroke="#1a1a1a" stroke-width="0.7" />
<text transform="translate(448.95,536.80) rotate(90)" font-size="7.7" fill="#1a1a1a">Marinisomatota</text>
<line x1="458.65" y1="491.25" x2="458.65" y2="516.25" stroke="#262626" stroke-width="1.05" />
<rect x="456.35" y="498.95" width="4.60" height="4.60" fill="#000" stroke="none" stroke-width="1" />
<line x1="458.65" y1="533.10" x2="458.65" y2="534.90" stroke="#1a1a1a" stroke-width="0.7" />
<text transform="translate(456.25,536.80) rotate(90)" font-size="7.7" fill="#1a1a1a">SZUA.182</text>
<line x1="465.95" y1="491.25" x2="465.95" y2="522.50" stroke="#262626" stroke-width="1.05" />
<rect x="463.65" y="506.95" width="4.60" height="4.60" fill="#000" stroke="none" stroke-width="1" />
<line x1="465.95" y1="533.10" x2="465.95" y2="534.90" stroke="#1a1a1a" stroke-width="0.7" />
<text transform="translate(463.55,536.80) rotate(90)" font-size="7.7" fill="#1a1a1a">Verrucomicrobiota</text>
<line x1="473.25" y1="499.50" x2="473.25" y2="523.00" stroke="#8a8a8a" stroke-width="1.05" />
<rect x="470.95" y="508.20" width="4.60" height="4.60" fill="#000" stroke="none" stroke-width="1" />
<line x1="473.25" y1="533.10" x2="473.25" y2="534.90" stroke="#1a1a1a" stroke-width="0.7" />
<text transform="translate(470.85,536.80) rotate(90)" font-size="7.7" fill="#1a1a1a">Gemmatimonadota</text>
<line x1="480.55" y1="498.00" x2="480.55" y2="521.25" stroke="#262626" stroke-width="1.05" />
<rect x="478.25" y="507.70" width="4.60" height="4.60" fill="#000" stroke="none" stroke-width="1" />
<line x1="480.55" y1="533.10" x2="480.55" y2="534.90" stroke="#1a1a1a" stroke-width="0.7" />
<text transform="translate(478.15,536.80) rotate(90)" font-size="7.7" fill="#1a1a1a">Fermentibacterota</text>
<line x1="487.85" y1="497.00" x2="487.85" y2="524.50" stroke="#262626" stroke-width="1.05" />
<rect x="485.55" y="510.95" width="4.60" height="4.60" fill="#000" stroke="none" stroke-width="1" />
<line x1="487.85" y1="533.10" x2="487.85" y2="534.90" stroke="#1a1a1a" stroke-width="0.7" />
<text transform="translate(485.45,536.80) rotate(90)" font-size="7.7" fill="#1a1a1a">VGIX01</text>
<line x1="495.15" y1="499.25" x2="495.15" y2="528.75" stroke="#8a8a8a" stroke-width="1.05" />
<rect x="492.85" y="510.95" width="4.60" height="4.60" fill="#000" stroke="none" stroke-width="1" />
<line x1="495.15" y1="533.10" x2="495.15" y2="534.90" stroke="#1a1a1a" stroke-width="0.7" />
<text transform="translate(492.75,536.80) rotate(90)" font-size="7.7" fill="#1a1a1a">Armatimonadota</text>
<line x1="502.45" y1="493.00" x2="502.45" y2="523.00" stroke="#8a8a8a" stroke-width="1.05" />
<rect x="500.15" y="509.45" width="4.60" height="4.60" fill="#000" stroke="none" stroke-width="1" />
<line x1="502.45" y1="533.10" x2="502.45" y2="534.90" stroke="#1a1a1a" stroke-width="0.7" />
<text transform="translate(500.05,536.80) rotate(90)" font-size="7.7" fill="#1a1a1a">Campylobacterota</text>
<line x1="509.75" y1="512.00" x2="509.75" y2="523.75" stroke="#262626" stroke-width="1.05" />
<rect x="507.45" y="518.95" width="4.60" height="4.60" fill="#000" stroke="none" stroke-width="1" />
<line x1="509.75" y1="533.10" x2="509.75" y2="534.90" stroke="#1a1a1a" stroke-width="0.7" />
<text transform="translate(507.35,536.80) rotate(90)" font-size="7.7" fill="#1a1a1a">Bacillota_F</text>
<line x1="517.05" y1="512.50" x2="517.05" y2="516.50" stroke="#262626" stroke-width="1.05" />
<rect x="514.75" y="512.20" width="4.60" height="4.60" fill="#000" stroke="none" stroke-width="1" />
<line x1="517.05" y1="533.10" x2="517.05" y2="534.90" stroke="#1a1a1a" stroke-width="0.7" />
<text transform="translate(514.65,536.80) rotate(90)" font-size="7.7" fill="#1a1a1a">JAFGBW01</text>
<line x1="524.35" y1="508.00" x2="524.35" y2="527.50" stroke="#8a8a8a" stroke-width="1.05" />
<rect x="522.05" y="515.70" width="4.60" height="4.60" fill="#000" stroke="none" stroke-width="1" />
<line x1="524.35" y1="533.10" x2="524.35" y2="534.90" stroke="#1a1a1a" stroke-width="0.7" />
<text transform="translate(521.95,536.80) rotate(90)" font-size="7.7" fill="#1a1a1a">Bdellovibrionota</text>
<line x1="531.65" y1="504.50" x2="531.65" y2="516.25" stroke="#262626" stroke-width="1.05" />
<rect x="529.35" y="509.70" width="4.60" height="4.60" fill="#000" stroke="none" stroke-width="1" />
<line x1="531.65" y1="533.10" x2="531.65" y2="534.90" stroke="#1a1a1a" stroke-width="0.7" />
<text transform="translate(529.25,536.80) rotate(90)" font-size="7.7" fill="#1a1a1a">JAAXVQ01</text>
<line x1="538.95" y1="495.00" x2="538.95" y2="522.50" stroke="#262626" stroke-width="1.05" />
<rect x="536.65" y="510.95" width="4.60" height="4.60" fill="#000" stroke="none" stroke-width="1" />
<line x1="538.95" y1="533.10" x2="538.95" y2="534.90" stroke="#1a1a1a" stroke-width="0.7" />
<text transform="translate(536.55,536.80) rotate(90)" font-size="7.7" fill="#1a1a1a">Omnitrophota</text>
<line x1="546.25" y1="503.00" x2="546.25" y2="523.75" stroke="#8a8a8a" stroke-width="1.05" />
<rect x="543.95" y="509.70" width="4.60" height="4.60" fill="#000" stroke="none" stroke-width="1" />
<line x1="546.25" y1="533.10" x2="546.25" y2="534.90" stroke="#1a1a1a" stroke-width="0.7" />
<text transform="translate(543.85,536.80) rotate(90)" font-size="7.7" fill="#1a1a1a">Bacillota</text>
<line x1="553.55" y1="499.50" x2="553.55" y2="518.75" stroke="#8a8a8a" stroke-width="1.05" />
<rect x="551.25" y="503.95" width="4.60" height="4.60" fill="#000" stroke="none" stroke-width="1" />
<line x1="553.55" y1="533.10" x2="553.55" y2="534.90" stroke="#1a1a1a" stroke-width="0.7" />
<text transform="translate(551.15,536.80) rotate(90)" font-size="7.7" fill="#1a1a1a">Krumholzibacteriota</text>
<line x1="560.85" y1="498.25" x2="560.85" y2="530.50" stroke="#262626" stroke-width="1.05" />
<rect x="558.55" y="509.45" width="4.60" height="4.60" fill="#000" stroke="none" stroke-width="1" />
<line x1="560.85" y1="533.10" x2="560.85" y2="534.90" stroke="#1a1a1a" stroke-width="0.7" />
<text transform="translate(558.45,536.80) rotate(90)" font-size="7.7" fill="#1a1a1a">Nanoarchaeota</text>
<line x1="568.15" y1="508.25" x2="568.15" y2="526.25" stroke="#262626" stroke-width="1.05" />
<rect x="565.85" y="513.95" width="4.60" height="4.60" fill="#000" stroke="none" stroke-width="1" />
<line x1="568.15" y1="533.10" x2="568.15" y2="534.90" stroke="#1a1a1a" stroke-width="0.7" />
<text transform="translate(565.75,536.80) rotate(90)" font-size="7.7" fill="#1a1a1a">4484.113</text>
<line x1="575.45" y1="500.00" x2="575.45" y2="517.50" stroke="#8a8a8a" stroke-width="1.05" />
<rect x="573.15" y="505.95" width="4.60" height="4.60" fill="#000" stroke="none" stroke-width="1" />
<line x1="575.45" y1="533.10" x2="575.45" y2="534.90" stroke="#1a1a1a" stroke-width="0.7" />
<text transform="translate(573.05,536.80) rotate(90)" font-size="7.7" fill="#1a1a1a">Bacillota_B</text>
<line x1="582.75" y1="500.75" x2="582.75" y2="528.75" stroke="#8a8a8a" stroke-width="1.05" />
<rect x="580.45" y="513.45" width="4.60" height="4.60" fill="#000" stroke="none" stroke-width="1" />
<line x1="582.75" y1="533.10" x2="582.75" y2="534.90" stroke="#1a1a1a" stroke-width="0.7" />
<text transform="translate(580.35,536.80) rotate(90)" font-size="7.7" fill="#1a1a1a">Eisenbacteria</text>
<line x1="590.05" y1="488.75" x2="590.05" y2="522.00" stroke="#262626" stroke-width="1.05" />
<rect x="587.75" y="510.95" width="4.60" height="4.60" fill="#000" stroke="none" stroke-width="1" />
<line x1="590.05" y1="533.10" x2="590.05" y2="534.90" stroke="#1a1a1a" stroke-width="0.7" />
<text transform="translate(587.65,536.80) rotate(90)" font-size="7.7" fill="#1a1a1a">EX4484.52</text>
<line x1="597.35" y1="494.50" x2="597.35" y2="521.25" stroke="#262626" stroke-width="1.05" />
<rect x="595.05" y="506.95" width="4.60" height="4.60" fill="#000" stroke="none" stroke-width="1" />
<line x1="597.35" y1="533.10" x2="597.35" y2="534.90" stroke="#1a1a1a" stroke-width="0.7" />
<text transform="translate(594.95,536.80) rotate(90)" font-size="7.7" fill="#1a1a1a">TA06</text>
<line x1="604.65" y1="497.00" x2="604.65" y2="523.75" stroke="#8a8a8a" stroke-width="1.05" />
<rect x="602.35" y="511.70" width="4.60" height="4.60" fill="#000" stroke="none" stroke-width="1" />
<line x1="604.65" y1="533.10" x2="604.65" y2="534.90" stroke="#1a1a1a" stroke-width="0.7" />
<text transform="translate(602.25,536.80) rotate(90)" font-size="7.7" fill="#1a1a1a">Zixibacteria</text>
<line x1="611.95" y1="501.25" x2="611.95" y2="524.50" stroke="#262626" stroke-width="1.05" />
<rect x="609.65" y="509.45" width="4.60" height="4.60" fill="#000" stroke="none" stroke-width="1" />
<line x1="611.95" y1="533.10" x2="611.95" y2="534.90" stroke="#1a1a1a" stroke-width="0.7" />
<text transform="translate(609.55,536.80) rotate(90)" font-size="7.7" fill="#1a1a1a">Latescibacterota</text>
<line x1="619.25" y1="497.50" x2="619.25" y2="521.25" stroke="#262626" stroke-width="1.05" />
<rect x="616.95" y="510.20" width="4.60" height="4.60" fill="#000" stroke="none" stroke-width="1" />
<line x1="619.25" y1="533.10" x2="619.25" y2="534.90" stroke="#1a1a1a" stroke-width="0.7" />
<text transform="translate(616.85,536.80) rotate(90)" font-size="7.7" fill="#1a1a1a">Aenigmatarchaeota</text>
<line x1="626.55" y1="496.25" x2="626.55" y2="514.50" stroke="#8a8a8a" stroke-width="1.05" />
<rect x="624.25" y="505.20" width="4.60" height="4.60" fill="#000" stroke="none" stroke-width="1" />
<line x1="626.55" y1="533.10" x2="626.55" y2="534.90" stroke="#1a1a1a" stroke-width="0.7" />
<text transform="translate(624.15,536.80) rotate(90)" font-size="7.7" fill="#1a1a1a">UBP14</text>
<line x1="633.85" y1="503.00" x2="633.85" y2="516.25" stroke="#8a8a8a" stroke-width="1.05" />
<rect x="631.55" y="507.20" width="4.60" height="4.60" fill="#000" stroke="none" stroke-width="1" />
<line x1="633.85" y1="533.10" x2="633.85" y2="534.90" stroke="#1a1a1a" stroke-width="0.7" />
<text transform="translate(631.45,536.80) rotate(90)" font-size="7.7" fill="#1a1a1a">NPL.UPA2</text>
<line x1="641.15" y1="502.00" x2="641.15" y2="523.00" stroke="#262626" stroke-width="1.05" />
<rect x="638.85" y="512.70" width="4.60" height="4.60" fill="#000" stroke="none" stroke-width="1" />
<line x1="641.15" y1="533.10" x2="641.15" y2="534.90" stroke="#1a1a1a" stroke-width="0.7" />
<text transform="translate(638.75,536.80) rotate(90)" font-size="7.7" fill="#1a1a1a">AUK180</text>
<line x1="648.45" y1="499.50" x2="648.45" y2="508.75" stroke="#262626" stroke-width="1.05" />
<rect x="646.15" y="503.20" width="4.60" height="4.60" fill="#000" stroke="none" stroke-width="1" />
<line x1="648.45" y1="533.10" x2="648.45" y2="534.90" stroke="#1a1a1a" stroke-width="0.7" />
<text transform="translate(646.05,536.80) rotate(90)" font-size="7.7" fill="#1a1a1a">RBG.13.66.14</text>
<line x1="655.75" y1="499.50" x2="655.75" y2="525.50" stroke="#8a8a8a" stroke-width="1.05" />
<rect x="653.45" y="514.70" width="4.60" height="4.60" fill="#000" stroke="none" stroke-width="1" />
<line x1="655.75" y1="533.10" x2="655.75" y2="534.90" stroke="#1a1a1a" stroke-width="0.7" />
<text transform="translate(653.35,536.80) rotate(90)" font-size="7.7" fill="#1a1a1a">Bacillota_A</text>
<line x1="663.05" y1="502.00" x2="663.05" y2="523.75" stroke="#262626" stroke-width="1.05" />
<rect x="660.75" y="512.70" width="4.60" height="4.60" fill="#000" stroke="none" stroke-width="1" />
<line x1="663.05" y1="533.10" x2="663.05" y2="534.90" stroke="#1a1a1a" stroke-width="0.7" />
<text transform="translate(660.65,536.80) rotate(90)" font-size="7.7" fill="#1a1a1a">Myxococcota</text>
<line x1="670.35" y1="501.25" x2="670.35" y2="521.25" stroke="#262626" stroke-width="1.05" />
<rect x="668.05" y="508.45" width="4.60" height="4.60" fill="#000" stroke="none" stroke-width="1" />
<line x1="670.35" y1="533.10" x2="670.35" y2="534.90" stroke="#1a1a1a" stroke-width="0.7" />
<text transform="translate(667.95,536.80) rotate(90)" font-size="7.7" fill="#1a1a1a">Calditrichota</text>
<line x1="677.65" y1="502.00" x2="677.65" y2="523.00" stroke="#262626" stroke-width="1.05" />
<rect x="675.35" y="511.45" width="4.60" height="4.60" fill="#000" stroke="none" stroke-width="1" />
<line x1="677.65" y1="533.10" x2="677.65" y2="534.90" stroke="#1a1a1a" stroke-width="0.7" />
<text transform="translate(675.25,536.80) rotate(90)" font-size="7.7" fill="#1a1a1a">UBA6262</text>
<text x="678.30" y="479.70" font-size="7.4" text-anchor="end" font-weight="normal" fill="#1a1a1a" >Kruskal-Wallis, <tspan font-style="italic">p</tspan> &lt; 2.2e-16</text>
<text x="309.30" y="619.90" font-size="9.5" text-anchor="start" font-weight="bold" fill="#1a1a1a" >Kingdom</text>
<rect x="360.40" y="611.90" width="10.60" height="10.20" fill="#f4ae5f" stroke="none" stroke-width="1" />
<text x="375.00" y="619.90" font-size="9.5" text-anchor="start" font-weight="normal" fill="#1a1a1a" >Archaea</text>
<rect x="417.40" y="611.90" width="10.60" height="10.20" fill="#1f9c92" stroke="none" stroke-width="1" />
<text x="432.00" y="619.90" font-size="9.5" text-anchor="start" font-weight="normal" fill="#1a1a1a" >Bacteria</text>
<text x="536.30" y="617.80" font-size="9.4" text-anchor="start" font-weight="bold" fill="#1a1a1a" >log<tspan font-size="6.0" dy="3">10</tspan><tspan dy="-3">GPM</tspan></text>
<defs><linearGradient id="vg" x1="0" x2="1" y1="0" y2="0">
<stop offset="0" stop-color="#3a2150"/><stop offset="0.05" stop-color="#3b2253"/><stop offset="0.31" stop-color="#45246a"/>
<stop offset="0.45" stop-color="#3e4784"/><stop offset="0.55" stop-color="#33718c"/><stop offset="0.64" stop-color="#2c8a8a"/>
<stop offset="0.78" stop-color="#79ac5e"/><stop offset="0.92" stop-color="#cfd140"/><stop offset="1" stop-color="#ebe030"/>
</linearGradient></defs>
<rect x="586.00" y="607.00" width="98.00" height="12.80" fill="url(#vg)" stroke="none" stroke-width="1" />
<line x1="589.30" y1="607.00" x2="589.30" y2="609.50" stroke="#fff" stroke-width="0.9" />
<line x1="589.30" y1="617.30" x2="589.30" y2="619.80" stroke="#fff" stroke-width="0.9" />
<text x="589.30" y="629.80" font-size="8.8" text-anchor="middle" font-weight="normal" fill="#1a1a1a" >&#8722;10</text>
<line x1="619.80" y1="607.00" x2="619.80" y2="609.50" stroke="#fff" stroke-width="0.9" />
<line x1="619.80" y1="617.30" x2="619.80" y2="619.80" stroke="#fff" stroke-width="0.9" />
<text x="619.80" y="629.80" font-size="8.8" text-anchor="middle" font-weight="normal" fill="#1a1a1a" >&#8722;5</text>
<line x1="650.50" y1="607.00" x2="650.50" y2="609.50" stroke="#fff" stroke-width="0.9" />
<line x1="650.50" y1="617.30" x2="650.50" y2="619.80" stroke="#fff" stroke-width="0.9" />
<text x="650.50" y="629.80" font-size="8.8" text-anchor="middle" font-weight="normal" fill="#1a1a1a" >0</text>
<line x1="681.20" y1="607.00" x2="681.20" y2="609.50" stroke="#fff" stroke-width="0.9" />
<line x1="681.20" y1="617.30" x2="681.20" y2="619.80" stroke="#fff" stroke-width="0.9" />
<text x="681.20" y="629.80" font-size="8.8" text-anchor="middle" font-weight="normal" fill="#1a1a1a" >5</text>
</svg></body></html>
